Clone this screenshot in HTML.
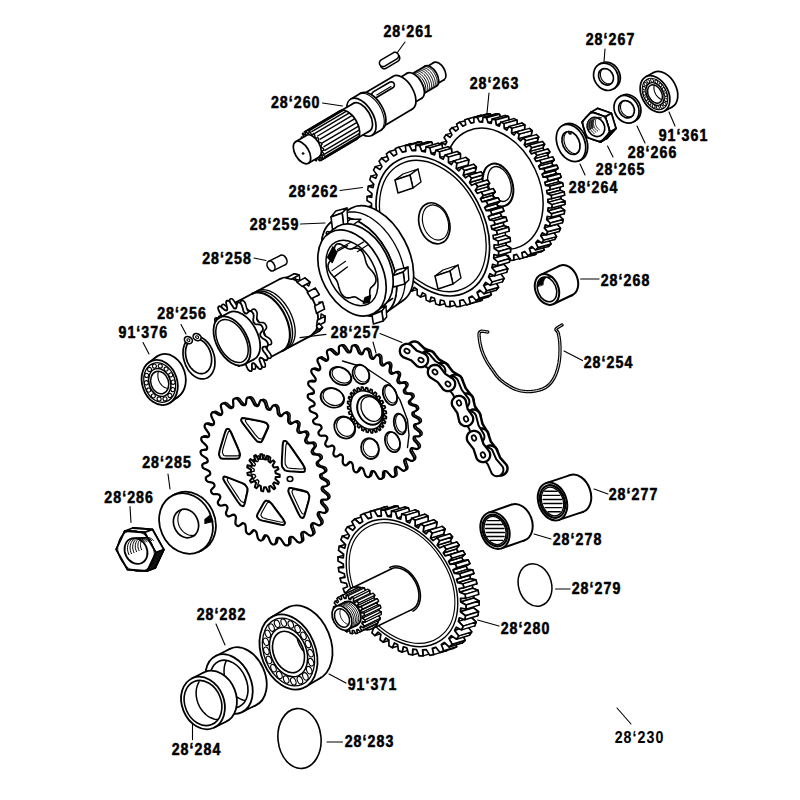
<!DOCTYPE html>
<html><head><meta charset="utf-8"><style>
html,body{margin:0;padding:0;background:#fff;width:800px;height:800px;overflow:hidden}
svg{display:block}
text{font-family:"Liberation Sans",sans-serif;fill:#000}
</style></head><body>
<svg width="800" height="800" viewBox="0 0 800 800" stroke-linejoin="round" stroke-linecap="round">
<rect width="800" height="800" fill="#fff"/>
<ellipse cx="662.9" cy="89.8" rx="19.5" ry="13.3" transform="rotate(62 662.9 89.8)" fill="#fff" stroke="#000" stroke-width="1.7"/>
<path d="M645.8,76.8 653.8,72.6 672.1,107 664.2,111.2Z" fill="#fff" stroke="none" stroke-width="0"/>
<path d="M645.8,76.8 653.8,72.6" stroke="#000" stroke-width="1.7"/>
<path d="M664.2,111.2 672.1,107" stroke="#000" stroke-width="1.7"/>
<ellipse cx="655" cy="94" rx="19.5" ry="13.3" transform="rotate(62 655 94)" fill="#fff" stroke="#000" stroke-width="1.7"/>
<ellipse cx="655" cy="94" rx="16.8" ry="11.4" transform="rotate(62 655 94)" fill="#fff" stroke="#000" stroke-width="1.1"/>
<ellipse cx="655" cy="94" rx="12.1" ry="8.2" transform="rotate(62 655 94)" fill="#fff" stroke="#000" stroke-width="1.4"/>
<ellipse cx="655" cy="94" rx="9.8" ry="6.6" transform="rotate(62 655 94)" fill="#fff" stroke="#000" stroke-width="1.5"/>
<ellipse cx="661.8" cy="106.7" rx="1.9" ry="1.3" transform="rotate(62 661.8 106.7)" fill="#fff" stroke="#000" stroke-width="1"/>
<ellipse cx="657.9" cy="107.5" rx="1.9" ry="1.3" transform="rotate(62 657.9 107.5)" fill="#fff" stroke="#000" stroke-width="1"/>
<ellipse cx="653.7" cy="106.3" rx="1.9" ry="1.3" transform="rotate(62 653.7 106.3)" fill="#fff" stroke="#000" stroke-width="1"/>
<ellipse cx="649.6" cy="103.1" rx="1.9" ry="1.3" transform="rotate(62 649.6 103.1)" fill="#fff" stroke="#000" stroke-width="1"/>
<ellipse cx="646.3" cy="98.6" rx="1.9" ry="1.3" transform="rotate(62 646.3 98.6)" fill="#fff" stroke="#000" stroke-width="1"/>
<ellipse cx="644.4" cy="93.4" rx="1.9" ry="1.3" transform="rotate(62 644.4 93.4)" fill="#fff" stroke="#000" stroke-width="1"/>
<ellipse cx="644.1" cy="88.2" rx="1.9" ry="1.3" transform="rotate(62 644.1 88.2)" fill="#fff" stroke="#000" stroke-width="1"/>
<ellipse cx="645.4" cy="84" rx="1.9" ry="1.3" transform="rotate(62 645.4 84)" fill="#fff" stroke="#000" stroke-width="1"/>
<ellipse cx="648.2" cy="81.3" rx="1.9" ry="1.3" transform="rotate(62 648.2 81.3)" fill="#fff" stroke="#000" stroke-width="1"/>
<ellipse cx="652.1" cy="80.5" rx="1.9" ry="1.3" transform="rotate(62 652.1 80.5)" fill="#fff" stroke="#000" stroke-width="1"/>
<ellipse cx="656.3" cy="81.7" rx="1.9" ry="1.3" transform="rotate(62 656.3 81.7)" fill="#fff" stroke="#000" stroke-width="1"/>
<ellipse cx="660.4" cy="84.9" rx="1.9" ry="1.3" transform="rotate(62 660.4 84.9)" fill="#fff" stroke="#000" stroke-width="1"/>
<ellipse cx="663.7" cy="89.4" rx="1.9" ry="1.3" transform="rotate(62 663.7 89.4)" fill="#fff" stroke="#000" stroke-width="1"/>
<ellipse cx="665.6" cy="94.6" rx="1.9" ry="1.3" transform="rotate(62 665.6 94.6)" fill="#fff" stroke="#000" stroke-width="1"/>
<ellipse cx="665.9" cy="99.8" rx="1.9" ry="1.3" transform="rotate(62 665.9 99.8)" fill="#fff" stroke="#000" stroke-width="1"/>
<ellipse cx="664.6" cy="104" rx="1.9" ry="1.3" transform="rotate(62 664.6 104)" fill="#fff" stroke="#000" stroke-width="1"/>
<path d="M661.6,99.4 661,99.2 660.5,98.9 660,98.7 659.5,98.3 659,98 658.5,97.5 658,97.1 657.6,96.6 657.1,96.1 656.7,95.6 656.3,95.1 655.9,94.5 655.6,93.9 655.3,93.3 655,92.6 654.7,92 654.5,91.4 654.3,90.7 654.2,90.1 654.1,89.4 654,88.8 653.9,88.2 653.9,87.6 654,87 654,86.4 654.1,85.8 654.3,85.3" fill="none" stroke="#000" stroke-width="1.1"/>
<ellipse cx="607.9" cy="75.7" rx="14.2" ry="11.8" transform="rotate(60 607.9 75.7)" fill="#fff" stroke="#000" stroke-width="1.7"/>
<path d="M598.9,64.5 600.8,63.4 615,88 613.1,89.1Z" fill="#fff" stroke="none" stroke-width="0"/>
<path d="M598.9,64.5 600.8,63.4" stroke="#000" stroke-width="1.7"/>
<path d="M613.1,89.1 615,88" stroke="#000" stroke-width="1.7"/>
<ellipse cx="606" cy="76.8" rx="14.2" ry="11.8" transform="rotate(60 606 76.8)" fill="#fff" stroke="#000" stroke-width="1.7"/>
<ellipse cx="606" cy="76.8" rx="8.6" ry="7.1" transform="rotate(60 606 76.8)" fill="#fff" stroke="#000" stroke-width="1.7"/>
<path d="M610.8,83.7 610.3,83.8 609.8,83.9 609.3,84 608.8,83.9 608.2,83.9 607.7,83.8 607.2,83.7 606.6,83.5 606.1,83.3 605.6,83.1 605.1,82.8 604.6,82.5 604.2,82.1 603.7,81.7 603.3,81.3 602.9,80.9 602.5,80.4 602.1,79.9 601.8,79.4 601.5,78.9 601.2,78.3 601,77.8 600.8,77.2 600.7,76.6 600.5,76 600.4,75.5 600.4,74.9 600.4,74.3 600.4,73.7 600.5,73.2 600.6,72.6 600.7,72.1 600.9,71.6 601.1,71.1 601.3,70.6 601.6,70.2 601.9,69.7 602.2,69.4" fill="none" stroke="#000" stroke-width="1.1"/>
<ellipse cx="628.4" cy="108.2" rx="14.3" ry="11.9" transform="rotate(60 628.4 108.2)" fill="#fff" stroke="#000" stroke-width="1.7"/>
<path d="M619.4,96.9 621.3,95.8 635.6,120.6 633.6,121.7Z" fill="#fff" stroke="none" stroke-width="0"/>
<path d="M619.4,96.9 621.3,95.8" stroke="#000" stroke-width="1.7"/>
<path d="M633.6,121.7 635.6,120.6" stroke="#000" stroke-width="1.7"/>
<ellipse cx="626.5" cy="109.3" rx="14.3" ry="11.9" transform="rotate(60 626.5 109.3)" fill="#fff" stroke="#000" stroke-width="1.7"/>
<ellipse cx="626.5" cy="109.3" rx="9" ry="7.5" transform="rotate(60 626.5 109.3)" fill="#fff" stroke="#000" stroke-width="1.7"/>
<path d="M631.4,116.6 630.9,116.7 630.4,116.8 629.8,116.8 629.3,116.8 628.7,116.8 628.2,116.7 627.6,116.6 627.1,116.4 626.5,116.2 626,115.9 625.5,115.6 625,115.3 624.5,114.9 624,114.5 623.6,114.1 623.1,113.6 622.7,113.1 622.4,112.6 622,112.1 621.7,111.5 621.4,110.9 621.2,110.4 621,109.8 620.8,109.2 620.7,108.6 620.6,107.9 620.5,107.3 620.5,106.7 620.6,106.1 620.6,105.5 620.7,105 620.9,104.4 621,103.9 621.3,103.4 621.5,102.9 621.8,102.4 622.1,102 622.5,101.6" fill="none" stroke="#000" stroke-width="1.1"/>
<path d="M606.7,138.6 592.8,133.7 588.1,118.5 597.4,108.4 611.4,113.3 616,128.5Z" fill="#fff" stroke="#000" stroke-width="1.7"/>
<path d="M610,132 600.7,142.1 606.7,138.6 616,128.5Z" fill="#fff" stroke="#000" stroke-width="1.7"/>
<path d="M591.3,111.9 605.3,116.8 611.4,113.3 597.4,108.4Z" fill="#fff" stroke="#000" stroke-width="1.7"/>
<path d="M605.3,116.8 610,132 616,128.5 611.4,113.3Z" fill="#fff" stroke="#000" stroke-width="1.7"/>
<path d="M600.7,142.1 586.7,137.2 582,122 591.3,111.9 605.3,116.8 610,132Z" fill="#fff" stroke="#000" stroke-width="1.7"/>
<path d="M610,132 600.7,142.1 606.7,138.6 616,128.5Z" fill="#111" stroke="#000" stroke-width="1.1"/>
<path d="M600.7,142.1 586.7,137.2 582,122 591.3,111.9 605.3,116.8 610,132Z" fill="#fff" stroke="#000" stroke-width="1.7"/>
<ellipse cx="596" cy="127" rx="14.7" ry="12.5" transform="rotate(60 596 127)" fill="none" stroke="#000" stroke-width="0.8"/>
<ellipse cx="596" cy="127" rx="9.9" ry="8.4" transform="rotate(60 596 127)" fill="#fff" stroke="#000" stroke-width="1.7"/>
<path d="M587.9,129.7 587.6,128.7 587.4,127.8 587.2,126.9 587.2,125.9 587.2,125 587.3,124.1 587.5,123.2 587.8,122.3 588.1,121.5 588.5,120.8 589,120.1 589.6,119.5 590.2,118.9 590.9,118.5 591.7,118.1 592.4,117.8 593.3,117.6 594.1,117.5 595,117.4 595.8,117.5 596.7,117.7 597.6,117.9 598.4,118.2 601.6,117.9 600.9,117.6 600.2,117.4 599.5,117.3 598.8,117.2 598.1,117.3 597.4,117.4 596.8,117.5 596.2,117.8 595.6,118.1 595,118.5 594.5,118.9 594.1,119.4 593.7,119.9 593.3,120.5 593,121.2 592.8,121.9 592.7,122.6 592.6,123.3 592.6,124 592.6,124.8 592.8,125.5 592.9,126.3 593.2,127Z" fill="#555" stroke="#000" stroke-width="0.9"/>
<path d="M594.2,133.5 593.6,133.1 593,132.6 592.4,132 591.9,131.4 591.4,130.8 591,130.2 590.6,129.5 590.3,128.8 590,128.1 589.8,127.3 589.6,126.6 589.5,125.8 589.4,125.1 589.4,124.3 589.5,123.6 589.6,122.9 589.8,122.2 590,121.5 590.3,120.9" fill="none" stroke="#000" stroke-width="0.9"/>
<path d="M595.9,132.2 595.3,131.8 594.7,131.3 594.2,130.8 593.7,130.3 593.3,129.7 592.9,129.1 592.5,128.4 592.2,127.8 591.9,127.1 591.7,126.4 591.6,125.7 591.5,125 591.4,124.3 591.4,123.6 591.4,122.9 591.6,122.2 591.7,121.5 591.9,120.9 592.2,120.3" fill="none" stroke="#000" stroke-width="0.9"/>
<path d="M597.6,131 597,130.6 596.5,130.1 596,129.6 595.6,129.1 595.1,128.6 594.8,128 594.4,127.4 594.1,126.7 593.9,126.1 593.7,125.4 593.5,124.8 593.4,124.1 593.4,123.4 593.4,122.8 593.4,122.1 593.5,121.5 593.6,120.8 593.8,120.2 594.1,119.7" fill="none" stroke="#000" stroke-width="0.9"/>
<path d="M599.3,129.7 598.8,129.3 598.3,128.9 597.8,128.4 597.4,128 597,127.4 596.6,126.9 596.3,126.3 596,125.7 595.8,125.1 595.6,124.5 595.5,123.9 595.4,123.2 595.3,122.6 595.3,122 595.4,121.4 595.4,120.8 595.6,120.2 595.8,119.6 596,119.1" fill="none" stroke="#000" stroke-width="0.9"/>
<ellipse cx="573" cy="142.1" rx="19.5" ry="13.6" transform="rotate(66 573 142.1)" fill="#fff" stroke="#000" stroke-width="1.7"/>
<path d="M563.1,125.2 565.1,124.3 580.9,159.9 578.9,160.8Z" fill="#fff" stroke="none" stroke-width="0"/>
<path d="M563.1,125.2 565.1,124.3" stroke="#000" stroke-width="1.7"/>
<path d="M578.9,160.8 580.9,159.9" stroke="#000" stroke-width="1.7"/>
<ellipse cx="571" cy="143" rx="19.5" ry="13.6" transform="rotate(66 571 143)" fill="#fff" stroke="#000" stroke-width="1.7"/>
<ellipse cx="571" cy="143" rx="12" ry="8.4" transform="rotate(66 571 143)" fill="#fff" stroke="#000" stroke-width="1.7"/>
<path d="M576.2,153.5 575.6,153.6 574.9,153.6 574.3,153.5 573.7,153.4 573,153.2 572.4,153 571.7,152.7 571.1,152.3 570.5,151.9 569.9,151.5 569.3,151 568.7,150.5 568.2,149.9 567.6,149.3 567.1,148.6 566.6,147.9 566.2,147.2 565.8,146.5 565.4,145.7 565.1,144.9 564.8,144.1 564.5,143.3 564.3,142.5 564.2,141.7 564,140.9 564,140.1 563.9,139.3 563.9,138.5 564,137.8 564.1,137 564.2,136.3 564.4,135.6 564.6,135 564.9,134.4 565.2,133.8 565.6,133.3 566,132.8 566.4,132.3" fill="none" stroke="#000" stroke-width="1.1"/>
<path d="M568.5,131.5 569.2,133.8 570.9,134.1 571.2,132Z" fill="#fff" stroke="#000" stroke-width="1.4"/>
<ellipse cx="439" cy="71.1" rx="10" ry="5.5" transform="rotate(59.3 439 71.1)" fill="#fff" stroke="#000" stroke-width="1.7"/>
<path d="M434.2,85.6 444.1,79.7 433.9,62.5 424,68.4Z" fill="#fff" stroke="none" stroke-width="0"/>
<path d="M434.2,85.6 444.1,79.7" stroke="#000" stroke-width="1.7"/>
<path d="M424,68.4 433.9,62.5" stroke="#000" stroke-width="1.7"/>
<ellipse cx="429.1" cy="77" rx="10" ry="5.5" transform="rotate(59.3 429.1 77)" fill="#fff" stroke="#000" stroke-width="1.7"/>
<ellipse cx="430.8" cy="76" rx="11.5" ry="6.3" transform="rotate(59.3 430.8 76)" fill="#fff" stroke="#000" stroke-width="1.7"/>
<path d="M420.1,95.7 436.6,85.9 424.9,66.2 408.4,76Z" fill="#fff" stroke="none" stroke-width="0"/>
<path d="M420.1,95.7 436.6,85.9" stroke="#000" stroke-width="1.7"/>
<path d="M408.4,76 424.9,66.2" stroke="#000" stroke-width="1.7"/>
<ellipse cx="414.3" cy="85.8" rx="11.5" ry="6.3" transform="rotate(59.3 414.3 85.8)" fill="#fff" stroke="#000" stroke-width="1.7"/>
<path d="M411,74.6 411.6,74.5 412.3,74.5 413,74.6 413.7,74.7 414.5,75 415.3,75.4 416,75.9 416.8,76.4 417.6,77 418.3,77.7 419.1,78.5 419.8,79.3 420.4,80.2 421.1,81.2 421.6,82.1 422.1,83.1 422.6,84.1 423,85.1 423.3,86.1 423.6,87.1 423.8,88.1 423.9,89.1 423.9,90 423.9,90.8 423.8,91.6 423.6,92.4 423.3,93 423,93.6 422.6,94.1" fill="none" stroke="#000" stroke-width="1"/>
<path d="M412.9,73.5 413.5,73.4 414.2,73.3 414.9,73.4 415.6,73.6 416.4,73.9 417.2,74.3 417.9,74.7 418.7,75.3 419.5,75.9 420.2,76.6 421,77.4 421.7,78.2 422.3,79.1 423,80 423.5,81 424,82 424.5,83 424.9,84 425.2,85 425.5,86 425.7,87 425.8,87.9 425.8,88.8 425.8,89.7 425.7,90.5 425.5,91.2 425.2,91.9 424.9,92.5 424.5,93" fill="none" stroke="#000" stroke-width="1"/>
<path d="M414.8,72.3 415.4,72.2 416.1,72.2 416.8,72.3 417.5,72.5 418.3,72.8 419.1,73.1 419.8,73.6 420.6,74.2 421.4,74.8 422.1,75.5 422.9,76.3 423.6,77.1 424.2,78 424.9,78.9 425.4,79.9 425.9,80.9 426.4,81.9 426.8,82.9 427.1,83.9 427.4,84.9 427.6,85.9 427.7,86.8 427.7,87.7 427.7,88.6 427.6,89.4 427.4,90.1 427.1,90.8 426.8,91.4 426.4,91.9" fill="none" stroke="#000" stroke-width="1"/>
<path d="M416.7,71.2 417.3,71.1 418,71.1 418.7,71.2 419.4,71.4 420.2,71.6 421,72 421.7,72.5 422.5,73 423.3,73.7 424,74.4 424.8,75.1 425.5,76 426.1,76.8 426.8,77.8 427.3,78.7 427.8,79.7 428.3,80.7 428.7,81.7 429,82.8 429.3,83.8 429.5,84.7 429.6,85.7 429.6,86.6 429.6,87.4 429.5,88.2 429.3,89 429,89.6 428.7,90.2 428.3,90.7" fill="none" stroke="#000" stroke-width="1"/>
<path d="M418.6,70.1 419.2,70 419.9,70 420.6,70 421.3,70.2 422.1,70.5 422.9,70.9 423.6,71.3 424.4,71.9 425.2,72.5 425.9,73.2 426.7,74 427.4,74.8 428,75.7 428.7,76.6 429.2,77.6 429.7,78.6 430.2,79.6 430.6,80.6 430.9,81.6 431.2,82.6 431.4,83.6 431.5,84.6 431.5,85.5 431.5,86.3 431.4,87.1 431.2,87.9 430.9,88.5 430.6,89.1 430.2,89.6" fill="none" stroke="#000" stroke-width="1"/>
<path d="M420.5,69 421.1,68.8 421.8,68.8 422.5,68.9 423.2,69.1 424,69.4 424.8,69.8 425.5,70.2 426.3,70.8 427.1,71.4 427.8,72.1 428.6,72.9 429.3,73.7 429.9,74.6 430.6,75.5 431.1,76.5 431.6,77.5 432.1,78.5 432.5,79.5 432.8,80.5 433.1,81.5 433.3,82.5 433.4,83.4 433.4,84.3 433.4,85.2 433.2,86 433.1,86.7 432.8,87.4 432.5,88 432.1,88.5" fill="none" stroke="#000" stroke-width="1"/>
<path d="M422.4,67.8 423,67.7 423.7,67.7 424.4,67.8 425.1,68 425.9,68.3 426.7,68.6 427.4,69.1 428.2,69.6 429,70.3 429.7,71 430.5,71.7 431.2,72.6 431.8,73.5 432.5,74.4 433,75.4 433.5,76.3 434,77.4 434.4,78.4 434.7,79.4 435,80.4 435.2,81.4 435.3,82.3 435.3,83.2 435.3,84.1 435.1,84.9 435,85.6 434.7,86.3 434.4,86.9 434,87.4" fill="none" stroke="#000" stroke-width="1"/>
<path d="M424.3,66.7 424.9,66.6 425.6,66.6 426.3,66.7 427,66.8 427.8,67.1 428.6,67.5 429.3,68 430.1,68.5 430.9,69.1 431.6,69.8 432.4,70.6 433.1,71.5 433.7,72.3 434.3,73.3 434.9,74.2 435.4,75.2 435.9,76.2 436.3,77.2 436.6,78.2 436.9,79.2 437.1,80.2 437.2,81.2 437.2,82.1 437.2,82.9 437,83.7 436.9,84.5 436.6,85.1 436.3,85.7 435.9,86.2" fill="none" stroke="#000" stroke-width="1"/>
<ellipse cx="414.3" cy="85.8" rx="14.5" ry="8" transform="rotate(59.3 414.3 85.8)" fill="#fff" stroke="#000" stroke-width="1.7"/>
<path d="M409.3,105.7 421.7,98.3 406.9,73.4 394.5,80.7Z" fill="#fff" stroke="none" stroke-width="0"/>
<path d="M409.3,105.7 421.7,98.3" stroke="#000" stroke-width="1.7"/>
<path d="M394.5,80.7 406.9,73.4" stroke="#000" stroke-width="1.7"/>
<ellipse cx="401.9" cy="93.2" rx="14.5" ry="8" transform="rotate(59.3 401.9 93.2)" fill="#fff" stroke="#000" stroke-width="1.7"/>
<ellipse cx="402.7" cy="92.7" rx="19" ry="10.5" transform="rotate(59.3 402.7 92.7)" fill="#fff" stroke="#000" stroke-width="1.7"/>
<path d="M381,127.7 412.4,109 393,76.4 361.6,95Z" fill="#fff" stroke="none" stroke-width="0"/>
<path d="M381,127.7 412.4,109" stroke="#000" stroke-width="1.7"/>
<path d="M361.6,95 393,76.4" stroke="#000" stroke-width="1.7"/>
<ellipse cx="371.3" cy="111.3" rx="19" ry="10.5" transform="rotate(59.3 371.3 111.3)" fill="#fff" stroke="#000" stroke-width="1.7"/>
<path d="M376.5,97.5 375.5,97.8 374.3,97.9 373.3,97.5 372.4,96.8 371.9,95.8 371.7,94.7 371.8,93.6 372.4,92.7 373.2,91.9 389.6,82.2 390.6,81.9 391.7,81.8 392.8,82.2 393.6,82.9 394.2,83.9 394.4,85 394.2,86.1 393.7,87 392.8,87.8Z" fill="#fff" stroke="#000" stroke-width="1.6"/>
<path d="M376.8,95 391,86.5" stroke="#000" stroke-width="1.1"/>
<ellipse cx="371.3" cy="111.3" rx="21" ry="11.6" transform="rotate(59.3 371.3 111.3)" fill="#fff" stroke="#000" stroke-width="1.7"/>
<path d="M372.2,135.3 382.1,129.4 360.6,93.3 350.7,99.2Z" fill="#fff" stroke="none" stroke-width="0"/>
<path d="M372.2,135.3 382.1,129.4" stroke="#000" stroke-width="1.7"/>
<path d="M350.7,99.2 360.6,93.3" stroke="#000" stroke-width="1.7"/>
<ellipse cx="361.4" cy="117.2" rx="21" ry="11.6" transform="rotate(59.3 361.4 117.2)" fill="#fff" stroke="#000" stroke-width="1.7"/>
<path d="M360.7,93.6 361.8,93.4 363,93.3 364.3,93.5 365.7,93.8 367.1,94.3 368.5,95 369.9,95.9 371.3,96.9 372.7,98 374.1,99.3 375.5,100.7 376.7,102.2 378,103.8 379.1,105.5 380.1,107.3 381.1,109.1 381.9,110.9 382.6,112.8 383.2,114.6 383.7,116.5 384,118.3 384.2,120 384.3,121.6 384.2,123.2 384,124.7 383.7,126 383.2,127.2 382.6,128.3 381.8,129.2" fill="none" stroke="#000" stroke-width="1.1"/>
<ellipse cx="361.4" cy="117.2" rx="16" ry="8.8" transform="rotate(59.3 361.4 117.2)" fill="#fff" stroke="#000" stroke-width="1.7"/>
<path d="M355.6,139.3 369.6,131 353.3,103.5 339.2,111.8Z" fill="#fff" stroke="none" stroke-width="0"/>
<path d="M355.6,139.3 369.6,131" stroke="#000" stroke-width="1.7"/>
<path d="M339.2,111.8 353.3,103.5" stroke="#000" stroke-width="1.7"/>
<ellipse cx="347.4" cy="125.5" rx="16" ry="8.8" transform="rotate(59.3 347.4 125.5)" fill="#fff" stroke="#000" stroke-width="1.7"/>
<ellipse cx="348.2" cy="125.1" rx="16.5" ry="9.1" transform="rotate(59.3 348.2 125.1)" fill="#fff" stroke="#000" stroke-width="1.7"/>
<path d="M321.2,160.3 356.6,139.2 339.8,110.9 304.3,131.9Z" fill="#fff" stroke="none" stroke-width="0"/>
<path d="M321.2,160.3 356.6,139.2" stroke="#000" stroke-width="1.7"/>
<path d="M304.3,131.9 339.8,110.9" stroke="#000" stroke-width="1.7"/>
<path d="M306.5,130.9 340.3,110.8" stroke="#000" stroke-width="1.4"/>
<path d="M309,130.8 342.8,110.7" stroke="#000" stroke-width="1.4"/>
<path d="M311.8,131.6 345.7,111.6" stroke="#000" stroke-width="1.4"/>
<path d="M314.8,133.4 348.6,113.3" stroke="#000" stroke-width="1.4"/>
<path d="M317.6,136 351.5,115.9" stroke="#000" stroke-width="1.4"/>
<path d="M320.2,139.2 354.1,119.1" stroke="#000" stroke-width="1.4"/>
<path d="M322.4,142.9 356.2,122.8" stroke="#000" stroke-width="1.4"/>
<path d="M324,146.7 357.8,126.6" stroke="#000" stroke-width="1.4"/>
<path d="M324.9,150.4 358.7,130.3" stroke="#000" stroke-width="1.4"/>
<path d="M325,153.9 358.8,133.8" stroke="#000" stroke-width="1.4"/>
<path d="M324.4,156.8 358.3,136.7" stroke="#000" stroke-width="1.4"/>
<path d="M323.1,158.9 356.9,138.8" stroke="#000" stroke-width="1.4"/>
<path d="M319.6,157.7 320.3,160.7 319.5,160.9 317.5,158.3 316.7,158.3 316.5,160.8 315.4,160.5 314,157.5 313.1,157 312,158.7 310.9,157.9 310.3,154.9 309.5,154.1 307.7,154.7 306.7,153.4 307.1,151 306.3,149.9 304.1,149.3 303.4,147.9 304.6,146.4 304.2,145.2 301.9,143.5 301.6,142.1 303.4,141.7 303.3,140.6 301.3,138.1 301.4,136.9 303.6,137.7 303.9,136.9 302.4,133.9 302.9,133.1 305.2,134.9 305.8,134.5 305.1,131.6 306,131.3 308,133.9 308.8,134 309,131.4 310.1,131.8 311.5,134.8 312.4,135.2 313.4,133.5 314.5,134.4 315.1,137.3 316,138.2 317.8,137.6 318.7,138.8 318.4,141.2 319.1,142.3 321.3,142.9 322,144.4 320.8,145.9 321.3,147.1 323.6,148.7 323.9,150.2 322,150.6 322.1,151.7 324.2,154.2 324.1,155.4 321.8,154.6 321.5,155.4 323.1,158.4 322.5,159.1 320.2,157.3Z" fill="#fff" stroke="#000" stroke-width="1.4"/>
<ellipse cx="312.7" cy="146.1" rx="12.5" ry="6.9" transform="rotate(59.3 312.7 146.1)" fill="#fff" stroke="#000" stroke-width="1.7"/>
<path d="M308.4,163.2 319.1,156.9 306.3,135.4 295.6,141.8Z" fill="#fff" stroke="none" stroke-width="0"/>
<path d="M308.4,163.2 319.1,156.9" stroke="#000" stroke-width="1.7"/>
<path d="M295.6,141.8 306.3,135.4" stroke="#000" stroke-width="1.7"/>
<ellipse cx="302" cy="152.5" rx="12.5" ry="6.9" transform="rotate(59.3 302 152.5)" fill="#fff" stroke="#000" stroke-width="1.7"/>
<ellipse cx="303" cy="153.5" rx="1" ry="1" transform="rotate(0 303 153.5)" fill="#000" stroke="#000" stroke-width="0.6"/>
<path d="M386,68.3 384.9,68.7 383.6,68.8 382.4,68.3 381.5,67.5 380.8,66.5 380.6,65.2 380.8,64 381.4,62.9 382.4,62.1 394.4,55 395.6,54.5 396.8,54.5 398,54.9 399,55.7 399.6,56.8 399.8,58 399.6,59.2 399,60.3 398.1,61.1Z" fill="#fff" stroke="#000" stroke-width="1.5"/>
<path d="M384.8,66.1 383.7,66.5 382.4,66.6 381.2,66.1 380.3,65.3 379.6,64.3 379.4,63 379.6,61.8 380.2,60.7 381.2,59.9 393.2,52.8 394.4,52.3 395.6,52.3 396.8,52.7 397.8,53.5 398.4,54.6 398.6,55.8 398.4,57 397.8,58.1 396.9,58.9Z" fill="#fff" stroke="#000" stroke-width="1.5"/>
<path d="M534.8,249.3 535.8,254.3 532.5,255.4 529.7,250.9 526.6,251.6 526.8,256.6 523.4,256.9 521.2,252.1 518,252 517.6,256.8 514.2,256.3 512.6,251.4 509.4,250.7 508.5,255.1 505.2,254.1 504.3,249.1 501.3,247.9 499.8,252 496.7,250.5 496.4,245.6 493.6,243.9 491.7,247.6 488.8,245.7 489.1,241 486.5,239 484.2,242.2 481.5,240 482.4,235.5 480.1,233.3 477.3,236 474.9,233.5 476.4,229.4 474.3,227 471.2,229.1 469,226.4 470.9,222.7 469.1,220.1 465.7,221.6 463.8,218.7 466.2,215.5 464.5,212.7 460.9,213.7 459.3,210.6 462,208 460.7,205 456.8,205.4 455.5,202.2 458.6,200 457.5,197 453.6,196.8 452.5,193.4 455.9,191.9 455.1,188.7 451.1,187.9 450.3,184.5 454,183.5 453.4,180.3 449.4,178.7 449,175.3 452.8,174.9 452.7,171.7 448.7,169.5 448.7,166.1 452.6,166.3 452.8,163.1 449,160.3 449.4,156.8 453.4,157.7 454,154.5 450.4,151.1 451.2,147.8 455.3,149.3 456.3,146.2 453.1,142.3 454.4,139.1 458.4,141.3 459.9,138.4 457.1,134 459,131.1 462.9,133.9 464.9,131.4 462.6,126.6 465.1,124.1 468.7,127.6 471.3,125.6 469.6,120.5 472.6,118.7 475.8,122.7 478.8,121.3 477.8,116.3 481.1,115.2 483.9,119.7 487,119 486.8,114 490.2,113.7 492.4,118.5 495.6,118.6 496,113.8 499.4,114.3 501,119.2 504.2,119.9 505.1,115.5 508.4,116.5 509.3,121.5 512.3,122.7 513.8,118.6 516.9,120.1 517.2,125 520,126.7 521.9,123 524.8,124.9 524.5,129.6 527.1,131.6 529.4,128.4 532.1,130.6 531.2,135.1 533.5,137.3 536.3,134.6 538.7,137.1 537.2,141.2 539.3,143.6 542.4,141.5 544.6,144.2 542.7,147.9 544.5,150.5 547.9,149 549.8,151.9 547.4,155.1 549.1,157.9 552.7,156.9 554.3,160 551.6,162.6 552.9,165.6 556.8,165.2 558.1,168.4 555,170.6 556.1,173.6 560,173.8 561.1,177.2 557.7,178.7 558.5,181.9 562.5,182.7 563.3,186.1 559.6,187.1 560.2,190.3 564.2,191.9 564.6,195.3 560.8,195.7 560.9,198.9 564.9,201.1 564.9,204.5 561,204.3 560.8,207.5 564.6,210.3 564.2,213.8 560.2,212.9 559.6,216.1 563.2,219.5 562.4,222.8 558.3,221.3 557.3,224.4 560.5,228.3 559.2,231.5 555.2,229.3 553.7,232.2 556.5,236.6 554.6,239.5 550.7,236.7 548.7,239.2 551,244 548.5,246.5 544.9,243 542.3,245 544,250.1 541,251.9 537.8,247.9Z" fill="#fff" stroke="#000" stroke-width="1.6"/>
<path d="M436,178.8 439.8,178.4 452.8,174.9 449,175.3Z" fill="#fff" stroke="#000" stroke-width="1.5"/>
<path d="M451.5,216.2 447.9,217.2 460.9,213.7 464.5,212.7Z" fill="#fff" stroke="#000" stroke-width="1.5"/>
<path d="M435.7,169.6 439.6,169.8 452.6,166.3 448.7,166.1Z" fill="#fff" stroke="#000" stroke-width="1.5"/>
<path d="M456.1,223.6 452.7,225.1 465.7,221.6 469.1,220.1Z" fill="#fff" stroke="#000" stroke-width="1.5"/>
<path d="M436.4,160.3 440.4,161.2 453.4,157.7 449.4,156.8Z" fill="#fff" stroke="#000" stroke-width="1.5"/>
<path d="M461.3,230.5 458.2,232.6 471.2,229.1 474.3,227Z" fill="#fff" stroke="#000" stroke-width="1.5"/>
<path d="M438.2,151.3 442.3,152.8 455.3,149.3 451.2,147.8Z" fill="#fff" stroke="#000" stroke-width="1.5"/>
<path d="M467.1,236.8 464.3,239.5 477.3,236 480.1,233.3Z" fill="#fff" stroke="#000" stroke-width="1.5"/>
<path d="M441.4,142.6 445.4,144.8 458.4,141.3 454.4,139.1Z" fill="#fff" stroke="#000" stroke-width="1.5"/>
<path d="M473.5,242.5 471.2,245.7 484.2,242.2 486.5,239Z" fill="#fff" stroke="#000" stroke-width="1.5"/>
<path d="M446,134.6 449.9,137.4 462.9,133.9 459,131.1Z" fill="#fff" stroke="#000" stroke-width="1.5"/>
<path d="M480.6,247.4 478.7,251.1 491.7,247.6 493.6,243.9Z" fill="#fff" stroke="#000" stroke-width="1.5"/>
<path d="M452.1,127.6 455.7,131.1 468.7,127.6 465.1,124.1Z" fill="#fff" stroke="#000" stroke-width="1.5"/>
<path d="M488.3,251.4 486.8,255.5 499.8,252 501.3,247.9Z" fill="#fff" stroke="#000" stroke-width="1.5"/>
<path d="M496.4,254.2 495.5,258.6 508.5,255.1 509.4,250.7Z" fill="#fff" stroke="#000" stroke-width="1.5"/>
<path d="M459.6,122.2 462.8,126.2 475.8,122.7 472.6,118.7Z" fill="#fff" stroke="#000" stroke-width="1.5"/>
<path d="M505,255.5 504.6,260.3 517.6,256.8 518,252Z" fill="#fff" stroke="#000" stroke-width="1.5"/>
<path d="M468.1,118.7 470.9,123.2 483.9,119.7 481.1,115.2Z" fill="#fff" stroke="#000" stroke-width="1.5"/>
<path d="M470.9,123.2 474,122.5 487,119 483.9,119.7Z" fill="#fff" stroke="#000" stroke-width="1.5"/>
<path d="M473.8,117.5 477.2,117.2 490.2,113.7 486.8,114Z" fill="#fff" stroke="#000" stroke-width="1.5"/>
<path d="M513.6,255.1 513.8,260.1 526.8,256.6 526.6,251.6Z" fill="#fff" stroke="#000" stroke-width="1.5"/>
<path d="M477.2,117.2 479.4,122 492.4,118.5 490.2,113.7Z" fill="#fff" stroke="#000" stroke-width="1.5"/>
<path d="M479.4,122 482.6,122.1 495.6,118.6 492.4,118.5Z" fill="#fff" stroke="#000" stroke-width="1.5"/>
<path d="M522.8,257.8 519.5,258.9 532.5,255.4 535.8,254.3Z" fill="#fff" stroke="#000" stroke-width="1.5"/>
<path d="M483,117.3 486.4,117.8 499.4,114.3 496,113.8Z" fill="#fff" stroke="#000" stroke-width="1.5"/>
<path d="M521.8,252.8 522.8,257.8 535.8,254.3 534.8,249.3Z" fill="#fff" stroke="#000" stroke-width="1.5"/>
<path d="M486.4,117.8 488,122.7 501,119.2 499.4,114.3Z" fill="#fff" stroke="#000" stroke-width="1.5"/>
<path d="M524.8,251.4 521.8,252.8 534.8,249.3 537.8,247.9Z" fill="#fff" stroke="#000" stroke-width="1.5"/>
<path d="M488,122.7 491.2,123.4 504.2,119.9 501,119.2Z" fill="#fff" stroke="#000" stroke-width="1.5"/>
<path d="M531,253.6 528,255.4 541,251.9 544,250.1Z" fill="#fff" stroke="#000" stroke-width="1.5"/>
<path d="M492.1,119 495.4,120 508.4,116.5 505.1,115.5Z" fill="#fff" stroke="#000" stroke-width="1.5"/>
<path d="M529.3,248.5 531,253.6 544,250.1 542.3,245Z" fill="#fff" stroke="#000" stroke-width="1.5"/>
<path d="M495.4,120 496.3,125 509.3,121.5 508.4,116.5Z" fill="#fff" stroke="#000" stroke-width="1.5"/>
<path d="M531.9,246.5 529.3,248.5 542.3,245 544.9,243Z" fill="#fff" stroke="#000" stroke-width="1.5"/>
<path d="M496.3,125 499.3,126.2 512.3,122.7 509.3,121.5Z" fill="#fff" stroke="#000" stroke-width="1.5"/>
<path d="M500.8,122.1 503.9,123.6 516.9,120.1 513.8,118.6Z" fill="#fff" stroke="#000" stroke-width="1.5"/>
<path d="M538,247.5 535.5,250 548.5,246.5 551,244Z" fill="#fff" stroke="#000" stroke-width="1.5"/>
<path d="M503.9,123.6 504.2,128.5 517.2,125 516.9,120.1Z" fill="#fff" stroke="#000" stroke-width="1.5"/>
<path d="M504.2,128.5 507,130.2 520,126.7 517.2,125Z" fill="#fff" stroke="#000" stroke-width="1.5"/>
<path d="M535.7,242.7 538,247.5 551,244 548.7,239.2Z" fill="#fff" stroke="#000" stroke-width="1.5"/>
<path d="M537.7,240.2 535.7,242.7 548.7,239.2 550.7,236.7Z" fill="#fff" stroke="#000" stroke-width="1.5"/>
<path d="M508.9,126.5 511.8,128.4 524.8,124.9 521.9,123Z" fill="#fff" stroke="#000" stroke-width="1.5"/>
<path d="M511.8,128.4 511.5,133.1 524.5,129.6 524.8,124.9Z" fill="#fff" stroke="#000" stroke-width="1.5"/>
<path d="M511.5,133.1 514.1,135.1 527.1,131.6 524.5,129.6Z" fill="#fff" stroke="#000" stroke-width="1.5"/>
<path d="M543.5,240.1 541.6,243 554.6,239.5 556.5,236.6Z" fill="#fff" stroke="#000" stroke-width="1.5"/>
<path d="M540.7,235.7 543.5,240.1 556.5,236.6 553.7,232.2Z" fill="#fff" stroke="#000" stroke-width="1.5"/>
<path d="M542.2,232.8 540.7,235.7 553.7,232.2 555.2,229.3Z" fill="#fff" stroke="#000" stroke-width="1.5"/>
<path d="M518.2,138.6 520.5,140.8 533.5,137.3 531.2,135.1Z" fill="#fff" stroke="#000" stroke-width="1.5"/>
<path d="M519.1,134.1 518.2,138.6 531.2,135.1 532.1,130.6Z" fill="#fff" stroke="#000" stroke-width="1.5"/>
<path d="M516.4,131.9 519.1,134.1 532.1,130.6 529.4,128.4Z" fill="#fff" stroke="#000" stroke-width="1.5"/>
<path d="M545.3,224.8 544.3,227.9 557.3,224.4 558.3,221.3Z" fill="#fff" stroke="#000" stroke-width="1.5"/>
<path d="M547.5,231.8 546.2,235 559.2,231.5 560.5,228.3Z" fill="#fff" stroke="#000" stroke-width="1.5"/>
<path d="M544.3,227.9 547.5,231.8 560.5,228.3 557.3,224.4Z" fill="#fff" stroke="#000" stroke-width="1.5"/>
<path d="M524.2,144.7 526.3,147.1 539.3,143.6 537.2,141.2Z" fill="#fff" stroke="#000" stroke-width="1.5"/>
<path d="M525.7,140.6 524.2,144.7 537.2,141.2 538.7,137.1Z" fill="#fff" stroke="#000" stroke-width="1.5"/>
<path d="M523.3,138.1 525.7,140.6 538.7,137.1 536.3,134.6Z" fill="#fff" stroke="#000" stroke-width="1.5"/>
<path d="M547.2,216.4 546.6,219.6 559.6,216.1 560.2,212.9Z" fill="#fff" stroke="#000" stroke-width="1.5"/>
<path d="M546.6,219.6 550.2,223 563.2,219.5 559.6,216.1Z" fill="#fff" stroke="#000" stroke-width="1.5"/>
<path d="M550.2,223 549.4,226.3 562.4,222.8 563.2,219.5Z" fill="#fff" stroke="#000" stroke-width="1.5"/>
<path d="M529.7,151.4 531.5,154 544.5,150.5 542.7,147.9Z" fill="#fff" stroke="#000" stroke-width="1.5"/>
<path d="M531.6,147.7 529.7,151.4 542.7,147.9 544.6,144.2Z" fill="#fff" stroke="#000" stroke-width="1.5"/>
<path d="M529.4,145 531.6,147.7 544.6,144.2 542.4,141.5Z" fill="#fff" stroke="#000" stroke-width="1.5"/>
<path d="M548,207.8 547.8,211 560.8,207.5 561,204.3Z" fill="#fff" stroke="#000" stroke-width="1.5"/>
<path d="M534.4,158.6 536.1,161.4 549.1,157.9 547.4,155.1Z" fill="#fff" stroke="#000" stroke-width="1.5"/>
<path d="M547.8,211 551.6,213.8 564.6,210.3 560.8,207.5Z" fill="#fff" stroke="#000" stroke-width="1.5"/>
<path d="M536.8,155.4 534.4,158.6 547.4,155.1 549.8,151.9Z" fill="#fff" stroke="#000" stroke-width="1.5"/>
<path d="M551.6,213.8 551.2,217.3 564.2,213.8 564.6,210.3Z" fill="#fff" stroke="#000" stroke-width="1.5"/>
<path d="M547.8,199.2 547.9,202.4 560.9,198.9 560.8,195.7Z" fill="#fff" stroke="#000" stroke-width="1.5"/>
<path d="M538.6,166.1 539.9,169.1 552.9,165.6 551.6,162.6Z" fill="#fff" stroke="#000" stroke-width="1.5"/>
<path d="M534.9,152.5 536.8,155.4 549.8,151.9 547.9,149Z" fill="#fff" stroke="#000" stroke-width="1.5"/>
<path d="M546.6,190.6 547.2,193.8 560.2,190.3 559.6,187.1Z" fill="#fff" stroke="#000" stroke-width="1.5"/>
<path d="M547.9,202.4 551.9,204.6 564.9,201.1 560.9,198.9Z" fill="#fff" stroke="#000" stroke-width="1.5"/>
<path d="M542,174.1 543.1,177.1 556.1,173.6 555,170.6Z" fill="#fff" stroke="#000" stroke-width="1.5"/>
<path d="M541.3,163.5 538.6,166.1 551.6,162.6 554.3,160Z" fill="#fff" stroke="#000" stroke-width="1.5"/>
<path d="M544.7,182.2 545.5,185.4 558.5,181.9 557.7,178.7Z" fill="#fff" stroke="#000" stroke-width="1.5"/>
<path d="M539.9,169.1 543.8,168.7 556.8,165.2 552.9,165.6Z" fill="#fff" stroke="#000" stroke-width="1.5"/>
<path d="M551.9,204.6 551.9,208 564.9,204.5 564.9,201.1Z" fill="#fff" stroke="#000" stroke-width="1.5"/>
<path d="M547.2,193.8 551.2,195.4 564.2,191.9 560.2,190.3Z" fill="#fff" stroke="#000" stroke-width="1.5"/>
<path d="M539.7,160.4 541.3,163.5 554.3,160 552.7,156.9Z" fill="#fff" stroke="#000" stroke-width="1.5"/>
<path d="M545.1,171.9 542,174.1 555,170.6 558.1,168.4Z" fill="#fff" stroke="#000" stroke-width="1.5"/>
<path d="M550.3,189.6 546.6,190.6 559.6,187.1 563.3,186.1Z" fill="#fff" stroke="#000" stroke-width="1.5"/>
<path d="M543.1,177.1 547,177.3 560,173.8 556.1,173.6Z" fill="#fff" stroke="#000" stroke-width="1.5"/>
<path d="M545.5,185.4 549.5,186.2 562.5,182.7 558.5,181.9Z" fill="#fff" stroke="#000" stroke-width="1.5"/>
<path d="M548.1,180.7 544.7,182.2 557.7,178.7 561.1,177.2Z" fill="#fff" stroke="#000" stroke-width="1.5"/>
<path d="M551.2,195.4 551.6,198.8 564.6,195.3 564.2,191.9Z" fill="#fff" stroke="#000" stroke-width="1.5"/>
<path d="M543.8,168.7 545.1,171.9 558.1,168.4 556.8,165.2Z" fill="#fff" stroke="#000" stroke-width="1.5"/>
<path d="M549.5,186.2 550.3,189.6 563.3,186.1 562.5,182.7Z" fill="#fff" stroke="#000" stroke-width="1.5"/>
<path d="M547,177.3 548.1,180.7 561.1,177.2 560,173.8Z" fill="#fff" stroke="#000" stroke-width="1.5"/>
<path d="M521.8,252.8 522.8,257.8 519.5,258.9 516.7,254.4 513.6,255.1 513.8,260.1 510.4,260.4 508.2,255.6 505,255.5 504.6,260.3 501.2,259.8 499.6,254.9 496.4,254.2 495.5,258.6 492.2,257.6 491.3,252.6 488.3,251.4 486.8,255.5 483.7,254 483.4,249.1 480.6,247.4 478.7,251.1 475.8,249.2 476.1,244.5 473.5,242.5 471.2,245.7 468.5,243.5 469.4,239 467.1,236.8 464.3,239.5 461.9,237 463.4,232.9 461.3,230.5 458.2,232.6 456,229.9 457.9,226.2 456.1,223.6 452.7,225.1 450.8,222.2 453.2,219 451.5,216.2 447.9,217.2 446.3,214.1 449,211.5 447.7,208.5 443.8,208.9 442.5,205.7 445.6,203.5 444.5,200.5 440.6,200.3 439.5,196.9 442.9,195.4 442.1,192.2 438.1,191.4 437.3,188 441,187 440.4,183.8 436.4,182.2 436,178.8 439.8,178.4 439.7,175.2 435.7,173 435.7,169.6 439.6,169.8 439.8,166.6 436,163.8 436.4,160.3 440.4,161.2 441,158 437.4,154.6 438.2,151.3 442.3,152.8 443.3,149.7 440.1,145.8 441.4,142.6 445.4,144.8 446.9,141.9 444.1,137.5 446,134.6 449.9,137.4 451.9,134.9 449.6,130.1 452.1,127.6 455.7,131.1 458.3,129.1 456.6,124 459.6,122.2 462.8,126.2 465.8,124.8 464.8,119.8 468.1,118.7 470.9,123.2 474,122.5 473.8,117.5 477.2,117.2 479.4,122 482.6,122.1 483,117.3 486.4,117.8 488,122.7 491.2,123.4 492.1,119 495.4,120 496.3,125 499.3,126.2 500.8,122.1 503.9,123.6 504.2,128.5 507,130.2 508.9,126.5 511.8,128.4 511.5,133.1 514.1,135.1 516.4,131.9 519.1,134.1 518.2,138.6 520.5,140.8 523.3,138.1 525.7,140.6 524.2,144.7 526.3,147.1 529.4,145 531.6,147.7 529.7,151.4 531.5,154 534.9,152.5 536.8,155.4 534.4,158.6 536.1,161.4 539.7,160.4 541.3,163.5 538.6,166.1 539.9,169.1 543.8,168.7 545.1,171.9 542,174.1 543.1,177.1 547,177.3 548.1,180.7 544.7,182.2 545.5,185.4 549.5,186.2 550.3,189.6 546.6,190.6 547.2,193.8 551.2,195.4 551.6,198.8 547.8,199.2 547.9,202.4 551.9,204.6 551.9,208 548,207.8 547.8,211 551.6,213.8 551.2,217.3 547.2,216.4 546.6,219.6 550.2,223 549.4,226.3 545.3,224.8 544.3,227.9 547.5,231.8 546.2,235 542.2,232.8 540.7,235.7 543.5,240.1 541.6,243 537.7,240.2 535.7,242.7 538,247.5 535.5,250 531.9,246.5 529.3,248.5 531,253.6 528,255.4 524.8,251.4Z" fill="#fff" stroke="#000" stroke-width="1.6"/>
<ellipse cx="493.8" cy="188.8" rx="63.5" ry="45.6" transform="rotate(65 493.8 188.8)" fill="none" stroke="#000" stroke-width="1.5"/>
<ellipse cx="498" cy="185" rx="22" ry="14.5" transform="rotate(72 498 185)" fill="none" stroke="#000" stroke-width="2"/>
<ellipse cx="499.5" cy="184" rx="18" ry="11" transform="rotate(72 499.5 184)" fill="none" stroke="#000" stroke-width="1.3"/>
<path d="M480.8,294.2 482.3,300 478.7,301.4 475.2,296.3 471.6,297.1 472.3,302.9 468.4,303.3 465.6,297.8 461.9,297.8 461.9,303.3 458,302.9 455.9,297.2 452.3,296.5 451.6,301.7 447.8,300.6 446.5,294.8 443.1,293.5 441.7,298.3 438.2,296.6 437.6,290.9 434.4,289.2 432.5,293.5 429.2,291.4 429.2,285.9 426.3,283.8 423.9,287.6 420.8,285.1 421.5,280 418.8,277.6 415.9,280.7 413.2,278 414.5,273.3 412,270.6 408.7,273.2 406.2,270.2 408.1,266 405.9,263.1 402.2,265 400,261.8 402.4,258.1 400.4,255.1 396.4,256.4 394.4,253 397.3,249.8 395.6,246.6 391.4,247.2 389.7,243.7 393,241.1 391.5,237.8 387.1,237.7 385.7,234 389.4,232.1 388.2,228.6 383.7,227.8 382.6,224.1 386.6,222.8 385.7,219.2 381.1,217.7 380.4,213.9 384.6,213.2 384.1,209.6 379.5,207.4 379.2,203.5 383.6,203.6 383.5,199.9 379,197 379.1,193 383.7,193.9 384,190.2 379.7,186.5 380.3,182.7 385,184.2 385.8,180.7 381.8,176.3 383,172.6 387.7,174.9 389.1,171.5 385.5,166.6 387.3,163.1 391.9,166.2 394,163.1 391,157.7 393.5,154.7 397.9,158.5 400.6,156.1 398.3,150.3 401.5,148 405.5,152.5 408.8,150.8 407.3,145 410.9,143.6 414.4,148.7 418,147.9 417.3,142.1 421.2,141.7 424,147.2 427.7,147.2 427.7,141.7 431.6,142.1 433.7,147.8 437.3,148.5 438,143.3 441.8,144.4 443.1,150.2 446.5,151.5 447.9,146.7 451.4,148.4 452,154.1 455.2,155.8 457.1,151.5 460.4,153.6 460.4,159.1 463.3,161.2 465.7,157.4 468.8,159.9 468.1,165 470.8,167.4 473.7,164.3 476.4,167 475.1,171.7 477.6,174.4 480.9,171.8 483.4,174.8 481.5,179 483.7,181.9 487.4,180 489.6,183.2 487.2,186.9 489.2,189.9 493.2,188.6 495.2,192 492.3,195.2 494,198.4 498.2,197.8 499.9,201.3 496.6,203.9 498.1,207.2 502.5,207.3 503.9,211 500.2,212.9 501.4,216.4 505.9,217.2 507,220.9 503,222.2 503.9,225.8 508.5,227.3 509.2,231.1 505,231.8 505.5,235.4 510.1,237.6 510.4,241.5 506,241.4 506.1,245.1 510.6,248 510.5,252 505.9,251.1 505.6,254.8 509.9,258.5 509.3,262.3 504.6,260.8 503.8,264.3 507.8,268.7 506.6,272.4 501.9,270.1 500.5,273.5 504.1,278.4 502.3,281.9 497.7,278.8 495.6,281.9 498.6,287.3 496.1,290.3 491.7,286.5 489,288.9 491.3,294.7 488.1,297 484.1,292.5Z" fill="#fff" stroke="#000" stroke-width="1.6"/>
<path d="M368.4,217.4 372.6,216.7 384.6,213.2 380.4,213.9Z" fill="#fff" stroke="#000" stroke-width="1.5"/>
<path d="M367.2,207 371.6,207.1 383.6,203.6 379.2,203.5Z" fill="#fff" stroke="#000" stroke-width="1.5"/>
<path d="M388.4,258.6 384.4,259.9 396.4,256.4 400.4,255.1Z" fill="#fff" stroke="#000" stroke-width="1.5"/>
<path d="M367.1,196.5 371.7,197.4 383.7,193.9 379.1,193Z" fill="#fff" stroke="#000" stroke-width="1.5"/>
<path d="M393.9,266.6 390.2,268.5 402.2,265 405.9,263.1Z" fill="#fff" stroke="#000" stroke-width="1.5"/>
<path d="M368.3,186.2 373,187.7 385,184.2 380.3,182.7Z" fill="#fff" stroke="#000" stroke-width="1.5"/>
<path d="M400,274.1 396.7,276.7 408.7,273.2 412,270.6Z" fill="#fff" stroke="#000" stroke-width="1.5"/>
<path d="M371,176.1 375.7,178.4 387.7,174.9 383,172.6Z" fill="#fff" stroke="#000" stroke-width="1.5"/>
<path d="M406.8,281.1 403.9,284.2 415.9,280.7 418.8,277.6Z" fill="#fff" stroke="#000" stroke-width="1.5"/>
<path d="M375.3,166.6 379.9,169.7 391.9,166.2 387.3,163.1Z" fill="#fff" stroke="#000" stroke-width="1.5"/>
<path d="M414.3,287.3 411.9,291.1 423.9,287.6 426.3,283.8Z" fill="#fff" stroke="#000" stroke-width="1.5"/>
<path d="M422.4,292.7 420.5,297 432.5,293.5 434.4,289.2Z" fill="#fff" stroke="#000" stroke-width="1.5"/>
<path d="M381.5,158.2 385.9,162 397.9,158.5 393.5,154.7Z" fill="#fff" stroke="#000" stroke-width="1.5"/>
<path d="M431.1,297 429.7,301.8 441.7,298.3 443.1,293.5Z" fill="#fff" stroke="#000" stroke-width="1.5"/>
<path d="M389.5,151.5 393.5,156 405.5,152.5 401.5,148Z" fill="#fff" stroke="#000" stroke-width="1.5"/>
<path d="M440.3,300 439.6,305.2 451.6,301.7 452.3,296.5Z" fill="#fff" stroke="#000" stroke-width="1.5"/>
<path d="M398.9,147.1 402.4,152.2 414.4,148.7 410.9,143.6Z" fill="#fff" stroke="#000" stroke-width="1.5"/>
<path d="M402.4,152.2 406,151.4 418,147.9 414.4,148.7Z" fill="#fff" stroke="#000" stroke-width="1.5"/>
<path d="M449.9,301.3 449.9,306.8 461.9,303.3 461.9,297.8Z" fill="#fff" stroke="#000" stroke-width="1.5"/>
<path d="M405.3,145.6 409.2,145.2 421.2,141.7 417.3,142.1Z" fill="#fff" stroke="#000" stroke-width="1.5"/>
<path d="M409.2,145.2 412,150.7 424,147.2 421.2,141.7Z" fill="#fff" stroke="#000" stroke-width="1.5"/>
<path d="M412,150.7 415.7,150.7 427.7,147.2 424,147.2Z" fill="#fff" stroke="#000" stroke-width="1.5"/>
<path d="M459.6,300.6 460.3,306.4 472.3,302.9 471.6,297.1Z" fill="#fff" stroke="#000" stroke-width="1.5"/>
<path d="M415.7,145.2 419.6,145.6 431.6,142.1 427.7,141.7Z" fill="#fff" stroke="#000" stroke-width="1.5"/>
<path d="M419.6,145.6 421.7,151.3 433.7,147.8 431.6,142.1Z" fill="#fff" stroke="#000" stroke-width="1.5"/>
<path d="M421.7,151.3 425.3,152 437.3,148.5 433.7,147.8Z" fill="#fff" stroke="#000" stroke-width="1.5"/>
<path d="M470.3,303.5 466.7,304.9 478.7,301.4 482.3,300Z" fill="#fff" stroke="#000" stroke-width="1.5"/>
<path d="M468.8,297.7 470.3,303.5 482.3,300 480.8,294.2Z" fill="#fff" stroke="#000" stroke-width="1.5"/>
<path d="M472.1,296 468.8,297.7 480.8,294.2 484.1,292.5Z" fill="#fff" stroke="#000" stroke-width="1.5"/>
<path d="M426,146.8 429.8,147.9 441.8,144.4 438,143.3Z" fill="#fff" stroke="#000" stroke-width="1.5"/>
<path d="M429.8,147.9 431.1,153.7 443.1,150.2 441.8,144.4Z" fill="#fff" stroke="#000" stroke-width="1.5"/>
<path d="M431.1,153.7 434.5,155 446.5,151.5 443.1,150.2Z" fill="#fff" stroke="#000" stroke-width="1.5"/>
<path d="M479.3,298.2 476.1,300.5 488.1,297 491.3,294.7Z" fill="#fff" stroke="#000" stroke-width="1.5"/>
<path d="M477,292.4 479.3,298.2 491.3,294.7 489,288.9Z" fill="#fff" stroke="#000" stroke-width="1.5"/>
<path d="M479.7,290 477,292.4 489,288.9 491.7,286.5Z" fill="#fff" stroke="#000" stroke-width="1.5"/>
<path d="M435.9,150.2 439.4,151.9 451.4,148.4 447.9,146.7Z" fill="#fff" stroke="#000" stroke-width="1.5"/>
<path d="M439.4,151.9 440,157.6 452,154.1 451.4,148.4Z" fill="#fff" stroke="#000" stroke-width="1.5"/>
<path d="M440,157.6 443.2,159.3 455.2,155.8 452,154.1Z" fill="#fff" stroke="#000" stroke-width="1.5"/>
<path d="M486.6,290.8 484.1,293.8 496.1,290.3 498.6,287.3Z" fill="#fff" stroke="#000" stroke-width="1.5"/>
<path d="M483.6,285.4 486.6,290.8 498.6,287.3 495.6,281.9Z" fill="#fff" stroke="#000" stroke-width="1.5"/>
<path d="M445.1,155 448.4,157.1 460.4,153.6 457.1,151.5Z" fill="#fff" stroke="#000" stroke-width="1.5"/>
<path d="M448.4,157.1 448.4,162.6 460.4,159.1 460.4,153.6Z" fill="#fff" stroke="#000" stroke-width="1.5"/>
<path d="M485.7,282.3 483.6,285.4 495.6,281.9 497.7,278.8Z" fill="#fff" stroke="#000" stroke-width="1.5"/>
<path d="M448.4,162.6 451.3,164.7 463.3,161.2 460.4,159.1Z" fill="#fff" stroke="#000" stroke-width="1.5"/>
<path d="M456.1,168.5 458.8,170.9 470.8,167.4 468.1,165Z" fill="#fff" stroke="#000" stroke-width="1.5"/>
<path d="M453.7,160.9 456.8,163.4 468.8,159.9 465.7,157.4Z" fill="#fff" stroke="#000" stroke-width="1.5"/>
<path d="M456.8,163.4 456.1,168.5 468.1,165 468.8,159.9Z" fill="#fff" stroke="#000" stroke-width="1.5"/>
<path d="M492.1,281.9 490.3,285.4 502.3,281.9 504.1,278.4Z" fill="#fff" stroke="#000" stroke-width="1.5"/>
<path d="M488.5,277 492.1,281.9 504.1,278.4 500.5,273.5Z" fill="#fff" stroke="#000" stroke-width="1.5"/>
<path d="M489.9,273.6 488.5,277 500.5,273.5 501.9,270.1Z" fill="#fff" stroke="#000" stroke-width="1.5"/>
<path d="M463.1,175.2 465.6,177.9 477.6,174.4 475.1,171.7Z" fill="#fff" stroke="#000" stroke-width="1.5"/>
<path d="M464.4,170.5 463.1,175.2 475.1,171.7 476.4,167Z" fill="#fff" stroke="#000" stroke-width="1.5"/>
<path d="M461.7,167.8 464.4,170.5 476.4,167 473.7,164.3Z" fill="#fff" stroke="#000" stroke-width="1.5"/>
<path d="M492.6,264.3 491.8,267.8 503.8,264.3 504.6,260.8Z" fill="#fff" stroke="#000" stroke-width="1.5"/>
<path d="M491.8,267.8 495.8,272.2 507.8,268.7 503.8,264.3Z" fill="#fff" stroke="#000" stroke-width="1.5"/>
<path d="M495.8,272.2 494.6,275.9 506.6,272.4 507.8,268.7Z" fill="#fff" stroke="#000" stroke-width="1.5"/>
<path d="M469.5,182.5 471.7,185.4 483.7,181.9 481.5,179Z" fill="#fff" stroke="#000" stroke-width="1.5"/>
<path d="M471.4,178.3 469.5,182.5 481.5,179 483.4,174.8Z" fill="#fff" stroke="#000" stroke-width="1.5"/>
<path d="M468.9,175.3 471.4,178.3 483.4,174.8 480.9,171.8Z" fill="#fff" stroke="#000" stroke-width="1.5"/>
<path d="M493.9,254.6 493.6,258.3 505.6,254.8 505.9,251.1Z" fill="#fff" stroke="#000" stroke-width="1.5"/>
<path d="M493.6,258.3 497.9,262 509.9,258.5 505.6,254.8Z" fill="#fff" stroke="#000" stroke-width="1.5"/>
<path d="M475.2,190.4 477.2,193.4 489.2,189.9 487.2,186.9Z" fill="#fff" stroke="#000" stroke-width="1.5"/>
<path d="M497.9,262 497.3,265.8 509.3,262.3 509.9,258.5Z" fill="#fff" stroke="#000" stroke-width="1.5"/>
<path d="M477.6,186.7 475.2,190.4 487.2,186.9 489.6,183.2Z" fill="#fff" stroke="#000" stroke-width="1.5"/>
<path d="M494,244.9 494.1,248.6 506.1,245.1 506,241.4Z" fill="#fff" stroke="#000" stroke-width="1.5"/>
<path d="M475.4,183.5 477.6,186.7 489.6,183.2 487.4,180Z" fill="#fff" stroke="#000" stroke-width="1.5"/>
<path d="M480.3,198.7 482,201.9 494,198.4 492.3,195.2Z" fill="#fff" stroke="#000" stroke-width="1.5"/>
<path d="M494.1,248.6 498.6,251.5 510.6,248 506.1,245.1Z" fill="#fff" stroke="#000" stroke-width="1.5"/>
<path d="M493,235.3 493.5,238.9 505.5,235.4 505,231.8Z" fill="#fff" stroke="#000" stroke-width="1.5"/>
<path d="M483.2,195.5 480.3,198.7 492.3,195.2 495.2,192Z" fill="#fff" stroke="#000" stroke-width="1.5"/>
<path d="M484.6,207.4 486.1,210.7 498.1,207.2 496.6,203.9Z" fill="#fff" stroke="#000" stroke-width="1.5"/>
<path d="M498.6,251.5 498.5,255.5 510.5,252 510.6,248Z" fill="#fff" stroke="#000" stroke-width="1.5"/>
<path d="M491,225.7 491.9,229.3 503.9,225.8 503,222.2Z" fill="#fff" stroke="#000" stroke-width="1.5"/>
<path d="M488.2,216.4 489.4,219.9 501.4,216.4 500.2,212.9Z" fill="#fff" stroke="#000" stroke-width="1.5"/>
<path d="M482,201.9 486.2,201.3 498.2,197.8 494,198.4Z" fill="#fff" stroke="#000" stroke-width="1.5"/>
<path d="M481.2,192.1 483.2,195.5 495.2,192 493.2,188.6Z" fill="#fff" stroke="#000" stroke-width="1.5"/>
<path d="M493.5,238.9 498.1,241.1 510.1,237.6 505.5,235.4Z" fill="#fff" stroke="#000" stroke-width="1.5"/>
<path d="M487.9,204.8 484.6,207.4 496.6,203.9 499.9,201.3Z" fill="#fff" stroke="#000" stroke-width="1.5"/>
<path d="M486.1,210.7 490.5,210.8 502.5,207.3 498.1,207.2Z" fill="#fff" stroke="#000" stroke-width="1.5"/>
<path d="M491.9,229.3 496.5,230.8 508.5,227.3 503.9,225.8Z" fill="#fff" stroke="#000" stroke-width="1.5"/>
<path d="M491.9,214.5 488.2,216.4 500.2,212.9 503.9,211Z" fill="#fff" stroke="#000" stroke-width="1.5"/>
<path d="M495,224.4 491,225.7 503,222.2 507,220.9Z" fill="#fff" stroke="#000" stroke-width="1.5"/>
<path d="M498.1,241.1 498.4,245 510.4,241.5 510.1,237.6Z" fill="#fff" stroke="#000" stroke-width="1.5"/>
<path d="M489.4,219.9 493.9,220.7 505.9,217.2 501.4,216.4Z" fill="#fff" stroke="#000" stroke-width="1.5"/>
<path d="M486.2,201.3 487.9,204.8 499.9,201.3 498.2,197.8Z" fill="#fff" stroke="#000" stroke-width="1.5"/>
<path d="M496.5,230.8 497.2,234.6 509.2,231.1 508.5,227.3Z" fill="#fff" stroke="#000" stroke-width="1.5"/>
<path d="M490.5,210.8 491.9,214.5 503.9,211 502.5,207.3Z" fill="#fff" stroke="#000" stroke-width="1.5"/>
<path d="M493.9,220.7 495,224.4 507,220.9 505.9,217.2Z" fill="#fff" stroke="#000" stroke-width="1.5"/>
<path d="M468.8,297.7 470.3,303.5 466.7,304.9 463.2,299.8 459.6,300.6 460.3,306.4 456.4,306.8 453.6,301.3 449.9,301.3 449.9,306.8 446,306.4 443.9,300.7 440.3,300 439.6,305.2 435.8,304.1 434.5,298.3 431.1,297 429.7,301.8 426.2,300.1 425.6,294.4 422.4,292.7 420.5,297 417.2,294.9 417.2,289.4 414.3,287.3 411.9,291.1 408.8,288.6 409.5,283.5 406.8,281.1 403.9,284.2 401.2,281.5 402.5,276.8 400,274.1 396.7,276.7 394.2,273.7 396.1,269.5 393.9,266.6 390.2,268.5 388,265.3 390.4,261.6 388.4,258.6 384.4,259.9 382.4,256.5 385.3,253.3 383.6,250.1 379.4,250.7 377.7,247.2 381,244.6 379.5,241.3 375.1,241.2 373.7,237.5 377.4,235.6 376.2,232.1 371.7,231.3 370.6,227.6 374.6,226.3 373.7,222.7 369.1,221.2 368.4,217.4 372.6,216.7 372.1,213.1 367.5,210.9 367.2,207 371.6,207.1 371.5,203.4 367,200.5 367.1,196.5 371.7,197.4 372,193.7 367.7,190 368.3,186.2 373,187.7 373.8,184.2 369.8,179.8 371,176.1 375.7,178.4 377.1,175 373.5,170.1 375.3,166.6 379.9,169.7 382,166.6 379,161.2 381.5,158.2 385.9,162 388.6,159.6 386.3,153.8 389.5,151.5 393.5,156 396.8,154.3 395.3,148.5 398.9,147.1 402.4,152.2 406,151.4 405.3,145.6 409.2,145.2 412,150.7 415.7,150.7 415.7,145.2 419.6,145.6 421.7,151.3 425.3,152 426,146.8 429.8,147.9 431.1,153.7 434.5,155 435.9,150.2 439.4,151.9 440,157.6 443.2,159.3 445.1,155 448.4,157.1 448.4,162.6 451.3,164.7 453.7,160.9 456.8,163.4 456.1,168.5 458.8,170.9 461.7,167.8 464.4,170.5 463.1,175.2 465.6,177.9 468.9,175.3 471.4,178.3 469.5,182.5 471.7,185.4 475.4,183.5 477.6,186.7 475.2,190.4 477.2,193.4 481.2,192.1 483.2,195.5 480.3,198.7 482,201.9 486.2,201.3 487.9,204.8 484.6,207.4 486.1,210.7 490.5,210.8 491.9,214.5 488.2,216.4 489.4,219.9 493.9,220.7 495,224.4 491,225.7 491.9,229.3 496.5,230.8 497.2,234.6 493,235.3 493.5,238.9 498.1,241.1 498.4,245 494,244.9 494.1,248.6 498.6,251.5 498.5,255.5 493.9,254.6 493.6,258.3 497.9,262 497.3,265.8 492.6,264.3 491.8,267.8 495.8,272.2 494.6,275.9 489.9,273.6 488.5,277 492.1,281.9 490.3,285.4 485.7,282.3 483.6,285.4 486.6,290.8 484.1,293.8 479.7,290 477,292.4 479.3,298.2 476.1,300.5 472.1,296Z" fill="#fff" stroke="#000" stroke-width="1.6"/>
<ellipse cx="432.8" cy="226" rx="74.3" ry="50.7" transform="rotate(62 432.8 226)" fill="none" stroke="#000" stroke-width="1.7"/>
<ellipse cx="432.8" cy="226" rx="69.8" ry="47.7" transform="rotate(62 432.8 226)" fill="none" stroke="#000" stroke-width="1.3"/>
<ellipse cx="434.3" cy="223.3" rx="21" ry="15" transform="rotate(72 434.3 223.3)" fill="#fff" stroke="#000" stroke-width="1.7"/>
<ellipse cx="435.5" cy="222.5" rx="18" ry="12.5" transform="rotate(72 435.5 222.5)" fill="none" stroke="#000" stroke-width="1.1"/>
<path d="M395,180 403,174 418,169 410,175Z" fill="#fff" stroke="#000" stroke-width="1.3"/>
<path d="M410,175 418,169 421,182 413,188Z" fill="#fff" stroke="#000" stroke-width="1.3"/>
<path d="M395,180 410,175 413,188 398,193Z" fill="#fff" stroke="#000" stroke-width="1.5"/>
<path d="M435,276 443,270 458,265 450,271Z" fill="#fff" stroke="#000" stroke-width="1.3"/>
<path d="M450,271 458,265 461,278 453,284Z" fill="#fff" stroke="#000" stroke-width="1.3"/>
<path d="M435,276 450,271 453,284 438,289Z" fill="#fff" stroke="#000" stroke-width="1.5"/>
<ellipse cx="376" cy="255" rx="53" ry="32" transform="rotate(62 376 255)" fill="#fff" stroke="#000" stroke-width="1.7"/>
<path d="M332,221.5 349,209.5 403,300.5 386,312.5Z" fill="#fff" stroke="none" stroke-width="0"/>
<path d="M332,221.5 349,209.5" stroke="#000" stroke-width="1.7"/>
<path d="M386,312.5 403,300.5" stroke="#000" stroke-width="1.7"/>
<ellipse cx="359" cy="267" rx="53" ry="32" transform="rotate(62 359 267)" fill="#fff" stroke="#000" stroke-width="1.7"/>
<path d="M347.3,212.4 349.7,212 352.2,211.9 354.7,212 357.3,212.3 359.9,212.9 362.6,213.8 365.3,214.9 368.1,216.3 370.8,217.8 373.5,219.7 376.2,221.7 378.8,223.9 381.4,226.4 383.9,229 386.3,231.8 388.6,234.7 390.8,237.8 392.9,241 394.8,244.3 396.6,247.7 398.3,251.1 399.8,254.7 401.1,258.2 402.2,261.8 403.2,265.3 404,268.9 404.6,272.4 404.9,275.8 405.1,279.1 405.1,282.4 404.9,285.6 404.5,288.6 403.9,291.4 403.1,294.2 402.2,296.7 401,299.1 399.7,301.2 398.2,303.1 396.5,304.9" fill="none" stroke="#000" stroke-width="1.3"/>
<ellipse cx="359" cy="267" rx="53" ry="32" transform="rotate(62 359 267)" fill="#fff" stroke="#000" stroke-width="1.6"/>
<path d="M342.1,225.1 352.5,225.3 361,219.3 350.6,219.1Z" fill="#fff" stroke="#000" stroke-width="1.4"/>
<path d="M384.3,304.4 376,309.2 384.5,303.2 392.8,298.4Z" fill="#fff" stroke="#000" stroke-width="1.4"/>
<path d="M341.1,289.9 332.7,276.5 341.2,270.5 349.6,283.9Z" fill="#fff" stroke="#000" stroke-width="1.4"/>
<path d="M331,217 335.8,211 347,208 342.2,213Z" fill="#fff" stroke="#000" stroke-width="1.4"/>
<path d="M342.2,213 347,208 347.8,223 343.8,227Z" fill="#fff" stroke="#000" stroke-width="1.4"/>
<path d="M331,217 342.2,213 343.8,227 332.6,230Z" fill="#fff" stroke="#000" stroke-width="1.6"/>
<path d="M392,276 396.8,270 408,267 403.2,272Z" fill="#fff" stroke="#000" stroke-width="1.4"/>
<path d="M403.2,272 408,267 408.8,280 404.8,284Z" fill="#fff" stroke="#000" stroke-width="1.4"/>
<path d="M392,276 403.2,272 404.8,284 393.6,287Z" fill="#fff" stroke="#000" stroke-width="1.6"/>
<path d="M372,315 376.2,309 386,306 381.8,311Z" fill="#fff" stroke="#000" stroke-width="1.4"/>
<path d="M381.8,311 386,306 386.7,317 383.2,321Z" fill="#fff" stroke="#000" stroke-width="1.4"/>
<path d="M372,315 381.8,311 383.2,321 373.4,324Z" fill="#fff" stroke="#000" stroke-width="1.6"/>
<ellipse cx="328.5" cy="233.5" rx="2.4" ry="1.8" transform="rotate(30 328.5 233.5)" fill="#fff" stroke="#000" stroke-width="1.4"/>
<path d="M330.5,232 336.5,229" stroke="#000" stroke-width="1.4"/>
<ellipse cx="359" cy="267" rx="46" ry="30" transform="rotate(62 359 267)" fill="#fff" stroke="#000" stroke-width="1.7"/>
<path d="M326.8,234.8 333.8,228.8 384.2,305.2 377.2,311.2Z" fill="#fff" stroke="none" stroke-width="0"/>
<path d="M326.8,234.8 333.8,228.8" stroke="#000" stroke-width="1.7"/>
<path d="M377.2,311.2 384.2,305.2" stroke="#000" stroke-width="1.7"/>
<ellipse cx="352" cy="273" rx="46" ry="30" transform="rotate(62 352 273)" fill="#fff" stroke="#000" stroke-width="1.7"/>
<ellipse cx="352" cy="273" rx="35" ry="22.8" transform="rotate(62 352 273)" fill="#fff" stroke="#000" stroke-width="1.5"/>
<path d="M367.3,301.8 366.4,302.1 365.4,302.2 364.4,302 363.2,301.6 362.1,301.1 360.9,300.4 359.8,299.7 358.7,299 357.7,298.3 356.8,297.7 355.9,297.3 355,297 354.2,296.9 353.4,297 352.5,297.1 351.6,297.3 350.7,297.6 349.7,297.8 348.6,297.9 347.5,297.9 346.4,297.7 345.3,297.3 344.2,296.7 343.2,295.9 342.3,294.9 341.4,293.7 340.7,292.4 340.1,291 339.6,289.6 339.1,288.1 338.7,286.7 338.4,285.4 338.1,284.1 337.7,282.9 337.3,281.8 336.8,280.8 336.1,279.8 335.4,278.8 334.6,277.8 333.7,276.8 332.7,275.8 331.8,274.6 330.8,273.4 330,272.2 329.2,270.8 328.6,269.5 328.2,268.1 328,266.8 328,265.5 328.2,264.4 328.6,263.3 329.1,262.3 329.8,261.5 330.5,260.7 331.3,260 332,259.4 332.6,258.8 333.2,258.1 333.6,257.4 333.9,256.6 334.1,255.7 334.2,254.7 334.2,253.5 334.2,252.3 334.2,250.9 334.3,249.6 334.4,248.3 334.7,247.1 335.1,246 335.6,245.1 336.3,244.4 337.1,244 338,243.8 339.1,243.9 340.2,244.1 341.4,244.6 342.5,245.2 343.6,245.9 344.7,246.7 345.8,247.4 346.7,248 347.7,248.5 348.5,248.8 349.4,249 350.2,249.1 351.1,249 351.9,248.8 352.9,248.6 353.8,248.3 354.9,248.1 355.9,248.1 357,248.2 358.1,248.5 359.2,248.9 360.3,249.6 361.3,250.6 362.2,251.6 363,252.9 363.6,254.3 364.2,255.7 364.7,257.1 365.1,258.6 365.4,260 365.8,261.3 366.1,262.5 366.5,263.7 367,264.7 367.5,265.7 368.2,266.7 369,267.7 369.8,268.7 370.8,269.7 371.7,270.8 372.7,272 373.6,273.2 374.4,274.5 375.1,275.8 375.6,277.2 375.9,278.5 376,279.8 375.9,281.1 375.6,282.2 375.1,283.2 374.5,284.1 373.9,284.9 373.1,285.6 372.4,286.3 371.7,286.9 371.1,287.5 370.6,288.2 370.2,289 370,289.8 369.8,290.8 369.8,291.9 369.8,293.1 369.8,294.4 369.7,295.7 369.7,297 369.5,298.3 369.2,299.5 368.7,300.5 368.1,301.3 367.3,301.8Z" fill="#fff" stroke="#000" stroke-width="1.6"/>
<path d="M333.9,277.1 347.3,267" stroke="#000" stroke-width="1.4"/>
<path d="M332,270.6 345.6,261.3" stroke="#000" stroke-width="1.1"/>
<path d="M334.2,252.8 347.6,245.6" stroke="#000" stroke-width="1.4"/>
<path d="M337.4,249.4 350.4,242.6" stroke="#000" stroke-width="1.1"/>
<path d="M352.3,248.7 363.5,242" stroke="#000" stroke-width="1.4"/>
<path d="M357.4,251.7 368,244.7" stroke="#000" stroke-width="1.1"/>
<path d="M332.9,246.7 327.4,257.4 332.2,262.7 336.9,252.4Z" fill="#000" stroke="#000" stroke-width="1.1"/>
<path d="M370.7,295.4 369.3,302.4 363.1,303.5 365,297.4Z" fill="#000" stroke="#000" stroke-width="1.1"/>
<ellipse cx="566" cy="280.4" rx="16" ry="11.5" transform="rotate(68 566 280.4)" fill="#fff" stroke="#000" stroke-width="2"/>
<path d="M540.6,274.8 559.6,265.8 572.4,295 553.4,304Z" fill="#fff" stroke="none" stroke-width="0"/>
<path d="M540.6,274.8 559.6,265.8" stroke="#000" stroke-width="2"/>
<path d="M553.4,304 572.4,295" stroke="#000" stroke-width="2"/>
<ellipse cx="547" cy="289.4" rx="16" ry="11.5" transform="rotate(68 547 289.4)" fill="#fff" stroke="#000" stroke-width="2"/>
<ellipse cx="547" cy="289.4" rx="12.8" ry="9.2" transform="rotate(68 547 289.4)" fill="#fff" stroke="#000" stroke-width="1.6"/>
<path d="M537.2,286.5 537.2,285.8 537.3,285.1 537.4,284.4 537.5,283.8 537.6,283.2 537.8,282.6 538,282 538.3,281.5 538.5,280.9 538.8,280.4 539.2,280 539.5,279.5 539.9,279.1 540.3,278.7 540.7,278.4 541.1,278.1 541.6,277.8 542.1,277.6 542.5,277.4 543,277.3 543.6,277.1 544.1,277.1 544.6,277 545.2,277.1 545.7,277.1 546.3,277.2 546.8,277.3 547.4,277.5 548,277.7 552.6,276.9 552.1,276.7 551.6,276.6 551.1,276.5 550.6,276.4 550.2,276.3 549.7,276.3 549.2,276.4 548.7,276.4 548.3,276.5 547.8,276.7 547.4,276.8 547,277 546.6,277.3 546.2,277.5 545.9,277.8 545.5,278.1 545.2,278.5 544.9,278.9 544.6,279.3 544.3,279.7 544.1,280.2 543.9,280.7 543.7,281.2 543.6,281.7 543.4,282.3 543.3,282.8 543.3,283.4 543.2,284 543.2,284.6Z" fill="#000" stroke="#000" stroke-width="0.7"/>
<path d="M487.8,332 486.8,331.9 485.3,331.6 483.5,331.3 481.8,331.2 480.3,331.6 479.4,332.5 479,334.2 479.1,336.5 479.4,339.2 479.8,342.1 480.4,345 481,347.5 481.6,349.8 482.4,351.9 483.2,354.1 484.1,356.1 485,358.1 486,360 487,361.8 488.1,363.6 489.2,365.2 490.3,366.9 491.4,368.4 492.5,370 493.6,371.5 494.6,373 495.6,374.5 496.7,375.9 497.8,377.2 499,378.5 500.3,379.7 501.7,380.9 503.1,382 504.6,383.1 506.1,384.1 507.5,385 508.9,385.9 510.3,386.7 511.7,387.5 513.1,388.3 514.5,388.9 516,389.5 517.6,390 519.2,390.5 520.9,390.9 522.6,391.2 524.3,391.4 526,391.6 527.7,391.7 529.4,391.6 531.1,391.5 532.7,391.3 534.4,391.1 536,390.8 537.6,390.5 539.2,390.1 540.7,389.6 542.2,389.1 543.7,388.5 545,387.8 546.3,387 547.4,386.2 548.5,385.2 549.6,384.2 550.6,383.1 551.5,382 552.4,380.8 553.2,379.5 554,378.2 554.7,376.8 555.4,375.3 556,373.8 556.6,372.1 557.2,370.4 557.7,368.6 558.2,366.8 558.6,364.9 559,363 559.3,361.1 559.5,359.1 559.7,357 559.9,355 559.9,353 560,351 560,349.1 560,347.1 559.9,345.2 559.8,343.4 559.7,341.6 559.5,340 559.3,338.5 559.1,337.1 558.8,335.8 558.6,334.6 558.3,333.5 558,332.5 557.6,331.7 557.1,331.1 556.5,330.5 556.1,330.1 555.9,329.6 556,329 556.6,328.3 557.6,327.6 558.9,326.8 560.1,326.1 561.3,325.4 562,325" fill="none" stroke="#000" stroke-width="3.3"/>
<path d="M487.8,332 486.8,331.9 485.3,331.6 483.5,331.3 481.8,331.2 480.3,331.6 479.4,332.5 479,334.2 479.1,336.5 479.4,339.2 479.8,342.1 480.4,345 481,347.5 481.6,349.8 482.4,351.9 483.2,354.1 484.1,356.1 485,358.1 486,360 487,361.8 488.1,363.6 489.2,365.2 490.3,366.9 491.4,368.4 492.5,370 493.6,371.5 494.6,373 495.6,374.5 496.7,375.9 497.8,377.2 499,378.5 500.3,379.7 501.7,380.9 503.1,382 504.6,383.1 506.1,384.1 507.5,385 508.9,385.9 510.3,386.7 511.7,387.5 513.1,388.3 514.5,388.9 516,389.5 517.6,390 519.2,390.5 520.9,390.9 522.6,391.2 524.3,391.4 526,391.6 527.7,391.7 529.4,391.6 531.1,391.5 532.7,391.3 534.4,391.1 536,390.8 537.6,390.5 539.2,390.1 540.7,389.6 542.2,389.1 543.7,388.5 545,387.8 546.3,387 547.4,386.2 548.5,385.2 549.6,384.2 550.6,383.1 551.5,382 552.4,380.8 553.2,379.5 554,378.2 554.7,376.8 555.4,375.3 556,373.8 556.6,372.1 557.2,370.4 557.7,368.6 558.2,366.8 558.6,364.9 559,363 559.3,361.1 559.5,359.1 559.7,357 559.9,355 559.9,353 560,351 560,349.1 560,347.1 559.9,345.2 559.8,343.4 559.7,341.6 559.5,340 559.3,338.5 559.1,337.1 558.8,335.8 558.6,334.6 558.3,333.5 558,332.5 557.6,331.7 557.1,331.1 556.5,330.5 556.1,330.1 555.9,329.6 556,329 556.6,328.3 557.6,327.6 558.9,326.8 560.1,326.1 561.3,325.4 562,325" fill="none" stroke="#fff" stroke-width="0.9"/>
<ellipse cx="283" cy="260" rx="5.2" ry="3.6" transform="rotate(62 283 260)" fill="#fff" stroke="#000" stroke-width="1.6"/>
<path d="M268.6,261.4 280.6,255.4 285.4,264.6 273.4,270.6Z" fill="#fff" stroke="none" stroke-width="0"/>
<path d="M268.6,261.4 280.6,255.4" stroke="#000" stroke-width="1.6"/>
<path d="M273.4,270.6 285.4,264.6" stroke="#000" stroke-width="1.6"/>
<ellipse cx="271" cy="266" rx="5.2" ry="3.6" transform="rotate(62 271 266)" fill="#fff" stroke="#000" stroke-width="1.6"/>
<ellipse cx="295.6" cy="307.4" rx="32.3" ry="18.9" transform="rotate(62 295.6 307.4)" fill="#fff" stroke="#000" stroke-width="1.8"/>
<path d="M229.2,305.9 280.4,278.8 310.7,335.9 259.5,363Z" fill="#fff" stroke="none" stroke-width="0"/>
<path d="M229.2,305.9 280.4,278.8" stroke="#000" stroke-width="1.8"/>
<path d="M259.5,363 310.7,335.9" stroke="#000" stroke-width="1.8"/>
<ellipse cx="244.4" cy="334.5" rx="32.3" ry="18.9" transform="rotate(62 244.4 334.5)" fill="#fff" stroke="#000" stroke-width="1.8"/>
<path d="M294.1,273.8 299.3,275 299.9,280.1 295.6,279.2Z" fill="#fff" stroke="#000" stroke-width="1.4"/>
<path d="M286.1,278 294.1,273.8 299.3,275 291.3,279.2Z" fill="#fff" stroke="#000" stroke-width="1.6"/>
<path d="M304.9,277.9 310.2,282.3 308.8,286.1 304.5,282.6Z" fill="#fff" stroke="#000" stroke-width="1.4"/>
<path d="M296.9,282.1 304.9,277.9 310.2,282.3 302.2,286.5Z" fill="#fff" stroke="#000" stroke-width="1.6"/>
<path d="M315.2,288.1 319.3,294.6 316.3,296.3 312.9,290.9Z" fill="#fff" stroke="#000" stroke-width="1.4"/>
<path d="M307.2,292.3 315.2,288.1 319.3,294.6 311.3,298.8Z" fill="#fff" stroke="#000" stroke-width="1.6"/>
<path d="M322.5,301.9 324.5,309.1 320.6,308.1 318.9,302.2Z" fill="#fff" stroke="#000" stroke-width="1.4"/>
<path d="M314.6,306.1 322.5,301.9 324.5,309.1 316.5,313.3Z" fill="#fff" stroke="#000" stroke-width="1.6"/>
<path d="M325.2,316.1 324.6,322.2 320.6,318.9 321.1,313.9Z" fill="#fff" stroke="#000" stroke-width="1.4"/>
<path d="M317.3,320.3 325.2,316.1 324.6,322.2 316.6,326.4Z" fill="#fff" stroke="#000" stroke-width="1.6"/>
<path d="M322.6,327.4 319.5,331 316.5,326.1 319,323.1Z" fill="#fff" stroke="#000" stroke-width="1.4"/>
<path d="M314.7,331.6 322.6,327.4 319.5,331 311.6,335.3Z" fill="#fff" stroke="#000" stroke-width="1.6"/>
<path d="M252.1,293.8 253.5,293.2 255,292.7 256.6,292.5 258.2,292.4 259.9,292.6 261.6,292.9 263.4,293.4 265.2,294.2 267,295.1 268.8,296.1 270.7,297.4 272.4,298.8 274.2,300.4 275.9,302.1 277.5,303.9 279.1,305.9 280.6,307.9 282.1,310.1 283.4,312.3 284.6,314.6 285.7,316.9 286.7,319.3 287.6,321.7 288.3,324.1 288.9,326.5 289.4,328.9 289.7,331.2 289.9,333.5 289.9,335.7 289.8,337.8 289.5,339.8 289.1,341.7 288.5,343.5 287.8,345.1 287,346.6 286.1,347.9 285,349.1 283.8,350.1 282.5,350.9" fill="none" stroke="#000" stroke-width="2.1"/>
<path d="M254.8,292.4 256.2,291.8 257.7,291.3 259.2,291.1 260.9,291 262.6,291.2 264.3,291.5 266.1,292 267.9,292.8 269.7,293.7 271.5,294.7 273.3,296 275.1,297.4 276.8,299 278.5,300.7 280.2,302.5 281.8,304.4 283.3,306.5 284.7,308.7 286,310.9 287.3,313.2 288.4,315.5 289.4,317.9 290.2,320.3 291,322.7 291.6,325.1 292,327.5 292.3,329.8 292.5,332.1 292.5,334.3 292.4,336.4 292.1,338.4 291.7,340.3 291.2,342.1 290.5,343.7 289.7,345.2 288.7,346.5 287.6,347.7 286.4,348.7 285.1,349.5" fill="none" stroke="#000" stroke-width="1.5"/>
<path d="M257.4,291 258.8,290.4 260.3,289.9 261.9,289.7 263.5,289.6 265.2,289.8 266.9,290.1 268.7,290.6 270.5,291.4 272.3,292.3 274.1,293.3 276,294.6 277.7,296 279.5,297.6 281.2,299.3 282.8,301.1 284.4,303 285.9,305.1 287.4,307.3 288.7,309.5 289.9,311.8 291,314.1 292,316.5 292.9,318.9 293.6,321.3 294.2,323.7 294.7,326.1 295,328.4 295.2,330.7 295.2,332.9 295.1,335 294.8,337 294.4,338.9 293.8,340.7 293.1,342.3 292.3,343.8 291.4,345.1 290.3,346.3 289.1,347.3 287.8,348.1" fill="none" stroke="#000" stroke-width="1.3"/>
<path d="M256.4,361.2 255.9,361.4 255.5,362 255.4,363.2 255.5,365.5 255.6,367.7 255.2,368.9 254.6,369.3 253.9,369.3 253.1,369.1 252.2,368.4 251.2,367 250.1,364.7 249.1,362.3 248.3,360.8 247.6,360.1 247,359.8 246.4,359.6 245.8,359.7 245.1,360.4 244.4,362 243.6,363.6 242.7,364.1 241.9,364 241.1,363.5 240.3,362.8 239.6,361.8 239,360.1 238.7,357.8 238.6,355.5 238.2,354 237.8,353.1 237.2,352.4 236.6,351.9 235.9,351.5 234.9,351.6 233.5,352.2 232,352.6 230.8,352.4 229.9,351.7 229.2,350.9 228.6,349.9 228.3,348.7 228.3,347.3 228.9,345.5 229.6,343.9 229.8,342.6 229.6,341.7 229.3,340.9 228.8,340.1 228.1,339.4 227,338.7 225.2,338.2 223.4,337.4 222.2,336.5 221.5,335.5 221.1,334.4 220.8,333.3 220.8,332.3 221.4,331.3 222.7,330.6 224.1,329.9 224.8,329.3 225,328.5 225,327.7 224.8,326.9 224.3,326 223.3,324.8 221.6,323.2 219.8,321.4 218.9,320 218.5,318.9 218.4,317.8 218.6,317 219,316.3 220,316 221.8,316.4 223.5,316.9 224.6,317 225.1,316.6 225.3,316 225.4,315.3 225.3,314.4 224.6,312.9 223.3,310.7 222.1,308.3 221.6,306.7 221.6,305.7 222,305 222.4,304.5 223.2,304.3 224.4,304.8 226.2,306.3 227.9,307.8 229.1,308.6 229.7,308.7 230.2,308.4 230.6,308 230.8,307.3 230.7,305.9 230.1,303.5 229.7,301.1 229.7,299.7 230.2,299 230.8,298.8 231.5,298.8 232.4,299.1 233.5,300.3 235,302.5 236.3,304.7 237.3,306 238,306.5 238.6,306.7 239.2,306.7 239.7,306.4 240.1,305.3 240.4,303.3 240.8,301.4 241.4,300.5 242.2,300.4 243,300.6 243.8,301.1 244.6,302 245.4,303.5 246.1,305.9 246.7,308.4 247.3,309.8 247.9,310.7 248.5,311.2 249.1,311.6 249.8,311.7 250.6,311.3 251.7,310.2 252.9,309.2 254,309 254.9,309.4 255.6,310.1 256.3,311 256.9,312.1 257.2,313.7 257,315.8 256.8,317.8 256.8,319.2 257.2,320.2 257.6,321 258.2,321.6 258.9,322.2 260,322.5 261.6,322.5 263.3,322.6 264.5,323.2 265.3,324.1 265.9,325.1 266.4,326.2 266.6,327.3 266.3,328.5 265.3,329.8 264.2,331 263.7,332 263.7,332.8 263.9,333.7 264.3,334.5 264.8,335.4 265.9,336.3 267.8,337.4 269.6,338.7 270.7,339.9 271.2,341 271.5,342.1 271.6,343.1 271.3,344 270.5,344.6 268.9,344.8 267.3,344.9 266.4,345.2 266,345.8 265.9,346.5 266,347.3 266.3,348.2 267.1,349.6 268.7,351.6 270.3,353.7 271,355.2 271.2,356.4 271,357.2 270.7,358 270.1,358.4 269,358.3 267.2,357.3 265.3,356.2 264.2,355.9 263.6,356 263.2,356.4 263,357 262.9,357.8 263.3,359.3 264.3,361.7 265.2,364.1 265.4,365.7 265.2,366.6 264.7,367.1 264,367.3 263.2,367.2 262,366.4 260.4,364.5 258.8,362.5 257.7,361.5 257,361.2Z" fill="#fff" stroke="#000" stroke-width="1.6"/>
<path d="M252.9,363.1 252.4,363.3 252,363.8 251.9,365.1 252,367.3 252,369.6 251.7,370.8 251.1,371.2 250.3,371.2 249.5,370.9 248.7,370.3 247.7,368.9 246.6,366.5 245.6,364.1 244.8,362.7 244.1,362 243.5,361.6 242.9,361.4 242.2,361.6 241.6,362.3 240.9,363.9 240,365.4 239.2,366 238.3,365.8 237.5,365.3 236.8,364.6 236,363.6 235.5,362 235.2,359.7 235,357.4 234.7,355.9 234.2,355 233.7,354.3 233.1,353.7 232.4,353.4 231.3,353.5 229.9,354 228.4,354.5 227.3,354.3 226.4,353.6 225.7,352.7 225.1,351.7 224.7,350.6 224.7,349.1 225.3,347.4 226,345.7 226.2,344.5 226.1,343.6 225.7,342.7 225.3,342 224.6,341.2 223.5,340.6 221.7,340 219.9,339.3 218.7,338.4 218,337.3 217.5,336.3 217.3,335.2 217.3,334.2 217.9,333.2 219.2,332.4 220.6,331.8 221.3,331.1 221.5,330.4 221.4,329.6 221.2,328.8 220.8,327.8 219.8,326.6 218,325 216.3,323.3 215.3,321.9 215,320.7 214.9,319.7 215,318.8 215.5,318.1 216.5,317.9 218.2,318.3 220,318.8 221.1,318.8 221.5,318.5 221.8,317.9 221.9,317.2 221.8,316.3 221.1,314.8 219.8,312.5 218.6,310.2 218.1,308.6 218.1,307.6 218.4,306.9 218.9,306.3 219.6,306.2 220.8,306.7 222.6,308.2 224.4,309.7 225.5,310.4 226.2,310.5 226.7,310.3 227.1,309.9 227.3,309.2 227.2,307.8 226.6,305.4 226.1,303 226.2,301.6 226.6,300.9 227.3,300.6 228,300.6 228.9,301 230,302.2 231.4,304.4 232.8,306.6 233.7,307.9 234.4,308.4 235.1,308.6 235.6,308.6 236.1,308.2 236.5,307.2 236.8,305.2 237.3,303.3 237.9,302.4 238.6,302.3 239.4,302.5 240.2,303 241.1,303.8 241.8,305.4 242.6,307.8 243.2,310.2 243.7,311.7 244.3,312.5 244.9,313.1 245.6,313.5 246.3,313.6 247.1,313.2 248.2,312.1 249.4,311 250.4,310.9 251.3,311.3 252.1,312 252.8,312.9 253.4,314 253.7,315.6 253.5,317.7 253.2,319.7 253.3,321.1 253.6,322 254.1,322.8 254.6,323.5 255.3,324.1 256.4,324.4 258.1,324.4 259.8,324.5 261,325.1 261.8,326 262.4,327 262.8,328 263,329.2 262.7,330.4 261.7,331.7 260.7,332.9 260.2,333.8 260.2,334.7 260.4,335.5 260.7,336.4 261.3,337.2 262.4,338.2 264.2,339.3 266.1,340.6 267.2,341.8 267.7,342.9 268,344 268,345 267.8,345.9 267,346.5 265.4,346.7 263.8,346.7 262.9,347.1 262.5,347.6 262.4,348.3 262.5,349.1 262.8,350.1 263.6,351.5 265.2,353.4 266.7,355.5 267.5,357.1 267.6,358.2 267.5,359.1 267.2,359.8 266.6,360.3 265.5,360.2 263.6,359.2 261.8,358.1 260.7,357.7 260.1,357.9 259.7,358.3 259.5,358.8 259.4,359.7 259.8,361.2 260.8,363.6 261.7,366 261.9,367.6 261.6,368.4 261.1,368.9 260.5,369.2 259.7,369.1 258.5,368.2 256.8,366.3 255.2,364.4 254.2,363.4 253.4,363.1Z" fill="#fff" stroke="#000" stroke-width="1.8"/>
<ellipse cx="241.7" cy="335.9" rx="26.5" ry="15.5" transform="rotate(62 241.7 335.9)" fill="#fff" stroke="#000" stroke-width="1.8"/>
<path d="M219.6,317.6 229.3,312.5 254.1,359.3 244.4,364.4Z" fill="#fff" stroke="none" stroke-width="0"/>
<path d="M219.6,317.6 229.3,312.5" stroke="#000" stroke-width="1.8"/>
<path d="M244.4,364.4 254.1,359.3" stroke="#000" stroke-width="1.8"/>
<ellipse cx="232" cy="341" rx="26.5" ry="15.5" transform="rotate(62 232 341)" fill="#fff" stroke="#000" stroke-width="1.8"/>
<ellipse cx="232" cy="341" rx="23.3" ry="13.6" transform="rotate(62 232 341)" fill="#fff" stroke="#000" stroke-width="1.5"/>
<path d="M197,336.1 198.1,336.3 199.2,336.6 200.4,337 201.5,337.6 202.6,338.2 203.7,338.9 204.8,339.7 205.8,340.6 206.9,341.6 207.8,342.6 208.8,343.8 209.6,345 210.5,346.3 211.2,347.6 211.9,349 212.6,350.4 213.1,351.9 213.6,353.4 214.1,354.9 214.4,356.4 214.7,357.9 214.8,359.5 214.9,361 215,362.5 214.9,363.9 214.8,365.4 214.6,366.8 214.3,368.2 213.9,369.5 213.4,370.7 212.9,371.9 212.3,373 211.6,374 210.9,374.9 210.1,375.8 209.3,376.5 208.4,377.2 207.4,377.7 206.4,378.2 205.4,378.5 204.3,378.8 203.3,378.9 202.1,378.9 201,378.9 199.9,378.7 198.7,378.4 197.6,377.9 196.5,377.4 195.4,376.8 194.3,376.1 193.2,375.3 192.1,374.4 191.1,373.4 190.1,372.3 189.2,371.2 188.3,370 187.5,368.7 186.8,367.4 186.1,366 185.4,364.6 184.9,363.1 184.4,361.6 183.9,360.1 183.6,358.6 183.3,357 183.2,355.5 183,354 183,352.5 183.1,351 183.2,349.6 183.4,348.2 183.8,346.8 184.1,345.5 184.6,344.3 185.1,343.1 185.7,342 186.4,341 187.1,340.1 187.9,339.2 189.3,341.5 188.6,342.2 188,343.1 187.4,344 186.9,345 186.5,346.1 186.2,347.2 185.9,348.3 185.7,349.5 185.6,350.8 185.5,352 185.5,353.3 185.6,354.6 185.8,355.8 186,357.1 186.3,358.4 186.6,359.6 187,360.9 187.5,362.1 188,363.2 188.6,364.3 189.2,365.4 189.9,366.4 190.6,367.4 191.3,368.3 192.1,369.1 192.9,369.9 193.7,370.6 194.5,371.2 195.4,371.8 196.2,372.3 197.1,372.7 197.9,373 198.8,373.3 199.7,373.5 200.5,373.6 201.4,373.6 202.2,373.6 203,373.5 203.8,373.3 204.6,373 205.3,372.7 206,372.3 206.7,371.8 207.4,371.3 208,370.7 208.6,370 209.1,369.2 209.6,368.4 210,367.6 210.4,366.7 210.8,365.7 211,364.7 211.3,363.6 211.4,362.5 211.6,361.4 211.6,360.2 211.6,359.1 211.5,357.8 211.4,356.6 211.2,355.4 210.9,354.1 210.6,352.9 210.2,351.7 209.7,350.5 209.2,349.3 208.6,348.1 207.9,347 207.2,345.9 206.5,344.9 205.7,343.9 204.9,343 204,342.2 203.1,341.4 202.1,340.8 201.2,340.2 200.2,339.7 199.2,339.3 198.2,339 197.2,338.8Z" fill="#fff" stroke="#000" stroke-width="1.7"/>
<ellipse cx="197.1" cy="337.1" rx="4.2" ry="3.3" transform="rotate(30 197.1 337.1)" fill="#fff" stroke="#000" stroke-width="1.6"/>
<ellipse cx="197.1" cy="337.1" rx="1.6" ry="1.2" transform="rotate(30 197.1 337.1)" fill="#fff" stroke="#000" stroke-width="1.1"/>
<ellipse cx="188.4" cy="340.1" rx="4.2" ry="3.3" transform="rotate(30 188.4 340.1)" fill="#fff" stroke="#000" stroke-width="1.6"/>
<ellipse cx="188.4" cy="340.1" rx="1.6" ry="1.2" transform="rotate(30 188.4 340.1)" fill="#fff" stroke="#000" stroke-width="1.1"/>
<ellipse cx="167.7" cy="376.5" rx="23" ry="17.5" transform="rotate(72 167.7 376.5)" fill="#fff" stroke="#000" stroke-width="1.8"/>
<path d="M148.6,362.7 156.6,356.7 178.8,396.3 170.8,402.3Z" fill="#fff" stroke="none" stroke-width="0"/>
<path d="M148.6,362.7 156.6,356.7" stroke="#000" stroke-width="1.8"/>
<path d="M170.8,402.3 178.8,396.3" stroke="#000" stroke-width="1.8"/>
<ellipse cx="159.7" cy="382.5" rx="23" ry="17.5" transform="rotate(72 159.7 382.5)" fill="#fff" stroke="#000" stroke-width="1.8"/>
<ellipse cx="159.7" cy="382.5" rx="20.2" ry="15.4" transform="rotate(72 159.7 382.5)" fill="none" stroke="#000" stroke-width="1.3"/>
<ellipse cx="159.7" cy="382.5" rx="14.3" ry="10.8" transform="rotate(72 159.7 382.5)" fill="#fff" stroke="#000" stroke-width="1.5"/>
<ellipse cx="159.7" cy="382.5" rx="11.5" ry="8.8" transform="rotate(72 159.7 382.5)" fill="#fff" stroke="#000" stroke-width="1.5"/>
<ellipse cx="165" cy="398.9" rx="2.1" ry="2" transform="rotate(72 165 398.9)" fill="#fff" stroke="#000" stroke-width="1.1"/>
<ellipse cx="159.1" cy="399" rx="2.1" ry="2" transform="rotate(72 159.1 399)" fill="#fff" stroke="#000" stroke-width="1.1"/>
<ellipse cx="153.3" cy="395.9" rx="2.1" ry="2" transform="rotate(72 153.3 395.9)" fill="#fff" stroke="#000" stroke-width="1.1"/>
<ellipse cx="148.7" cy="390.1" rx="2.1" ry="2" transform="rotate(72 148.7 390.1)" fill="#fff" stroke="#000" stroke-width="1.1"/>
<ellipse cx="146.3" cy="382.8" rx="2.1" ry="2" transform="rotate(72 146.3 382.8)" fill="#fff" stroke="#000" stroke-width="1.1"/>
<ellipse cx="146.6" cy="375.4" rx="2.1" ry="2" transform="rotate(72 146.6 375.4)" fill="#fff" stroke="#000" stroke-width="1.1"/>
<ellipse cx="149.5" cy="369.5" rx="2.1" ry="2" transform="rotate(72 149.5 369.5)" fill="#fff" stroke="#000" stroke-width="1.1"/>
<ellipse cx="154.4" cy="366.1" rx="2.1" ry="2" transform="rotate(72 154.4 366.1)" fill="#fff" stroke="#000" stroke-width="1.1"/>
<ellipse cx="160.3" cy="366" rx="2.1" ry="2" transform="rotate(72 160.3 366)" fill="#fff" stroke="#000" stroke-width="1.1"/>
<ellipse cx="166.1" cy="369.1" rx="2.1" ry="2" transform="rotate(72 166.1 369.1)" fill="#fff" stroke="#000" stroke-width="1.1"/>
<ellipse cx="170.7" cy="374.9" rx="2.1" ry="2" transform="rotate(72 170.7 374.9)" fill="#fff" stroke="#000" stroke-width="1.1"/>
<ellipse cx="173.1" cy="382.2" rx="2.1" ry="2" transform="rotate(72 173.1 382.2)" fill="#fff" stroke="#000" stroke-width="1.1"/>
<ellipse cx="172.8" cy="389.6" rx="2.1" ry="2" transform="rotate(72 172.8 389.6)" fill="#fff" stroke="#000" stroke-width="1.1"/>
<ellipse cx="169.9" cy="395.5" rx="2.1" ry="2" transform="rotate(72 169.9 395.5)" fill="#fff" stroke="#000" stroke-width="1.1"/>
<path d="M167.4,388.3 166.7,388.2 166.1,388 165.4,387.8 164.8,387.5 164.2,387.2 163.6,386.8 163,386.4 162.4,385.9 161.9,385.4 161.4,384.8 160.9,384.2 160.4,383.6 160,382.9 159.6,382.2 159.2,381.5 158.9,380.8 158.6,380 158.4,379.2 158.2,378.4 158,377.6 157.9,376.8 157.9,376.1 157.9,375.3 157.9,374.5 157.9,373.7 158.1,373 158.2,372.2 158.4,371.5" fill="none" stroke="#000" stroke-width="1.1"/>
<path d="M410.7,354.4 409.4,353.3 408.4,352 407.8,350.4 407.5,348.7 407.7,347 408.2,345.5 409.1,344 410.3,342.9 411.8,342 413.4,341.6 415.1,341.5 416.8,341.9 418.3,342.6 424.4,348.5 432.3,351.6 433.6,352.7 434.6,354 435.2,355.6 435.5,357.3 435.3,359 434.8,360.5 433.9,362 432.7,363.1 431.2,364 429.6,364.4 427.9,364.5 426.2,364.1 424.7,363.4 418.6,357.5Z" fill="#fff" stroke="#000" stroke-width="2.5"/>
<path d="M423.9,362.8 422.8,361.6 422,360.1 421.6,358.5 421.5,356.8 421.9,355.1 422.7,353.6 423.8,352.3 425.1,351.4 426.7,350.7 428.4,350.5 430.1,350.7 431.7,351.2 433.1,352.2 439,359.4 447.1,364.2 448.2,365.4 449,366.9 449.4,368.5 449.5,370.2 449.1,371.9 448.3,373.4 447.2,374.7 445.9,375.6 444.3,376.3 442.6,376.5 440.9,376.3 439.3,375.8 437.9,374.8 432,367.6Z" fill="#fff" stroke="#000" stroke-width="2.5"/>
<path d="M437.8,374.6 436.7,373.4 435.9,371.8 435.5,370.2 435.6,368.5 436,366.9 436.8,365.4 438,364.2 439.4,363.2 441,362.7 442.6,362.5 444.3,362.7 445.9,363.4 447.2,364.4 452.7,371.5 460.2,376.4 461.3,377.6 462.1,379.2 462.5,380.8 462.4,382.5 462,384.1 461.2,385.6 460,386.8 458.6,387.8 457,388.3 455.4,388.5 453.7,388.3 452.1,387.6 450.8,386.6 445.3,379.5Z" fill="#fff" stroke="#000" stroke-width="2.5"/>
<path d="M449.4,385 448.8,383.5 448.5,381.8 448.6,380.1 449.2,378.5 450.1,377.1 451.3,375.9 452.7,375.1 454.4,374.6 456.1,374.5 457.7,374.9 459.2,375.6 460.5,376.6 461.6,378 465.7,388.3 472.6,397 473.2,398.5 473.5,400.2 473.4,401.9 472.8,403.5 471.9,404.9 470.7,406.1 469.3,406.9 467.6,407.4 465.9,407.5 464.3,407.1 462.8,406.4 461.5,405.4 460.4,404 456.3,393.7Z" fill="#fff" stroke="#000" stroke-width="2.5"/>
<path d="M460.1,403.3 459.6,401.7 459.5,400 459.8,398.3 460.5,396.8 461.6,395.5 462.9,394.5 464.5,393.8 466.2,393.5 467.8,393.6 469.4,394.1 470.9,395 472.1,396.2 472.9,397.7 474.9,406.3 479.9,413.7 480.4,415.3 480.5,417 480.2,418.7 479.5,420.2 478.4,421.5 477.1,422.5 475.5,423.2 473.8,423.5 472.2,423.4 470.6,422.9 469.1,422 467.9,420.8 467.1,419.3 465.1,410.7Z" fill="#fff" stroke="#000" stroke-width="2.5"/>
<path d="M467,419.2 466.6,417.6 466.5,415.9 466.9,414.3 467.6,412.7 468.7,411.4 470,410.4 471.6,409.8 473.2,409.5 474.9,409.6 476.5,410.2 478,411.1 479.1,412.3 480,413.8 482.5,423.9 488,432.8 488.4,434.4 488.5,436.1 488.1,437.7 487.4,439.3 486.3,440.6 485,441.6 483.4,442.2 481.8,442.5 480.1,442.4 478.5,441.8 477,440.9 475.9,439.7 475,438.2 472.5,428.1Z" fill="#fff" stroke="#000" stroke-width="2.5"/>
<path d="M475.3,438.8 474.7,437.2 474.5,435.5 474.7,433.8 475.3,432.3 476.2,430.9 477.5,429.8 479,429 480.6,428.6 482.3,428.5 484,428.9 485.5,429.7 486.7,430.8 487.7,432.2 490.8,441.5 496.7,449.2 497.3,450.8 497.5,452.5 497.3,454.2 496.7,455.7 495.8,457.1 494.5,458.2 493,459 491.4,459.4 489.7,459.5 488,459.1 486.5,458.3 485.3,457.2 484.3,455.8 481.2,446.5Z" fill="#fff" stroke="#000" stroke-width="2.5"/>
<path d="M484.6,456.2 483.8,454.7 483.5,453 483.6,451.3 484.1,449.7 484.9,448.3 486.1,447.1 487.5,446.2 489.1,445.6 490.8,445.5 492.5,445.8 494,446.5 495.4,447.5 496.4,448.8 500.1,457.6 506.4,464.8 507.2,466.3 507.5,468 507.4,469.7 506.9,471.3 506.1,472.7 504.9,473.9 503.5,474.8 501.9,475.4 500.2,475.5 498.5,475.2 497,474.5 495.6,473.5 494.6,472.2 490.9,463.4Z" fill="#fff" stroke="#000" stroke-width="2.5"/>
<path d="M420.8,363.7 419.8,362.5 419.1,361.2 418.7,359.7 418.6,358.1 419,356.6 419.7,355.3 420.7,354.1 421.9,353.2 423.4,352.6 424.9,352.4 426.4,352.6 427.9,353.1 429.2,353.9 435.3,361 443.2,365.9 444.2,367.1 444.9,368.4 445.3,369.9 445.4,371.5 445,373 444.3,374.3 443.3,375.5 442.1,376.4 440.6,377 439.1,377.2 437.6,377 436.1,376.5 434.8,375.7 428.7,368.6Z" fill="#fff" stroke="#000" stroke-width="2"/>
<path d="M446.5,386 445.9,384.6 445.6,383.1 445.7,381.5 446.2,380.1 447,378.8 448.1,377.7 449.5,376.9 451,376.5 452.5,376.4 454,376.7 455.4,377.4 456.6,378.4 457.5,379.6 461.8,389.8 468.5,398.6 469.1,400 469.4,401.5 469.3,403.1 468.8,404.5 468,405.8 466.9,406.9 465.5,407.7 464,408.1 462.5,408.2 461,407.9 459.6,407.2 458.4,406.2 457.5,405 453.2,394.8Z" fill="#fff" stroke="#000" stroke-width="2"/>
<path d="M464.1,420.3 463.7,418.8 463.6,417.3 463.9,415.7 464.6,414.4 465.6,413.2 466.8,412.2 468.2,411.6 469.8,411.4 471.3,411.5 472.8,412 474.1,412.9 475.1,414 475.9,415.3 478.6,425.4 483.9,434.3 484.3,435.8 484.4,437.3 484.1,438.9 483.4,440.2 482.4,441.4 481.2,442.4 479.8,443 478.2,443.2 476.7,443.1 475.2,442.6 473.9,441.7 472.9,440.6 472.1,439.3 469.4,429.2Z" fill="#fff" stroke="#000" stroke-width="2"/>
<path d="M481.6,457.2 480.9,455.8 480.6,454.3 480.7,452.7 481.1,451.3 481.9,449.9 483,448.8 484.3,448 485.8,447.5 487.3,447.4 488.8,447.7 490.2,448.3 491.5,449.2 492.4,450.4 496.2,459.2 502.4,466.4 503.1,467.8 503.4,469.3 503.3,470.9 502.9,472.3 502.1,473.7 501,474.8 499.7,475.6 498.2,476.1 496.7,476.2 495.2,475.9 493.8,475.3 492.5,474.4 491.6,473.2 487.8,464.4Z" fill="#fff" stroke="#000" stroke-width="2"/>
<path d="M403.1,357.1 401.8,355.9 400.7,354.6 400.1,353 399.8,351.2 400,349.5 400.5,347.9 401.5,346.4 402.7,345.2 404.2,344.4 405.9,343.9 407.6,343.8 409.3,344.2 410.9,344.9 417,350.8 424.9,353.9 426.2,355.1 427.3,356.4 427.9,358 428.2,359.8 428,361.5 427.5,363.1 426.5,364.6 425.3,365.8 423.8,366.6 422.1,367.1 420.4,367.2 418.7,366.8 417.1,366.1 411,360.2Z" fill="#fff" stroke="#000" stroke-width="2.3"/>
<ellipse cx="407" cy="351" rx="2.8" ry="2.1" transform="rotate(32.7 407 351)" fill="#fff" stroke="#000" stroke-width="1.7"/>
<ellipse cx="421" cy="360" rx="2.8" ry="2.1" transform="rotate(32.7 421 360)" fill="#fff" stroke="#000" stroke-width="1.7"/>
<path d="M430.1,377.3 429,376 428.2,374.4 427.8,372.7 427.9,371 428.3,369.3 429.2,367.8 430.3,366.5 431.8,365.6 433.4,365 435.1,364.8 436.9,365 438.5,365.7 439.9,366.7 445.3,373.9 452.9,378.7 454,380 454.8,381.6 455.2,383.3 455.1,385 454.7,386.7 453.8,388.2 452.7,389.5 451.2,390.4 449.6,391 447.9,391.2 446.1,391 444.5,390.3 443.1,389.3 437.7,382.1Z" fill="#fff" stroke="#000" stroke-width="2.3"/>
<ellipse cx="435" cy="372" rx="2.8" ry="2.1" transform="rotate(42.7 435 372)" fill="#fff" stroke="#000" stroke-width="1.7"/>
<ellipse cx="448" cy="384" rx="2.8" ry="2.1" transform="rotate(42.7 448 384)" fill="#fff" stroke="#000" stroke-width="1.7"/>
<path d="M452.4,405.9 451.9,404.2 451.8,402.5 452.1,400.8 452.9,399.2 454,397.9 455.3,396.8 456.9,396.1 458.6,395.8 460.4,395.9 462,396.5 463.5,397.4 464.7,398.6 465.6,400.1 467.6,408.8 472.6,416.1 473.1,417.8 473.2,419.5 472.9,421.2 472.1,422.8 471,424.1 469.7,425.2 468.1,425.9 466.4,426.2 464.6,426.1 463,425.5 461.5,424.6 460.3,423.4 459.4,421.9 457.4,413.2Z" fill="#fff" stroke="#000" stroke-width="2.3"/>
<ellipse cx="459" cy="403" rx="2.8" ry="2.1" transform="rotate(66.4 459 403)" fill="#fff" stroke="#000" stroke-width="1.7"/>
<ellipse cx="466" cy="419" rx="2.8" ry="2.1" transform="rotate(66.4 466 419)" fill="#fff" stroke="#000" stroke-width="1.7"/>
<path d="M467.6,441.4 467,439.7 466.8,438 467,436.3 467.6,434.7 468.6,433.2 469.9,432.1 471.4,431.3 473.1,430.9 474.8,430.8 476.5,431.3 478.1,432.1 479.4,433.2 480.4,434.6 483.4,443.9 489.4,451.6 490,453.3 490.2,455 490,456.7 489.4,458.3 488.4,459.8 487.1,460.9 485.6,461.7 483.9,462.1 482.2,462.2 480.5,461.7 478.9,460.9 477.6,459.8 476.6,458.4 473.6,449.1Z" fill="#fff" stroke="#000" stroke-width="2.3"/>
<ellipse cx="474" cy="438" rx="2.8" ry="2.1" transform="rotate(62.1 474 438)" fill="#fff" stroke="#000" stroke-width="1.7"/>
<ellipse cx="483" cy="455" rx="2.8" ry="2.1" transform="rotate(62.1 483 455)" fill="#fff" stroke="#000" stroke-width="1.7"/>
<path d="M397.6,466.3 397,466.7 396.5,467.5 396.4,468.8 396.8,471.2 397.1,473.6 396.9,475 396.3,475.6 395.6,476 394.7,476.2 393.8,476 392.5,475.2 390.9,473.3 389.3,471.3 388.1,470.4 387.2,470.2 386.5,470.2 385.8,470.4 385.2,470.9 384.8,472.1 384.7,474.3 384.5,476.5 384,477.6 383.3,478 382.5,478.1 381.6,478 380.7,477.6 379.6,476.5 378.4,474.3 377.2,472 376.3,470.9 375.5,470.4 374.7,470.2 374,470.2 373.3,470.4 372.7,471.4 372.2,473.3 371.6,475.3 370.9,476.2 370.1,476.3 369.3,476.2 368.5,475.9 367.7,475.3 366.9,473.9 366.1,471.6 365.4,469.3 364.7,468 364,467.4 363.4,467 362.7,466.8 362,466.9 361.2,467.6 360.3,469.3 359.4,470.9 358.6,471.5 357.8,471.5 357,471.2 356.3,470.7 355.6,470 355.1,468.6 354.8,466.3 354.5,464 354.1,462.7 353.5,461.9 352.9,461.5 352.3,461.1 351.6,461 350.7,461.5 349.5,462.9 348.3,464.1 347.4,464.5 346.6,464.4 345.9,463.9 345.3,463.3 344.7,462.5 344.5,461.1 344.6,459 344.7,456.9 344.5,455.5 344.1,454.8 343.6,454.2 343,453.8 342.3,453.5 341.4,453.8 339.9,454.8 338.5,455.7 337.4,455.8 336.7,455.5 336.1,455 335.5,454.3 335.2,453.4 335.1,452.1 335.6,450.2 336.1,448.3 336.2,447.1 335.9,446.2 335.5,445.6 335,445.1 334.3,444.7 333.2,444.8 331.6,445.3 330,445.9 328.9,445.8 328.1,445.3 327.6,444.7 327.2,444 326.9,443.1 327.1,441.9 328,440.2 328.8,438.6 329.1,437.5 328.9,436.7 328.6,436 328.2,435.4 327.5,435 326.4,434.7 324.6,434.9 322.8,435 321.7,434.7 321,434.1 320.6,433.4 320.3,432.6 320.1,431.8 320.5,430.7 321.7,429.4 322.8,428.1 323.3,427.1 323.3,426.3 323,425.6 322.7,424.9 322.1,424.4 321,423.9 319.1,423.6 317.2,423.3 316.1,422.7 315.5,422 315.1,421.3 314.9,420.5 314.9,419.6 315.5,418.7 316.9,417.7 318.3,416.8 318.9,416 319,415.3 318.9,414.5 318.6,413.8 318.1,413.1 317,412.4 315.1,411.7 313.2,411 312.1,410.1 311.6,409.3 311.3,408.5 311.2,407.7 311.4,406.9 312.1,406.2 313.7,405.6 315.4,405 316.2,404.4 316.4,403.7 316.4,403 316.2,402.3 315.8,401.5 314.7,400.5 312.9,399.4 311,398.2 310,397.1 309.6,396.2 309.5,395.3 309.5,394.5 309.8,393.8 310.7,393.3 312.5,393.1 314.3,392.9 315.3,392.5 315.6,391.9 315.7,391.2 315.7,390.4 315.4,389.6 314.5,388.4 312.7,386.8 311,385.2 310.2,383.9 309.9,382.9 309.9,382.1 310.1,381.3 310.6,380.6 311.7,380.3 313.6,380.6 315.5,380.9 316.6,380.7 317.1,380.2 317.3,379.5 317.4,378.8 317.3,377.8 316.6,376.5 315.1,374.5 313.7,372.5 313,371 313,370 313.2,369.2 313.6,368.5 314.2,368 315.4,368 317.4,368.7 319.4,369.4 320.6,369.5 321.2,369.1 321.7,368.6 322,367.9 322.1,366.9 321.7,365.5 320.6,363.2 319.5,360.9 319.2,359.4 319.4,358.4 319.9,357.7 320.5,357.1 321.3,356.8 322.6,357.1 324.5,358.3 326.5,359.6 327.7,360 328.5,359.9 329.1,359.5 329.6,358.9 330,358.1 329.9,356.6 329.3,354.3 328.7,351.9 328.8,350.4 329.2,349.6 329.9,349.1 330.7,348.8 331.6,348.7 332.9,349.4 334.7,351.1 336.5,352.9 337.7,353.6 338.6,353.7 339.3,353.6 340,353.3 340.5,352.6 340.7,351.3 340.6,349 340.6,346.7 340.9,345.5 341.6,344.9 342.4,344.7 343.3,344.7 344.2,344.9 345.4,346 346.8,348 348.2,350.1 349.3,351.2 350.1,351.6 350.9,351.7 351.6,351.6 352.3,351.2 352.8,350.2 353.1,348.1 353.5,346 354.1,345 354.9,344.7 355.7,344.7 356.5,344.9 357.4,345.5 358.3,346.7 359.3,349 360.3,351.3 361.1,352.5 361.8,353.1 362.6,353.4 363.3,353.5 364,353.3 364.7,352.5 365.4,350.7 366.1,348.9 366.9,348.1 367.7,348.1 368.5,348.3 369.2,348.7 370,349.4 370.6,350.8 371.2,353.1 371.7,355.4 372.2,356.7 372.9,357.4 373.5,357.8 374.2,358.1 374.9,358.1 375.7,357.5 376.7,356 377.8,354.6 378.7,354 379.5,354.1 380.2,354.5 380.9,355 381.5,355.8 381.9,357.2 382,359.5 382,361.7 382.3,363 382.8,363.8 383.4,364.3 384,364.7 384.7,364.8 385.6,364.5 386.9,363.3 388.3,362.2 389.3,361.9 390,362.2 390.7,362.7 391.3,363.3 391.7,364.2 391.9,365.5 391.6,367.6 391.2,369.6 391.3,370.9 391.6,371.7 392.1,372.3 392.7,372.7 393.3,373 394.4,372.9 395.9,372.1 397.4,371.4 398.5,371.4 399.3,371.8 399.8,372.3 400.3,373 400.6,373.9 400.5,375.2 399.9,377 399.2,378.7 399,379.9 399.2,380.7 399.6,381.4 400.1,381.9 400.8,382.4 401.8,382.4 403.5,382.1 405.3,381.8 406.4,382 407.1,382.5 407.6,383.2 408,383.9 408.1,384.8 407.8,385.9 406.9,387.4 405.8,388.9 405.5,389.9 405.6,390.7 405.9,391.4 406.3,392 406.9,392.6 408,392.9 409.8,393 411.7,393.1 412.8,393.5 413.5,394.2 413.9,394.9 414.1,395.7 414.2,396.5 413.7,397.5 412.4,398.7 411.1,399.8 410.6,400.7 410.5,401.5 410.7,402.2 411.1,402.9 411.6,403.5 412.7,404.1 414.6,404.6 416.5,405.1 417.7,405.8 418.2,406.6 418.5,407.4 418.7,408.2 418.6,409 417.9,409.8 416.4,410.6 414.9,411.4 414.2,412.1 414,412.8 414.1,413.5 414.3,414.2 414.8,415 415.9,415.8 417.8,416.7 419.7,417.7 420.7,418.6 421.2,419.5 421.4,420.4 421.4,421.2 421.2,421.9 420.3,422.5 418.6,423 416.9,423.3 416,423.8 415.8,424.5 415.7,425.2 415.8,426 416.2,426.8 417.2,427.9 419,429.2 420.8,430.7 421.7,431.8 422.1,432.8 422.1,433.6 422,434.4 421.6,435.1 420.6,435.5 418.8,435.5 416.9,435.4 415.9,435.7 415.5,436.3 415.3,437 415.3,437.8 415.5,438.7 416.3,439.9 417.9,441.7 419.5,443.6 420.3,444.9 420.4,445.9 420.3,446.8 420,447.5 419.5,448.1 418.3,448.3 416.4,447.8 414.4,447.3 413.3,447.3 412.7,447.8 412.4,448.4 412.2,449.2 412.2,450.1 412.7,451.5 414.1,453.7 415.4,455.8 415.8,457.3 415.7,458.3 415.4,459.1 414.9,459.8 414.2,460.2 412.9,460.1 410.9,459.1 409,458.1 407.8,457.8 407,458.1 406.5,458.6 406.1,459.3 405.9,460.2 406.1,461.6 407,464 407.8,466.3 407.9,467.9 407.6,468.8 407,469.4 406.3,469.8 405.4,470 404.1,469.5 402.2,468.1 400.4,466.6 399.1,466 398.3,466Z" fill="#fff" stroke="#000" stroke-width="1.5"/>
<path d="M395.8,467.1 395.2,467.6 394.8,468.3 394.7,469.7 395,472 395.4,474.4 395.1,475.8 394.5,476.5 393.8,476.9 393,477 392,476.9 390.8,476 389.1,474.1 387.5,472.2 386.4,471.2 385.5,471 384.7,471 384,471.2 383.4,471.7 383,472.9 382.9,475.1 382.8,477.3 382.2,478.5 381.5,478.9 380.7,479 379.9,478.9 378.9,478.5 377.9,477.3 376.6,475.1 375.5,472.9 374.5,471.7 373.7,471.2 373,471 372.2,471 371.6,471.3 371,472.2 370.4,474.2 369.9,476.1 369.2,477 368.4,477.2 367.6,477.1 366.8,476.7 366,476.1 365.2,474.8 364.4,472.5 363.7,470.2 363,468.8 362.3,468.2 361.6,467.8 360.9,467.6 360.2,467.7 359.4,468.4 358.6,470.1 357.7,471.7 356.8,472.4 356,472.3 355.3,472 354.6,471.6 353.9,470.8 353.4,469.4 353,467.1 352.8,464.9 352.3,463.5 351.8,462.8 351.2,462.3 350.5,462 349.8,461.9 348.9,462.4 347.8,463.7 346.6,465 345.6,465.4 344.8,465.2 344.1,464.8 343.5,464.2 343,463.4 342.7,462 342.8,459.8 343,457.7 342.8,456.4 342.4,455.6 341.9,455 341.3,454.6 340.6,454.4 339.6,454.6 338.2,455.6 336.7,456.5 335.7,456.7 334.9,456.3 334.3,455.8 333.8,455.1 333.4,454.3 333.4,453 333.9,451 334.4,449.1 334.4,447.9 334.2,447.1 333.7,446.5 333.2,445.9 332.5,445.6 331.5,445.6 329.9,446.2 328.2,446.7 327.1,446.6 326.4,446.2 325.9,445.5 325.4,444.8 325.2,443.9 325.4,442.7 326.2,441.1 327.1,439.4 327.3,438.3 327.2,437.5 326.9,436.9 326.4,436.3 325.8,435.8 324.7,435.6 322.9,435.7 321.1,435.8 320,435.5 319.3,434.9 318.8,434.2 318.5,433.5 318.4,432.6 318.8,431.5 319.9,430.2 321.1,428.9 321.6,427.9 321.5,427.1 321.3,426.4 320.9,425.8 320.3,425.2 319.2,424.7 317.3,424.5 315.4,424.1 314.3,423.6 313.7,422.9 313.3,422.1 313.1,421.3 313.1,420.5 313.7,419.6 315.1,418.6 316.6,417.6 317.2,416.8 317.3,416.1 317.1,415.4 316.9,414.7 316.3,414 315.3,413.3 313.3,412.6 311.4,411.8 310.3,411 309.8,410.2 309.6,409.4 309.5,408.6 309.6,407.8 310.4,407 312,406.4 313.6,405.9 314.4,405.2 314.6,404.6 314.6,403.8 314.4,403.1 314,402.3 313,401.4 311.1,400.2 309.2,399 308.2,398 307.8,397 307.7,396.2 307.8,395.4 308.1,394.7 309,394.1 310.8,393.9 312.6,393.8 313.5,393.4 313.9,392.8 314,392 313.9,391.3 313.6,390.4 312.7,389.2 311,387.7 309.2,386 308.4,384.8 308.2,383.8 308.2,382.9 308.4,382.1 308.8,381.5 309.9,381.2 311.8,381.4 313.7,381.7 314.8,381.5 315.3,381 315.6,380.4 315.7,379.6 315.6,378.7 314.9,377.3 313.4,375.3 311.9,373.3 311.3,371.9 311.3,370.9 311.5,370 311.9,369.3 312.5,368.8 313.7,368.8 315.7,369.5 317.7,370.3 318.8,370.4 319.5,370 319.9,369.4 320.2,368.7 320.3,367.8 319.9,366.3 318.8,364.1 317.7,361.8 317.4,360.2 317.7,359.3 318.1,358.5 318.7,358 319.5,357.7 320.8,358 322.8,359.2 324.7,360.4 326,360.9 326.7,360.7 327.4,360.3 327.9,359.7 328.2,358.9 328.1,357.5 327.5,355.1 326.9,352.7 327,351.2 327.5,350.4 328.2,349.9 328.9,349.6 329.9,349.6 331.2,350.3 333,352 334.7,353.7 335.9,354.5 336.8,354.6 337.5,354.4 338.2,354.1 338.7,353.5 339,352.2 338.9,349.9 338.8,347.6 339.2,346.3 339.9,345.8 340.6,345.5 341.5,345.5 342.5,345.8 343.6,346.8 345.1,348.9 346.5,351 347.5,352.1 348.4,352.4 349.2,352.5 349.9,352.4 350.5,352.1 351,351 351.4,348.9 351.7,346.8 352.3,345.8 353.1,345.5 353.9,345.5 354.7,345.8 355.6,346.3 356.6,347.5 357.6,349.8 358.5,352.1 359.3,353.4 360.1,353.9 360.8,354.2 361.5,354.3 362.2,354.2 362.9,353.3 363.6,351.5 364.4,349.7 365.1,349 365.9,348.9 366.7,349.1 367.5,349.5 368.2,350.2 368.9,351.6 369.4,353.9 369.9,356.2 370.5,357.6 371.1,358.3 371.7,358.7 372.4,359 373.1,359 373.9,358.4 375,356.9 376,355.4 376.9,354.9 377.7,355 378.4,355.3 379.1,355.9 379.7,356.7 380.1,358.1 380.2,360.3 380.3,362.5 380.6,363.9 381.1,364.6 381.6,365.1 382.2,365.5 382.9,365.7 383.9,365.3 385.2,364.2 386.5,363.1 387.5,362.8 388.3,363 388.9,363.5 389.5,364.2 390,365 390.1,366.4 389.8,368.4 389.5,370.4 389.5,371.7 389.9,372.5 390.4,373.1 390.9,373.6 391.6,373.9 392.6,373.7 394.1,373 395.7,372.3 396.8,372.2 397.5,372.6 398.1,373.2 398.6,373.9 398.9,374.8 398.8,376 398.1,377.8 397.4,379.6 397.3,380.8 397.5,381.6 397.9,382.2 398.3,382.8 399,383.2 400.1,383.3 401.8,382.9 403.5,382.6 404.6,382.8 405.3,383.3 405.8,384 406.2,384.7 406.4,385.6 406.1,386.8 405.1,388.3 404.1,389.7 403.7,390.8 403.8,391.6 404.1,392.3 404.5,392.9 405.1,393.4 406.2,393.7 408.1,393.8 409.9,393.9 411.1,394.4 411.7,395 412.1,395.7 412.4,396.5 412.4,397.4 411.9,398.4 410.7,399.5 409.4,400.7 408.8,401.6 408.8,402.3 409,403 409.3,403.7 409.9,404.3 411,404.9 412.9,405.4 414.8,406 415.9,406.6 416.5,407.4 416.8,408.2 416.9,409 416.8,409.8 416.2,410.6 414.7,411.4 413.1,412.2 412.4,412.9 412.3,413.6 412.3,414.3 412.6,415.1 413,415.8 414.1,416.6 416,417.6 417.9,418.6 419,419.5 419.4,420.4 419.6,421.2 419.7,422 419.4,422.8 418.6,423.4 416.9,423.8 415.2,424.1 414.3,424.7 414,425.3 414,426 414.1,426.8 414.5,427.6 415.4,428.7 417.2,430.1 419.1,431.5 420,432.7 420.3,433.6 420.4,434.5 420.3,435.3 419.9,436 418.9,436.4 417,436.3 415.1,436.3 414.1,436.6 413.7,437.1 413.6,437.8 413.5,438.6 413.7,439.5 414.5,440.8 416.2,442.6 417.8,444.4 418.5,445.8 418.7,446.8 418.6,447.6 418.3,448.4 417.7,449 416.6,449.1 414.6,448.7 412.7,448.1 411.5,448.2 411,448.6 410.6,449.3 410.4,450 410.4,451 411,452.4 412.3,454.5 413.6,456.7 414.1,458.2 414,459.2 413.6,460 413.2,460.6 412.4,461 411.2,460.9 409.2,459.9 407.2,458.9 406,458.7 405.3,459 404.7,459.5 404.3,460.1 404.1,461 404.4,462.5 405.2,464.8 406.1,467.2 406.2,468.7 405.8,469.6 405.3,470.2 404.6,470.7 403.7,470.9 402.4,470.4 400.5,468.9 398.6,467.4 397.4,466.8 396.5,466.8Z" fill="#fff" stroke="#000" stroke-width="2.2"/>
<path d="M342.5,361 366,368 390,384 400,400 407.5,420 409,435 407.5,447.5" fill="none" stroke="#000" stroke-width="1.4"/>
<ellipse cx="340.6" cy="376" rx="11.5" ry="8.2" transform="rotate(30 340.6 376)" fill="#fff" stroke="#000" stroke-width="1.8"/>
<ellipse cx="341.5" cy="375.2" rx="10.1" ry="7" transform="rotate(30 341.5 375.2)" fill="none" stroke="#000" stroke-width="1.1"/>
<ellipse cx="361" cy="374.4" rx="10" ry="8" transform="rotate(62 361 374.4)" fill="#fff" stroke="#000" stroke-width="1.8"/>
<ellipse cx="361.9" cy="373.6" rx="8.8" ry="6.8" transform="rotate(62 361.9 373.6)" fill="none" stroke="#000" stroke-width="1.1"/>
<ellipse cx="332.4" cy="397.8" rx="12" ry="9.5" transform="rotate(20 332.4 397.8)" fill="#fff" stroke="#000" stroke-width="1.8"/>
<ellipse cx="333.3" cy="397" rx="10.6" ry="8.1" transform="rotate(20 333.3 397)" fill="none" stroke="#000" stroke-width="1.1"/>
<ellipse cx="390" cy="395" rx="10.5" ry="6.5" transform="rotate(68 390 395)" fill="#fff" stroke="#000" stroke-width="1.8"/>
<ellipse cx="390.9" cy="394.2" rx="9.2" ry="5.5" transform="rotate(68 390.9 394.2)" fill="none" stroke="#000" stroke-width="1.1"/>
<ellipse cx="344.7" cy="427.5" rx="11.5" ry="10" transform="rotate(55 344.7 427.5)" fill="#fff" stroke="#000" stroke-width="1.8"/>
<ellipse cx="345.6" cy="426.7" rx="10.1" ry="8.5" transform="rotate(55 345.6 426.7)" fill="none" stroke="#000" stroke-width="1.1"/>
<ellipse cx="400" cy="424" rx="10.5" ry="6" transform="rotate(78 400 424)" fill="#fff" stroke="#000" stroke-width="1.8"/>
<ellipse cx="400.9" cy="423.2" rx="9.2" ry="5.1" transform="rotate(78 400.9 423.2)" fill="none" stroke="#000" stroke-width="1.1"/>
<ellipse cx="370" cy="448.6" rx="10.5" ry="8.8" transform="rotate(72 370 448.6)" fill="#fff" stroke="#000" stroke-width="1.8"/>
<ellipse cx="370.9" cy="447.8" rx="9.2" ry="7.5" transform="rotate(72 370.9 447.8)" fill="none" stroke="#000" stroke-width="1.1"/>
<ellipse cx="392.5" cy="442" rx="10.5" ry="7.2" transform="rotate(70 392.5 442)" fill="#fff" stroke="#000" stroke-width="1.8"/>
<ellipse cx="393.4" cy="441.2" rx="9.2" ry="6.1" transform="rotate(70 393.4 441.2)" fill="none" stroke="#000" stroke-width="1.1"/>
<path d="M376.3,428.9 377,431.8 375.5,432.3 373.9,429.8 372.6,430 372.7,432.8 371.1,432.8 370,430 368.6,429.9 368.1,432.4 366.4,432 365.9,429.2 364.4,428.6 363.4,430.8 361.8,429.9 361.8,427.2 360.4,426.2 358.9,427.9 357.4,426.7 358,424.2 356.8,422.9 354.9,424 353.7,422.5 354.8,420.4 353.8,418.9 351.6,419.3 350.6,417.5 352.3,416 351.6,414.3 349.2,414.1 348.6,412.2 350.6,411.2 350.2,409.5 347.8,408.6 347.6,406.7 349.9,406.4 349.9,404.7 347.6,403.2 347.7,401.4 350.2,401.7 350.5,400.2 348.4,398.2 349,396.6 351.4,397.6 352.1,396.3 350.4,393.8 351.3,392.5 353.6,394.2 354.5,393.2 353.3,390.5 354.5,389.5 356.5,391.7 357.7,391.1 357,388.2 358.5,387.7 360.1,390.2 361.4,390 361.3,387.2 362.9,387.2 364,390 365.4,390.1 365.9,387.6 367.6,388 368.1,390.8 369.6,391.4 370.6,389.2 372.2,390.1 372.2,392.8 373.6,393.8 375.1,392.1 376.6,393.3 376,395.8 377.2,397.1 379.1,396 380.3,397.5 379.2,399.6 380.2,401.1 382.4,400.7 383.4,402.5 381.7,404 382.4,405.7 384.8,405.9 385.4,407.8 383.4,408.8 383.8,410.5 386.2,411.4 386.4,413.3 384.1,413.6 384.1,415.3 386.4,416.8 386.3,418.6 383.8,418.3 383.5,419.8 385.6,421.8 385,423.4 382.6,422.4 381.9,423.7 383.6,426.2 382.7,427.5 380.4,425.8 379.5,426.8 380.7,429.5 379.5,430.5 377.5,428.3Z" fill="#fff" stroke="#000" stroke-width="1.7"/>
<ellipse cx="367" cy="410" rx="20.2" ry="15.1" transform="rotate(62 367 410)" fill="#fff" stroke="#000" stroke-width="1.5"/>
<ellipse cx="370" cy="410" rx="15.5" ry="12" transform="rotate(62 370 410)" fill="#fff" stroke="#000" stroke-width="2"/>
<ellipse cx="371.5" cy="409" rx="13" ry="9.8" transform="rotate(62 371.5 409)" fill="none" stroke="#000" stroke-width="1.3"/>
<path d="M304.1,531.4 303.5,531.9 303,532.7 303,534.1 303.4,536.5 303.8,539 303.6,540.4 303,541.1 302.3,541.6 301.4,541.8 300.4,541.7 299.1,540.9 297.3,539 295.6,537.1 294.3,536.2 293.4,536 292.6,536.1 291.9,536.3 291.3,536.9 290.9,538.1 290.9,540.4 290.8,542.7 290.3,544 289.6,544.4 288.8,544.6 287.9,544.6 286.9,544.2 285.7,543.1 284.3,540.9 282.9,538.7 281.9,537.5 281,537.1 280.2,536.9 279.4,537 278.7,537.3 278.2,538.3 277.7,540.4 277.2,542.5 276.6,543.4 275.8,543.7 274.9,543.6 274.1,543.4 273.2,542.8 272.2,541.5 271.3,539.1 270.3,536.8 269.5,535.5 268.7,534.9 268,534.5 267.2,534.4 266.5,534.5 265.8,535.3 265,537.1 264.1,538.9 263.3,539.7 262.5,539.7 261.7,539.5 260.9,539 260.1,538.3 259.4,536.9 258.9,534.5 258.4,532.2 257.8,530.8 257.2,530.1 256.5,529.6 255.8,529.4 255.1,529.3 254.2,529.9 253.1,531.4 252,532.9 251,533.4 250.2,533.3 249.4,532.9 248.7,532.3 248.1,531.5 247.7,530.1 247.6,527.8 247.5,525.6 247.2,524.2 246.7,523.4 246.1,522.9 245.4,522.5 244.7,522.3 243.7,522.7 242.3,523.8 240.9,524.9 239.9,525.2 239.1,524.9 238.4,524.4 237.8,523.8 237.3,522.9 237.1,521.5 237.4,519.4 237.7,517.4 237.6,516 237.2,515.2 236.7,514.6 236.1,514.1 235.4,513.8 234.3,514 232.7,514.7 231.1,515.5 230,515.6 229.2,515.1 228.6,514.6 228.1,513.8 227.7,512.9 227.8,511.6 228.4,509.8 229.1,507.9 229.2,506.7 229,505.8 228.5,505.2 228,504.6 227.3,504.2 226.2,504.1 224.4,504.5 222.6,504.9 221.5,504.7 220.7,504.2 220.2,503.5 219.8,502.7 219.5,501.8 219.8,500.6 220.8,499 221.7,497.5 222.1,496.3 221.9,495.5 221.6,494.8 221.2,494.2 220.5,493.6 219.3,493.3 217.4,493.3 215.5,493.3 214.3,492.9 213.6,492.2 213.2,491.5 212.9,490.7 212.8,489.8 213.2,488.7 214.5,487.4 215.7,486.2 216.3,485.2 216.3,484.4 216,483.7 215.6,483 215,482.3 213.9,481.8 211.9,481.4 209.9,480.9 208.7,480.3 208.1,479.5 207.7,478.7 207.5,477.8 207.6,477 208.2,476.1 209.7,475.1 211.2,474.2 211.9,473.4 212,472.7 211.9,471.9 211.6,471.1 211.1,470.4 209.9,469.6 207.9,468.8 205.9,467.9 204.8,467 204.3,466.1 204,465.3 203.9,464.4 204.1,463.6 204.9,462.9 206.6,462.3 208.4,461.8 209.2,461.2 209.4,460.4 209.4,459.7 209.3,458.9 208.8,458 207.8,457 205.8,455.8 203.9,454.4 202.8,453.3 202.4,452.4 202.3,451.5 202.4,450.6 202.7,449.9 203.7,449.4 205.6,449.2 207.4,449 208.4,448.6 208.8,448 208.9,447.2 208.9,446.4 208.6,445.5 207.7,444.3 205.9,442.6 204.1,440.9 203.2,439.5 203,438.5 203,437.6 203.2,436.8 203.7,436.1 204.8,435.8 206.8,436.1 208.9,436.4 210,436.2 210.5,435.6 210.8,434.9 210.9,434.1 210.8,433.1 210.1,431.7 208.5,429.7 207,427.6 206.4,426.1 206.3,425 206.6,424.2 207,423.4 207.7,422.9 208.9,422.9 211,423.6 213.1,424.3 214.3,424.4 215,424 215.4,423.4 215.8,422.6 215.9,421.7 215.4,420.2 214.3,417.8 213.1,415.5 212.8,413.9 213,412.9 213.5,412.2 214.1,411.6 215,411.2 216.3,411.5 218.4,412.7 220.4,413.9 221.7,414.3 222.6,414.1 223.2,413.7 223.7,413.1 224.1,412.2 224,410.7 223.3,408.3 222.6,405.8 222.7,404.3 223.1,403.5 223.8,402.9 224.6,402.6 225.6,402.5 227,403.1 228.9,404.8 230.8,406.5 232.1,407.2 233,407.3 233.7,407.1 234.4,406.7 235,406 235.2,404.7 235,402.3 234.8,399.9 235.2,398.6 235.8,398 236.7,397.7 237.5,397.6 238.5,397.9 239.8,398.8 241.4,400.9 243,402.9 244.1,404 245.1,404.3 245.9,404.4 246.6,404.2 247.3,403.8 247.8,402.6 248,400.4 248.3,398.3 248.9,397.2 249.6,396.8 250.5,396.7 251.4,396.9 252.3,397.4 253.4,398.6 254.6,400.9 255.7,403.2 256.7,404.4 257.5,405 258.3,405.2 259,405.3 259.8,405.1 260.4,404.1 261,402.2 261.7,400.3 262.5,399.4 263.3,399.3 264.1,399.4 264.9,399.8 265.8,400.4 266.6,401.8 267.3,404.2 268,406.5 268.7,407.9 269.5,408.6 270.2,409 270.9,409.2 271.6,409.1 272.5,408.4 273.4,406.8 274.4,405.2 275.3,404.5 276.1,404.6 276.9,404.9 277.6,405.4 278.3,406.2 278.9,407.6 279.2,409.9 279.5,412.2 279.9,413.6 280.5,414.4 281.1,414.9 281.8,415.2 282.6,415.3 283.5,414.8 284.7,413.5 286,412.2 287,411.8 287.8,412 288.5,412.5 289.2,413.1 289.8,413.9 290.1,415.3 290,417.5 289.8,419.7 290.1,421 290.5,421.8 291.1,422.4 291.7,422.9 292.4,423.1 293.4,422.9 294.9,421.9 296.4,420.9 297.5,420.8 298.3,421.1 299,421.7 299.5,422.3 300,423.2 300,424.6 299.6,426.6 299.1,428.5 299,429.8 299.4,430.7 299.8,431.3 300.4,431.8 301.1,432.2 302.2,432.2 303.9,431.6 305.6,431 306.7,431.1 307.5,431.5 308.1,432.2 308.6,432.9 308.8,433.8 308.7,435.1 307.9,436.8 307,438.5 306.8,439.7 307,440.5 307.4,441.2 307.9,441.8 308.6,442.3 309.7,442.5 311.5,442.3 313.4,442.1 314.6,442.4 315.3,443 315.8,443.7 316.2,444.5 316.3,445.4 316,446.5 314.9,448 313.7,449.4 313.3,450.5 313.4,451.3 313.7,452 314.1,452.7 314.7,453.3 315.9,453.7 317.8,453.9 319.8,454.1 321,454.7 321.6,455.4 322.1,456.2 322.3,457 322.3,457.8 321.8,458.8 320.4,460 319,461 318.4,461.9 318.4,462.7 318.5,463.5 318.9,464.2 319.5,464.9 320.6,465.6 322.6,466.2 324.6,466.9 325.8,467.6 326.3,468.4 326.7,469.3 326.8,470.1 326.7,471 326,471.8 324.4,472.5 322.7,473.3 322,474 321.8,474.7 321.9,475.5 322.1,476.3 322.6,477.1 323.7,478 325.7,479 327.7,480.1 328.7,481.1 329.2,482 329.4,482.9 329.4,483.8 329.2,484.5 328.3,485.2 326.5,485.6 324.7,485.9 323.7,486.4 323.4,487.1 323.4,487.9 323.5,488.7 323.9,489.6 324.9,490.7 326.7,492.2 328.6,493.7 329.6,494.9 329.9,495.9 330,496.8 329.8,497.6 329.4,498.3 328.4,498.8 326.4,498.7 324.5,498.7 323.4,499 323,499.6 322.8,500.3 322.7,501.1 322.9,502.1 323.8,503.4 325.5,505.3 327.1,507.2 327.9,508.6 328,509.6 327.9,510.5 327.6,511.3 327,511.9 325.8,512.1 323.8,511.6 321.7,511.1 320.5,511.2 319.9,511.7 319.6,512.3 319.3,513.1 319.4,514.1 319.9,515.6 321.3,517.8 322.7,520 323.1,521.5 323,522.6 322.7,523.4 322.2,524.1 321.4,524.5 320.1,524.4 318,523.5 316,522.5 314.7,522.3 313.9,522.6 313.4,523.1 312.9,523.8 312.7,524.7 313,526.2 313.9,528.6 314.8,531.1 315,532.6 314.6,533.5 314,534.2 313.3,534.7 312.4,534.9 311,534.5 309,533 307,531.6 305.7,531 304.8,531.1Z" fill="#fff" stroke="#000" stroke-width="1.5"/>
<path d="M302.4,532.2 301.7,532.7 301.3,533.5 301.2,534.9 301.7,537.4 302.1,539.8 301.9,541.2 301.3,542 300.5,542.4 299.7,542.6 298.7,542.5 297.3,541.7 295.6,539.8 293.8,537.9 292.6,537 291.7,536.8 290.9,536.9 290.1,537.2 289.5,537.7 289.1,539 289.1,541.3 289.1,543.6 288.6,544.8 287.9,545.3 287,545.4 286.1,545.4 285.1,545 284,543.9 282.6,541.7 281.2,539.5 280.1,538.4 279.2,537.9 278.4,537.8 277.7,537.8 277,538.1 276.4,539.2 276,541.3 275.5,543.3 274.8,544.3 274,544.5 273.2,544.5 272.3,544.2 271.4,543.6 270.5,542.3 269.5,540 268.6,537.6 267.7,536.3 267,535.7 266.2,535.4 265.5,535.2 264.7,535.4 264,536.2 263.2,538 262.4,539.8 261.5,540.5 260.7,540.6 259.9,540.3 259.1,539.9 258.4,539.1 257.7,537.7 257.2,535.4 256.7,533 256.1,531.7 255.4,530.9 254.8,530.5 254.1,530.2 253.3,530.2 252.4,530.8 251.3,532.3 250.2,533.7 249.3,534.2 248.4,534.1 247.7,533.7 247,533.2 246.4,532.3 245.9,530.9 245.8,528.7 245.7,526.4 245.4,525 244.9,524.2 244.3,523.7 243.7,523.3 242.9,523.1 241.9,523.5 240.6,524.6 239.2,525.8 238.1,526.1 237.3,525.8 236.6,525.3 236,524.6 235.5,523.8 235.4,522.4 235.6,520.3 235.9,518.2 235.9,516.9 235.5,516.1 235,515.4 234.4,514.9 233.6,514.6 232.6,514.8 231,515.6 229.4,516.3 228.3,516.4 227.5,516 226.9,515.4 226.3,514.7 226,513.8 226,512.5 226.7,510.6 227.3,508.8 227.5,507.5 227.2,506.7 226.8,506 226.3,505.4 225.6,505 224.4,504.9 222.7,505.4 220.9,505.7 219.7,505.5 219,505 218.4,504.3 218,503.6 217.8,502.7 218,501.5 219,499.9 220,498.3 220.3,497.2 220.2,496.4 219.9,495.7 219.4,495 218.7,494.5 217.6,494.2 215.7,494.2 213.8,494.1 212.6,493.7 211.9,493.1 211.4,492.3 211.1,491.5 211,490.6 211.5,489.6 212.7,488.3 214,487 214.5,486 214.5,485.2 214.3,484.5 213.9,483.8 213.3,483.2 212.1,482.6 210.1,482.2 208.1,481.7 207,481.1 206.3,480.3 206,479.5 205.8,478.7 205.8,477.8 206.4,476.9 207.9,476 209.5,475.1 210.2,474.3 210.3,473.5 210.1,472.7 209.9,472 209.3,471.2 208.2,470.5 206.2,469.6 204.2,468.7 203,467.8 202.5,467 202.3,466.1 202.2,465.3 202.4,464.5 203.2,463.7 204.9,463.1 206.6,462.6 207.5,462 207.7,461.3 207.7,460.5 207.5,459.7 207.1,458.9 206,457.9 204.1,456.6 202.1,455.3 201.1,454.2 200.7,453.2 200.6,452.3 200.6,451.5 201,450.7 201.9,450.2 203.8,450 205.7,449.9 206.7,449.5 207.1,448.8 207.2,448.1 207.1,447.2 206.8,446.3 205.9,445.1 204.1,443.4 202.3,441.7 201.5,440.4 201.2,439.3 201.3,438.4 201.5,437.6 202,437 203.1,436.7 205.1,436.9 207.1,437.2 208.2,437 208.8,436.4 209,435.7 209.2,434.9 209,434 208.3,432.6 206.8,430.5 205.3,428.4 204.6,426.9 204.6,425.9 204.8,425 205.2,424.3 205.9,423.7 207.2,423.7 209.2,424.4 211.3,425.2 212.6,425.2 213.2,424.8 213.7,424.2 214,423.5 214.1,422.5 213.7,421 212.5,418.7 211.4,416.3 211.1,414.8 211.3,413.8 211.8,413 212.4,412.4 213.2,412.1 214.6,412.3 216.6,413.5 218.7,414.8 220,415.1 220.8,415 221.5,414.5 222,413.9 222.3,413.1 222.2,411.6 221.5,409.1 220.9,406.7 220.9,405.2 221.4,404.3 222.1,403.8 222.9,403.4 223.8,403.3 225.2,404 227.1,405.6 229,407.3 230.3,408.1 231.2,408.1 232,407.9 232.7,407.5 233.2,406.9 233.4,405.5 233.2,403.2 233.1,400.8 233.4,399.4 234.1,398.8 234.9,398.5 235.8,398.5 236.8,398.7 238.1,399.7 239.7,401.7 241.2,403.8 242.4,404.8 243.3,405.2 244.1,405.2 244.9,405.1 245.5,404.6 246,403.5 246.2,401.3 246.5,399.1 247.1,398 247.9,397.6 248.7,397.6 249.6,397.8 250.6,398.2 251.6,399.5 252.8,401.7 254,404 254.9,405.3 255.8,405.8 256.5,406.1 257.3,406.1 258,405.9 258.7,405 259.3,403 260,401.1 260.7,400.2 261.5,400.1 262.4,400.3 263.2,400.6 264,401.3 264.8,402.6 265.6,405 266.3,407.4 267,408.7 267.7,409.4 268.4,409.8 269.1,410 269.9,410 270.7,409.3 271.6,407.6 272.6,406 273.5,405.4 274.4,405.4 275.1,405.7 275.9,406.2 276.6,407 277.1,408.4 277.5,410.7 277.7,413.1 278.2,414.4 278.8,415.2 279.4,415.7 280.1,416.1 280.8,416.2 281.8,415.7 283,414.3 284.3,413.1 285.3,412.7 286.1,412.8 286.8,413.3 287.5,413.9 288,414.8 288.3,416.2 288.2,418.4 288.1,420.5 288.3,421.9 288.8,422.7 289.3,423.3 289.9,423.7 290.7,424 291.7,423.7 293.2,422.7 294.7,421.8 295.8,421.6 296.6,421.9 297.2,422.5 297.8,423.2 298.2,424.1 298.3,425.4 297.8,427.4 297.3,429.4 297.3,430.7 297.6,431.5 298.1,432.1 298.6,432.7 299.3,433 300.4,433 302.1,432.4 303.8,431.8 305,431.9 305.8,432.4 306.3,433 306.8,433.7 307.1,434.6 306.9,435.9 306.1,437.6 305.3,439.4 305.1,440.5 305.3,441.4 305.6,442.1 306.1,442.7 306.8,443.1 308,443.3 309.8,443.1 311.7,443 312.8,443.3 313.6,443.9 314.1,444.6 314.4,445.4 314.6,446.2 314.2,447.4 313.1,448.8 312,450.2 311.6,451.3 311.6,452.1 311.9,452.8 312.3,453.5 313,454.1 314.1,454.5 316.1,454.7 318,455 319.2,455.5 319.9,456.2 320.3,457 320.6,457.8 320.6,458.7 320,459.7 318.7,460.8 317.3,461.9 316.7,462.8 316.6,463.6 316.8,464.3 317.1,465 317.7,465.7 318.9,466.4 320.9,467 322.9,467.7 324,468.5 324.6,469.3 324.9,470.1 325.1,471 324.9,471.8 324.2,472.6 322.6,473.4 321,474.1 320.2,474.8 320,475.6 320.1,476.3 320.3,477.1 320.8,477.9 321.9,478.8 323.9,479.9 325.9,481 327,482 327.5,482.9 327.7,483.7 327.7,484.6 327.4,485.4 326.5,486 324.7,486.4 322.9,486.7 322,487.3 321.7,487.9 321.6,488.7 321.7,489.5 322.1,490.4 323.1,491.5 325,493 326.9,494.5 327.8,495.7 328.2,496.7 328.2,497.6 328.1,498.5 327.7,499.2 326.6,499.6 324.7,499.6 322.7,499.5 321.7,499.8 321.2,500.4 321,501.1 321,502 321.2,502.9 322,504.2 323.7,506.1 325.4,508 326.1,509.4 326.3,510.5 326.1,511.4 325.8,512.2 325.3,512.8 324.1,512.9 322,512.5 320,512 318.8,512 318.2,512.5 317.8,513.2 317.6,514 317.6,514.9 318.2,516.4 319.6,518.6 320.9,520.8 321.4,522.4 321.3,523.4 320.9,524.2 320.4,524.9 319.7,525.4 318.4,525.3 316.3,524.3 314.2,523.3 312.9,523.1 312.2,523.4 311.6,524 311.2,524.6 311,525.6 311.2,527.1 312.2,529.5 313.1,531.9 313.2,533.4 312.9,534.4 312.3,535.1 311.6,535.5 310.6,535.8 309.3,535.3 307.3,533.9 305.3,532.4 304,531.8 303.1,531.9Z" fill="#fff" stroke="#000" stroke-width="2.2"/>
<path d="M247.8,418.7 260.1,421.1 263,421.8 265.7,422.7 266.5,423.2 268.2,425.4 268.4,426.2 268,428.2 267.1,430.2 263.3,438.6 262.3,440.6 261.1,442.1 260.4,442.3 258,441.8 257.1,441.3 255.1,439.1 253,436.6 244.6,425.7 242.7,423.2 241.2,420.7 241.1,419.9 241.8,418.3 242.4,418 245,418.2Z" fill="#fff" stroke="#000" stroke-width="2"/>
<path d="M250.9,419.6 261,421.7 263.3,422.2 265.6,422.9 266.2,423.4 267.6,425.1 267.8,425.8 267.4,427.5 266.7,429.1 263.6,436 262.8,437.6 261.8,438.9 261.2,439 259.3,438.6 258.5,438.2 256.8,436.4 255.1,434.3 248.3,425.4 246.7,423.3 245.5,421.3 245.3,420.7 246,419.3 246.5,419.1 248.6,419.2Z" fill="none" stroke="#000" stroke-width="1.1"/>
<path d="M224.2,435 220.4,447.9 219.5,451 219,454.1 219.1,455.1 220.2,457.6 220.8,458.2 222.8,458.7 225.1,458.8 234.5,458.8 236.7,458.7 238.7,458.2 239.2,457.6 240,455.1 240,454.1 239,451 237.7,447.9 232.1,435 230.8,432 229.3,429.5 228.7,429 226.8,429 226.3,429.5 225.2,432Z" fill="#fff" stroke="#000" stroke-width="2"/>
<path d="M226.7,436.4 223.5,447 222.8,449.6 222.4,452 222.5,452.9 223.4,455 223.9,455.5 225.5,455.9 227.4,455.9 235.1,455.9 236.9,455.9 238.6,455.5 239,455 239.6,452.9 239.6,452 238.8,449.6 237.8,447 233.2,436.4 232.1,433.9 230.9,431.9 230.3,431.5 228.8,431.5 228.4,431.9 227.5,433.9Z" fill="none" stroke="#000" stroke-width="1.1"/>
<path d="M291.1,447.5 300.6,461.1 302.8,464.4 304.6,467.5 304.9,468.6 304.8,471.1 304.3,471.7 302.3,472 300,472 289.8,471.3 287.4,471 285.1,470.4 284.3,469.7 282.4,467.1 282,466 281.8,462.9 281.9,459.8 282.6,446.9 282.8,443.9 283.4,441.4 283.8,440.9 285.8,441.1 286.6,441.6 288.9,444.3Z" fill="#fff" stroke="#000" stroke-width="2"/>
<path d="M292.7,448.9 300.4,460.1 302.2,462.7 303.7,465.3 304,466.2 303.9,468.3 303.5,468.7 301.9,469 300,469 291.6,468.4 289.7,468.2 287.7,467.7 287.1,467.1 285.6,464.9 285.2,464 285.1,461.6 285.1,459 285.7,448.4 285.9,445.9 286.3,443.9 286.7,443.5 288.3,443.6 289,444.1 290.8,446.3Z" fill="none" stroke="#000" stroke-width="1.1"/>
<path d="M228.9,477.9 239.7,482.1 242.3,483.2 244.7,484.5 245.5,485.3 247.2,487.8 247.6,488.8 247.5,491.1 247,493.3 245,502.4 244.4,504.4 243.6,506.1 243,506.2 240.9,505.4 240.1,504.7 238,502 235.8,498.8 227.1,485.5 225.1,482.4 223.5,479.5 223.2,478.5 223.6,476.8 224.1,476.5 226.3,477Z" fill="#fff" stroke="#000" stroke-width="2"/>
<path d="M232,479.3 240.9,482.7 243,483.6 245,484.7 245.6,485.3 247,487.4 247.3,488.2 247.2,490.1 246.9,491.9 245.2,499.3 244.7,501 244,502.4 243.6,502.5 241.8,501.8 241.2,501.3 239.4,499 237.7,496.4 230.5,485.5 228.9,483 227.5,480.6 227.3,479.8 227.7,478.4 228.1,478.1 229.9,478.5Z" fill="none" stroke="#000" stroke-width="1.1"/>
<path d="M293.6,488.5 303.1,490.6 305.3,491.2 307.4,492.1 308,492.8 309.2,495.4 309.4,496.4 309,499.1 308.4,501.8 305.2,513 304.4,515.6 303.4,517.7 302.9,518 301.1,517.6 300.4,517 298.8,514.3 297.3,511.2 291,497.9 289.5,494.7 288.4,491.7 288.3,490.7 288.9,488.5 289.4,488.1 291.4,488.1Z" fill="#fff" stroke="#000" stroke-width="2"/>
<path d="M296.3,489.9 304.1,491.6 305.9,492.1 307.6,492.8 308.1,493.4 309.1,495.5 309.3,496.3 309,498.5 308.4,500.7 305.8,509.9 305.2,512 304.4,513.8 303.9,514 302.4,513.7 301.9,513.2 300.6,511 299.3,508.5 294.2,497.6 293,495 292.1,492.5 292,491.7 292.5,489.9 292.9,489.6 294.5,489.5Z" fill="none" stroke="#000" stroke-width="1.1"/>
<path d="M263.1,504.1 258.5,512.2 257.5,514.1 256.9,516.1 257.1,516.9 258.7,519 259.5,519.6 262.3,520.6 265.3,521.3 277.9,524.1 280.8,524.7 283.4,524.9 284.1,524.7 285,523.1 284.9,522.3 283.5,519.9 281.7,517.3 273.6,506.5 271.7,503.9 269.6,501.7 268.8,501.2 266.3,500.6 265.6,500.8 264.2,502.3Z" fill="#fff" stroke="#000" stroke-width="2"/>
<path d="M265.9,505.2 262.2,511.8 261.4,513.4 260.9,515 261,515.6 262.3,517.4 263,517.8 265.3,518.6 267.7,519.2 278,521.5 280.5,522 282.6,522.2 283.2,522 283.9,520.7 283.8,520.1 282.7,518.1 281.2,516 274.6,507.1 273,505 271.3,503.2 270.6,502.7 268.6,502.3 268,502.4 266.8,503.6Z" fill="none" stroke="#000" stroke-width="1.1"/>
<path d="M269.1,486.7 269.7,491.4 268,491.7 266,487.3 264.1,487.2 263.1,491.4 261.2,490.9 260.8,486.2 259,485.2 256.4,488.3 254.8,487 256.1,482.9 254.6,481.1 251,482.5 249.9,480.6 252.6,477.8 251.8,475.7 247.8,475.1 247.3,473 251,471.9 251,469.7 247.2,467.3 247.5,465.3 251.6,466.2 252.3,464.4 249.4,460.5 250.5,459 254.2,461.7 255.6,460.5 254.1,455.9 255.7,455.1 258.4,459.1 260.2,458.8 260.3,454.2 262.2,454.3 263.4,458.9 265.3,459.5 267.1,455.8 268.9,456.7 268.5,461.2 270.1,462.6 273.3,460.3 274.7,462 272.6,465.5 273.8,467.5 277.7,467.1 278.5,469.1 275.2,471.1 275.7,473.3 279.7,474.8 279.7,476.9 275.8,477 275.4,479.1 278.8,482.3 278.1,484.1 274.2,482.3 273.1,483.8 275.3,488.1 274,489.3 270.7,485.9Z" fill="#fff" stroke="#000" stroke-width="2"/>
<path d="M257.7,485 258.9,481.3 257.5,479.7 254.2,481 253.2,479.2 255.7,476.6 254.9,474.7 251.2,474.1 250.8,472.2 254.2,471.2 254.2,469.2 250.7,467 251,465.2 254.7,466 255.4,464.2 252.7,460.7 253.7,459.3 257.1,461.8 258.4,460.7 257,456.5 258.5,455.7 261,459.4 262.6,459.1 262.8,454.9 264.5,455 265.6,459.3 267.4,459.8 269,456.3 270.7,457.2 270.3,461.4" fill="none" stroke="#000" stroke-width="1.3"/>
<ellipse cx="290" cy="479" rx="2.8" ry="2.5" transform="rotate(0 290 479)" fill="#fff" stroke="#000" stroke-width="1.6"/>
<ellipse cx="189" cy="522" rx="31" ry="26" transform="rotate(66 189 522)" fill="#fff" stroke="#000" stroke-width="1.8"/>
<path d="M172.5,495.6 175.5,494.1 202.5,549.9 199.5,551.4Z" fill="#fff" stroke="none" stroke-width="0"/>
<path d="M172.5,495.6 175.5,494.1" stroke="#000" stroke-width="1.8"/>
<path d="M199.5,551.4 202.5,549.9" stroke="#000" stroke-width="1.8"/>
<ellipse cx="186" cy="523.5" rx="31" ry="26" transform="rotate(66 186 523.5)" fill="#fff" stroke="#000" stroke-width="1.8"/>
<ellipse cx="186" cy="523.5" rx="14.6" ry="12.2" transform="rotate(66 186 523.5)" fill="#fff" stroke="#000" stroke-width="1.7"/>
<path d="M193.9,535.3 193.1,535.4 192.2,535.5 191.3,535.4 190.4,535.3 189.5,535.2 188.6,534.9 187.8,534.6 186.9,534.2 186.1,533.8 185.2,533.3 184.4,532.7 183.7,532.1 182.9,531.4 182.2,530.7 181.6,529.9 181,529.1 180.4,528.3 179.9,527.4 179.4,526.5 179,525.5 178.7,524.5 178.4,523.6 178.2,522.6 178,521.6 177.9,520.6 177.9,519.6 177.9,518.6 178,517.6 178.1,516.6 178.3,515.7 178.6,514.8 178.9,513.9 179.3,513.1 179.7,512.3 180.2,511.5 180.8,510.8 181.4,510.2" fill="none" stroke="#000" stroke-width="1.1"/>
<path d="M209.9,515.5 204.9,519.5 204.9,523.5 212.9,521.5Z" fill="#000" stroke="#000" stroke-width="1.1"/>
<path d="M155.2,568 135.5,566.5 124.2,546.4 132.8,528 152.5,529.5 163.8,549.6Z" fill="#fff" stroke="#000" stroke-width="1.8"/>
<path d="M124.8,531 144.5,532.5 152.5,529.5 132.8,528Z" fill="#fff" stroke="#000" stroke-width="1.8"/>
<path d="M155.8,552.6 147.2,571 155.2,568 163.8,549.6Z" fill="#fff" stroke="#000" stroke-width="1.8"/>
<path d="M144.5,532.5 155.8,552.6 163.8,549.6 152.5,529.5Z" fill="#fff" stroke="#000" stroke-width="1.8"/>
<path d="M147.2,571 127.5,569.5 116.2,549.4 124.8,531 144.5,532.5 155.8,552.6Z" fill="#fff" stroke="#000" stroke-width="1.8"/>
<path d="M155.8,552.6 147.2,571 155.2,568 163.8,549.6Z" fill="#111" stroke="#000" stroke-width="1.4"/>
<path d="M147.2,571 127.5,569.5 116.2,549.4 124.8,531 144.5,532.5 155.8,552.6Z" fill="#fff" stroke="#000" stroke-width="1.8"/>
<ellipse cx="136" cy="551" rx="21.2" ry="17.5" transform="rotate(64 136 551)" fill="none" stroke="#000" stroke-width="0.9"/>
<ellipse cx="136" cy="551" rx="13.3" ry="11" transform="rotate(64 136 551)" fill="#fff" stroke="#000" stroke-width="1.8"/>
<path d="M129,554.7 128.3,553 127.8,551.2 127.5,549.4 127.5,547.6 127.7,545.9 128.1,544.2 128.8,542.7 129.7,541.4 130.7,540.2 131.9,539.3 133.3,538.5 134.8,538.1 136.3,537.9 137.9,537.9 139.5,538.2 141.1,538.8 142.6,539.6 144,540.7 145.3,541.9" fill="none" stroke="#000" stroke-width="1"/>
<path d="M131.5,553.7 130.8,552.1 130.4,550.4 130.1,548.7 130.1,547 130.3,545.4 130.7,543.8 131.3,542.4 132.1,541.1 133.1,540 134.3,539.1 135.6,538.4 137,538 138.4,537.8 139.9,537.8 141.4,538.1 142.9,538.7 144.4,539.4 145.7,540.4 147,541.6" fill="none" stroke="#000" stroke-width="1"/>
<path d="M134,552.7 133.4,551.2 133,549.6 132.7,548 132.7,546.4 132.9,544.8 133.3,543.4 133.9,542 134.6,540.8 135.6,539.8 136.6,538.9 137.8,538.3 139.2,537.9 140.5,537.7 141.9,537.7 143.4,538 144.8,538.5 146.1,539.3 147.4,540.2 148.6,541.3" fill="none" stroke="#000" stroke-width="1"/>
<path d="M136.5,551.7 136,550.2 135.5,548.8 135.3,547.3 135.3,545.8 135.5,544.3 135.8,542.9 136.4,541.7 137.1,540.5 138,539.6 139,538.8 140.1,538.2 141.4,537.8 142.6,537.6 144,537.7 145.3,537.9 146.6,538.4 147.9,539.1 149.1,540 150.2,541" fill="none" stroke="#000" stroke-width="1"/>
<path d="M139.1,550.7 138.5,549.3 138.1,548 137.9,546.5 137.9,545.2 138,543.8 138.4,542.5 138.9,541.3 139.6,540.3 140.4,539.4 141.3,538.6 142.4,538.1 143.6,537.7 144.8,537.5 146,537.6 147.3,537.8 148.5,538.3 149.7,538.9 150.8,539.7 151.8,540.7" fill="none" stroke="#000" stroke-width="1"/>
<path d="M141.6,549.7 141.1,548.4 140.7,547.1 140.5,545.8 140.5,544.5 140.6,543.3 140.9,542.1 141.4,541 142,540 142.8,539.2 143.7,538.5 144.7,537.9 145.8,537.6 146.9,537.4 148,537.5 149.2,537.7 150.3,538.1 151.4,538.7 152.5,539.5 153.4,540.4" fill="none" stroke="#000" stroke-width="1"/>
<ellipse cx="576.5" cy="493.5" rx="19.5" ry="14" transform="rotate(70 576.5 493.5)" fill="#fff" stroke="#000" stroke-width="2"/>
<path d="M546.1,483.1 570.1,475.1 582.9,511.9 558.9,519.9Z" fill="#fff" stroke="none" stroke-width="0"/>
<path d="M546.1,483.1 570.1,475.1" stroke="#000" stroke-width="2"/>
<path d="M558.9,519.9 582.9,511.9" stroke="#000" stroke-width="2"/>
<ellipse cx="552.5" cy="501.5" rx="19.5" ry="14" transform="rotate(70 552.5 501.5)" fill="#fff" stroke="#000" stroke-width="2"/>
<ellipse cx="552.5" cy="501.5" rx="16.8" ry="12" transform="rotate(70 552.5 501.5)" fill="#fff" stroke="#000" stroke-width="2.1"/>
<ellipse cx="552.5" cy="501.5" rx="14.8" ry="10.6" transform="rotate(70 552.5 501.5)" fill="#fff" stroke="#000" stroke-width="1.3"/>
<path d="M544.7,491.3 557.1,491.3" stroke="#000" stroke-width="1.4"/>
<path d="M543.3,495.4 559.8,495.4" stroke="#000" stroke-width="1.4"/>
<path d="M543.1,499.5 561.4,499.5" stroke="#000" stroke-width="1.4"/>
<path d="M543.7,503.5 561.9,503.5" stroke="#000" stroke-width="1.4"/>
<path d="M545.1,507.6 561.7,507.6" stroke="#000" stroke-width="1.4"/>
<path d="M548.1,511.7 560.2,511.7" stroke="#000" stroke-width="1.4"/>
<ellipse cx="518" cy="522.5" rx="19" ry="14" transform="rotate(70 518 522.5)" fill="#fff" stroke="#000" stroke-width="2"/>
<path d="M488.6,512.6 511.6,504.6 524.4,540.4 501.4,548.4Z" fill="#fff" stroke="none" stroke-width="0"/>
<path d="M488.6,512.6 511.6,504.6" stroke="#000" stroke-width="2"/>
<path d="M501.4,548.4 524.4,540.4" stroke="#000" stroke-width="2"/>
<ellipse cx="495" cy="530.5" rx="19" ry="14" transform="rotate(70 495 530.5)" fill="#fff" stroke="#000" stroke-width="2"/>
<ellipse cx="495" cy="530.5" rx="16.3" ry="12" transform="rotate(70 495 530.5)" fill="#fff" stroke="#000" stroke-width="2.1"/>
<ellipse cx="495" cy="530.5" rx="14.4" ry="10.6" transform="rotate(70 495 530.5)" fill="#fff" stroke="#000" stroke-width="1.3"/>
<path d="M487.3,520.6 499.6,520.6" stroke="#000" stroke-width="1.4"/>
<path d="M485.9,524.5 502.3,524.5" stroke="#000" stroke-width="1.4"/>
<path d="M485.6,528.5 503.8,528.5" stroke="#000" stroke-width="1.4"/>
<path d="M486.2,532.5 504.4,532.5" stroke="#000" stroke-width="1.4"/>
<path d="M487.6,536.5 504.1,536.5" stroke="#000" stroke-width="1.4"/>
<path d="M490.2,540.4 502.6,540.4" stroke="#000" stroke-width="1.4"/>
<ellipse cx="535" cy="585" rx="21.5" ry="16.5" transform="rotate(74 535 585)" fill="#fff" stroke="#000" stroke-width="1.5"/>
<path d="M454.3,640.5 456.6,646.7 453,648.5 448.8,643.2 445.3,644.4 446.7,650.6 442.8,651.4 439.3,645.6 435.6,645.9 436.1,651.9 432.1,651.8 429.5,645.7 425.8,645.2 425.5,651 421.6,650.1 419.8,643.9 416.3,642.8 415.2,648.1 411.4,646.6 410.6,640.6 407.3,639 405.4,643.8 401.9,641.8 401.9,636 398.8,634 396.3,638.2 393,635.8 393.9,630.4 391,628.1 387.9,631.6 384.9,628.9 386.5,623.9 383.9,621.3 380.2,624.2 377.5,621.2 379.8,616.8 377.4,614 373.2,616 370.8,612.8 373.8,609 371.7,606 367.1,607.3 365,603.9 368.5,600.7 366.8,597.5 361.8,598 360.1,594.4 364.1,592 362.6,588.6 357.4,588.2 356.1,584.5 360.5,582.8 359.4,579.3 354.1,578.1 353.1,574.2 358,573.4 357.3,569.8 351.9,567.6 351.4,563.6 356.5,563.7 356.3,560 351,557 351,552.9 356.3,553.9 356.6,550.2 351.5,546.3 352.2,542.3 357.7,544.2 358.6,540.6 353.9,535.9 355.3,532.1 360.7,534.8 362.4,531.6 358.3,526.1 360.5,522.8 365.7,526.4 368.1,523.6 364.8,517.7 367.8,515 372.7,519.5 375.7,517.5 373.4,511.3 377,509.5 381.2,514.8 384.7,513.6 383.3,507.4 387.2,506.6 390.7,512.4 394.4,512.1 393.9,506.1 397.9,506.2 400.5,512.3 404.2,512.8 404.5,507 408.4,507.9 410.2,514.1 413.7,515.2 414.8,509.9 418.6,511.4 419.4,517.4 422.7,519 424.6,514.2 428.1,516.2 428.1,522 431.2,524 433.7,519.8 437,522.2 436.1,527.6 439,529.9 442.1,526.4 445.1,529.1 443.5,534.1 446.1,536.7 449.8,533.8 452.5,536.8 450.2,541.2 452.6,544 456.8,542 459.2,545.2 456.2,549 458.3,552 462.9,550.7 465,554.1 461.5,557.3 463.2,560.5 468.2,560 469.9,563.6 465.9,566 467.4,569.4 472.6,569.8 473.9,573.5 469.5,575.2 470.6,578.7 475.9,579.9 476.9,583.8 472,584.6 472.7,588.2 478.1,590.4 478.6,594.4 473.5,594.3 473.7,598 479,601 479,605.1 473.7,604.1 473.4,607.8 478.5,611.7 477.8,615.7 472.3,613.8 471.4,617.4 476.1,622.1 474.7,625.9 469.3,623.2 467.6,626.4 471.7,631.9 469.5,635.2 464.3,631.6 461.9,634.4 465.2,640.3 462.2,643 457.3,638.5Z" fill="#fff" stroke="#000" stroke-width="1.7"/>
<path d="M340.1,578.2 345,577.4 358,573.4 353.1,574.2Z" fill="#fff" stroke="#000" stroke-width="1.5"/>
<path d="M338.4,567.6 343.5,567.7 356.5,563.7 351.4,563.6Z" fill="#fff" stroke="#000" stroke-width="1.5"/>
<path d="M338,556.9 343.3,557.9 356.3,553.9 351,552.9Z" fill="#fff" stroke="#000" stroke-width="1.5"/>
<path d="M364.4,618 360.2,620 373.2,616 377.4,614Z" fill="#fff" stroke="#000" stroke-width="1.5"/>
<path d="M339.2,546.3 344.7,548.2 357.7,544.2 352.2,542.3Z" fill="#fff" stroke="#000" stroke-width="1.5"/>
<path d="M370.9,625.3 367.2,628.2 380.2,624.2 383.9,621.3Z" fill="#fff" stroke="#000" stroke-width="1.5"/>
<path d="M342.3,536.1 347.7,538.8 360.7,534.8 355.3,532.1Z" fill="#fff" stroke="#000" stroke-width="1.5"/>
<path d="M378,632.1 374.9,635.6 387.9,631.6 391,628.1Z" fill="#fff" stroke="#000" stroke-width="1.5"/>
<path d="M347.5,526.8 352.7,530.4 365.7,526.4 360.5,522.8Z" fill="#fff" stroke="#000" stroke-width="1.5"/>
<path d="M385.8,638 383.3,642.2 396.3,638.2 398.8,634Z" fill="#fff" stroke="#000" stroke-width="1.5"/>
<path d="M394.3,643 392.4,647.8 405.4,643.8 407.3,639Z" fill="#fff" stroke="#000" stroke-width="1.5"/>
<path d="M354.8,519 359.7,523.5 372.7,519.5 367.8,515Z" fill="#fff" stroke="#000" stroke-width="1.5"/>
<path d="M403.3,646.8 402.2,652.1 415.2,648.1 416.3,642.8Z" fill="#fff" stroke="#000" stroke-width="1.5"/>
<path d="M364,513.5 368.2,518.8 381.2,514.8 377,509.5Z" fill="#fff" stroke="#000" stroke-width="1.5"/>
<path d="M412.8,649.2 412.5,655 425.5,651 425.8,645.2Z" fill="#fff" stroke="#000" stroke-width="1.5"/>
<path d="M370.3,511.4 374.2,510.6 387.2,506.6 383.3,507.4Z" fill="#fff" stroke="#000" stroke-width="1.5"/>
<path d="M374.2,510.6 377.7,516.4 390.7,512.4 387.2,506.6Z" fill="#fff" stroke="#000" stroke-width="1.5"/>
<path d="M377.7,516.4 381.4,516.1 394.4,512.1 390.7,512.4Z" fill="#fff" stroke="#000" stroke-width="1.5"/>
<path d="M422.6,649.9 423.1,655.9 436.1,651.9 435.6,645.9Z" fill="#fff" stroke="#000" stroke-width="1.5"/>
<path d="M380.9,510.1 384.9,510.2 397.9,506.2 393.9,506.1Z" fill="#fff" stroke="#000" stroke-width="1.5"/>
<path d="M384.9,510.2 387.5,516.3 400.5,512.3 397.9,506.2Z" fill="#fff" stroke="#000" stroke-width="1.5"/>
<path d="M387.5,516.3 391.2,516.8 404.2,512.8 400.5,512.3Z" fill="#fff" stroke="#000" stroke-width="1.5"/>
<path d="M432.3,648.4 433.7,654.6 446.7,650.6 445.3,644.4Z" fill="#fff" stroke="#000" stroke-width="1.5"/>
<path d="M435.8,647.2 432.3,648.4 445.3,644.4 448.8,643.2Z" fill="#fff" stroke="#000" stroke-width="1.5"/>
<path d="M391.5,511 395.4,511.9 408.4,507.9 404.5,507Z" fill="#fff" stroke="#000" stroke-width="1.5"/>
<path d="M395.4,511.9 397.2,518.1 410.2,514.1 408.4,507.9Z" fill="#fff" stroke="#000" stroke-width="1.5"/>
<path d="M397.2,518.1 400.7,519.2 413.7,515.2 410.2,514.1Z" fill="#fff" stroke="#000" stroke-width="1.5"/>
<path d="M443.6,650.7 440,652.5 453,648.5 456.6,646.7Z" fill="#fff" stroke="#000" stroke-width="1.5"/>
<path d="M441.3,644.5 443.6,650.7 456.6,646.7 454.3,640.5Z" fill="#fff" stroke="#000" stroke-width="1.5"/>
<path d="M444.3,642.5 441.3,644.5 454.3,640.5 457.3,638.5Z" fill="#fff" stroke="#000" stroke-width="1.5"/>
<path d="M401.8,513.9 405.6,515.4 418.6,511.4 414.8,509.9Z" fill="#fff" stroke="#000" stroke-width="1.5"/>
<path d="M405.6,515.4 406.4,521.4 419.4,517.4 418.6,511.4Z" fill="#fff" stroke="#000" stroke-width="1.5"/>
<path d="M406.4,521.4 409.7,523 422.7,519 419.4,517.4Z" fill="#fff" stroke="#000" stroke-width="1.5"/>
<path d="M452.2,644.3 449.2,647 462.2,643 465.2,640.3Z" fill="#fff" stroke="#000" stroke-width="1.5"/>
<path d="M448.9,638.4 452.2,644.3 465.2,640.3 461.9,634.4Z" fill="#fff" stroke="#000" stroke-width="1.5"/>
<path d="M411.6,518.2 415.1,520.2 428.1,516.2 424.6,514.2Z" fill="#fff" stroke="#000" stroke-width="1.5"/>
<path d="M451.3,635.6 448.9,638.4 461.9,634.4 464.3,631.6Z" fill="#fff" stroke="#000" stroke-width="1.5"/>
<path d="M415.1,520.2 415.1,526 428.1,522 428.1,516.2Z" fill="#fff" stroke="#000" stroke-width="1.5"/>
<path d="M415.1,526 418.2,528 431.2,524 428.1,522Z" fill="#fff" stroke="#000" stroke-width="1.5"/>
<path d="M423.1,531.6 426,533.9 439,529.9 436.1,527.6Z" fill="#fff" stroke="#000" stroke-width="1.5"/>
<path d="M420.7,523.8 424,526.2 437,522.2 433.7,519.8Z" fill="#fff" stroke="#000" stroke-width="1.5"/>
<path d="M424,526.2 423.1,531.6 436.1,527.6 437,522.2Z" fill="#fff" stroke="#000" stroke-width="1.5"/>
<path d="M458.7,635.9 456.5,639.2 469.5,635.2 471.7,631.9Z" fill="#fff" stroke="#000" stroke-width="1.5"/>
<path d="M454.6,630.4 458.7,635.9 471.7,631.9 467.6,626.4Z" fill="#fff" stroke="#000" stroke-width="1.5"/>
<path d="M456.3,627.2 454.6,630.4 467.6,626.4 469.3,623.2Z" fill="#fff" stroke="#000" stroke-width="1.5"/>
<path d="M430.5,538.1 433.1,540.7 446.1,536.7 443.5,534.1Z" fill="#fff" stroke="#000" stroke-width="1.5"/>
<path d="M432.1,533.1 430.5,538.1 443.5,534.1 445.1,529.1Z" fill="#fff" stroke="#000" stroke-width="1.5"/>
<path d="M429.1,530.4 432.1,533.1 445.1,529.1 442.1,526.4Z" fill="#fff" stroke="#000" stroke-width="1.5"/>
<path d="M459.3,617.8 458.4,621.4 471.4,617.4 472.3,613.8Z" fill="#fff" stroke="#000" stroke-width="1.5"/>
<path d="M458.4,621.4 463.1,626.1 476.1,622.1 471.4,617.4Z" fill="#fff" stroke="#000" stroke-width="1.5"/>
<path d="M463.1,626.1 461.7,629.9 474.7,625.9 476.1,622.1Z" fill="#fff" stroke="#000" stroke-width="1.5"/>
<path d="M437.2,545.2 439.6,548 452.6,544 450.2,541.2Z" fill="#fff" stroke="#000" stroke-width="1.5"/>
<path d="M439.5,540.8 437.2,545.2 450.2,541.2 452.5,536.8Z" fill="#fff" stroke="#000" stroke-width="1.5"/>
<path d="M436.8,537.8 439.5,540.8 452.5,536.8 449.8,533.8Z" fill="#fff" stroke="#000" stroke-width="1.5"/>
<path d="M460.7,608.1 460.4,611.8 473.4,607.8 473.7,604.1Z" fill="#fff" stroke="#000" stroke-width="1.5"/>
<path d="M443.2,553 445.3,556 458.3,552 456.2,549Z" fill="#fff" stroke="#000" stroke-width="1.5"/>
<path d="M460.4,611.8 465.5,615.7 478.5,611.7 473.4,607.8Z" fill="#fff" stroke="#000" stroke-width="1.5"/>
<path d="M465.5,615.7 464.8,619.7 477.8,615.7 478.5,611.7Z" fill="#fff" stroke="#000" stroke-width="1.5"/>
<path d="M446.2,549.2 443.2,553 456.2,549 459.2,545.2Z" fill="#fff" stroke="#000" stroke-width="1.5"/>
<path d="M460.5,598.3 460.7,602 473.7,598 473.5,594.3Z" fill="#fff" stroke="#000" stroke-width="1.5"/>
<path d="M448.5,561.3 450.2,564.5 463.2,560.5 461.5,557.3Z" fill="#fff" stroke="#000" stroke-width="1.5"/>
<path d="M443.8,546 446.2,549.2 459.2,545.2 456.8,542Z" fill="#fff" stroke="#000" stroke-width="1.5"/>
<path d="M445.3,556 449.9,554.7 462.9,550.7 458.3,552Z" fill="#fff" stroke="#000" stroke-width="1.5"/>
<path d="M460.7,602 466,605 479,601 473.7,598Z" fill="#fff" stroke="#000" stroke-width="1.5"/>
<path d="M459,588.6 459.7,592.2 472.7,588.2 472,584.6Z" fill="#fff" stroke="#000" stroke-width="1.5"/>
<path d="M452.9,570 454.4,573.4 467.4,569.4 465.9,566Z" fill="#fff" stroke="#000" stroke-width="1.5"/>
<path d="M452,558.1 448.5,561.3 461.5,557.3 465,554.1Z" fill="#fff" stroke="#000" stroke-width="1.5"/>
<path d="M456.5,579.2 457.6,582.7 470.6,578.7 469.5,575.2Z" fill="#fff" stroke="#000" stroke-width="1.5"/>
<path d="M450.2,564.5 455.2,564 468.2,560 463.2,560.5Z" fill="#fff" stroke="#000" stroke-width="1.5"/>
<path d="M466,605 466,609.1 479,605.1 479,601Z" fill="#fff" stroke="#000" stroke-width="1.5"/>
<path d="M449.9,554.7 452,558.1 465,554.1 462.9,550.7Z" fill="#fff" stroke="#000" stroke-width="1.5"/>
<path d="M459.7,592.2 465.1,594.4 478.1,590.4 472.7,588.2Z" fill="#fff" stroke="#000" stroke-width="1.5"/>
<path d="M456.9,567.6 452.9,570 465.9,566 469.9,563.6Z" fill="#fff" stroke="#000" stroke-width="1.5"/>
<path d="M454.4,573.4 459.6,573.8 472.6,569.8 467.4,569.4Z" fill="#fff" stroke="#000" stroke-width="1.5"/>
<path d="M460.9,577.5 456.5,579.2 469.5,575.2 473.9,573.5Z" fill="#fff" stroke="#000" stroke-width="1.5"/>
<path d="M457.6,582.7 462.9,583.9 475.9,579.9 470.6,578.7Z" fill="#fff" stroke="#000" stroke-width="1.5"/>
<path d="M465.1,594.4 465.6,598.4 478.6,594.4 478.1,590.4Z" fill="#fff" stroke="#000" stroke-width="1.5"/>
<path d="M455.2,564 456.9,567.6 469.9,563.6 468.2,560Z" fill="#fff" stroke="#000" stroke-width="1.5"/>
<path d="M459.6,573.8 460.9,577.5 473.9,573.5 472.6,569.8Z" fill="#fff" stroke="#000" stroke-width="1.5"/>
<path d="M462.9,583.9 463.9,587.8 476.9,583.8 475.9,579.9Z" fill="#fff" stroke="#000" stroke-width="1.5"/>
<path d="M441.3,644.5 443.6,650.7 440,652.5 435.8,647.2 432.3,648.4 433.7,654.6 429.8,655.4 426.3,649.6 422.6,649.9 423.1,655.9 419.1,655.8 416.5,649.7 412.8,649.2 412.5,655 408.6,654.1 406.8,647.9 403.3,646.8 402.2,652.1 398.4,650.6 397.6,644.6 394.3,643 392.4,647.8 388.9,645.8 388.9,640 385.8,638 383.3,642.2 380,639.8 380.9,634.4 378,632.1 374.9,635.6 371.9,632.9 373.5,627.9 370.9,625.3 367.2,628.2 364.5,625.2 366.8,620.8 364.4,618 360.2,620 357.8,616.8 360.8,613 358.7,610 354.1,611.3 352,607.9 355.5,604.7 353.8,601.5 348.8,602 347.1,598.4 351.1,596 349.6,592.6 344.4,592.2 343.1,588.5 347.5,586.8 346.4,583.3 341.1,582.1 340.1,578.2 345,577.4 344.3,573.8 338.9,571.6 338.4,567.6 343.5,567.7 343.3,564 338,561 338,556.9 343.3,557.9 343.6,554.2 338.5,550.3 339.2,546.3 344.7,548.2 345.6,544.6 340.9,539.9 342.3,536.1 347.7,538.8 349.4,535.6 345.3,530.1 347.5,526.8 352.7,530.4 355.1,527.6 351.8,521.7 354.8,519 359.7,523.5 362.7,521.5 360.4,515.3 364,513.5 368.2,518.8 371.7,517.6 370.3,511.4 374.2,510.6 377.7,516.4 381.4,516.1 380.9,510.1 384.9,510.2 387.5,516.3 391.2,516.8 391.5,511 395.4,511.9 397.2,518.1 400.7,519.2 401.8,513.9 405.6,515.4 406.4,521.4 409.7,523 411.6,518.2 415.1,520.2 415.1,526 418.2,528 420.7,523.8 424,526.2 423.1,531.6 426,533.9 429.1,530.4 432.1,533.1 430.5,538.1 433.1,540.7 436.8,537.8 439.5,540.8 437.2,545.2 439.6,548 443.8,546 446.2,549.2 443.2,553 445.3,556 449.9,554.7 452,558.1 448.5,561.3 450.2,564.5 455.2,564 456.9,567.6 452.9,570 454.4,573.4 459.6,573.8 460.9,577.5 456.5,579.2 457.6,582.7 462.9,583.9 463.9,587.8 459,588.6 459.7,592.2 465.1,594.4 465.6,598.4 460.5,598.3 460.7,602 466,605 466,609.1 460.7,608.1 460.4,611.8 465.5,615.7 464.8,619.7 459.3,617.8 458.4,621.4 463.1,626.1 461.7,629.9 456.3,627.2 454.6,630.4 458.7,635.9 456.5,639.2 451.3,635.6 448.9,638.4 452.2,644.3 449.2,647 444.3,642.5Z" fill="#fff" stroke="#000" stroke-width="1.7"/>
<ellipse cx="402" cy="583" rx="69.3" ry="48.4" transform="rotate(56 402 583)" fill="none" stroke="#000" stroke-width="1.4"/>
<ellipse cx="402" cy="583" rx="65.7" ry="45.9" transform="rotate(56 402 583)" fill="none" stroke="#000" stroke-width="1.1"/>
<ellipse cx="401.4" cy="589.3" rx="22.8" ry="15.8" transform="rotate(62 401.4 589.3)" fill="#fff" stroke="#000" stroke-width="1.6"/>
<path d="M351.5,588.2 391.1,569 411.7,609.6 372.1,628.7Z" fill="#fff" stroke="none" stroke-width="0"/>
<path d="M351.5,588.2 391.1,569" stroke="#000" stroke-width="1.6"/>
<path d="M372.1,628.7 411.7,609.6" stroke="#000" stroke-width="1.6"/>
<ellipse cx="361.8" cy="608.4" rx="22.8" ry="15.8" transform="rotate(62 361.8 608.4)" fill="#fff" stroke="#000" stroke-width="1.6"/>
<path d="M389.8,567.5 391.1,566.9 392.4,566.5 393.8,566.2 395.2,566.1 396.7,566.1 398.1,566.2 399.7,566.6 401.2,567 402.7,567.6 404.3,568.4 405.8,569.3 407.2,570.3 408.7,571.4 410.1,572.7 411.4,574.1 412.7,575.5 413.9,577.1 415,578.7 416,580.4 417,582.1 417.8,583.9 418.5,585.8 419.1,587.6 419.6,589.5 420,591.4 420.3,593.2 420.4,595.1 420.4,596.9 420.3,598.6 420.1,600.3 419.7,601.9 419.3,603.4 418.7,604.9 418,606.2 417.2,607.4 416.3,608.5 415.3,609.5 414.2,610.4 413,611.1" fill="none" stroke="#000" stroke-width="1.5"/>
<path d="M372.8,622.2 373.6,625.4 371.8,625.9 370.2,622.8 368.5,622.8 368.5,625.9 366.4,625.5 365.7,622.2 364,621.5 363,624.1 361,622.8 361.2,619.7 359.6,618.4 357.8,620.1 356,618.2 357.1,615.7 355.8,613.9 353.5,614.5 352.2,612.2 354.1,610.6 353.3,608.5 350.6,608 350,605.5 352.4,605 352.2,602.9 349.6,601.3 349.7,599 352.3,599.6 352.7,597.8 350.4,595.3 351.2,593.4 353.8,595.1 354.7,593.7 353,590.7 354.4,589.4 356.7,591.9 358,591.2 357.2,587.9 359,587.5 360.6,590.6 362.3,590.6 362.3,587.5 364.4,587.9 365.1,591.2 366.8,591.9 367.8,589.3 369.8,590.6 369.6,593.6 371.2,595 373,593.3 374.8,595.2 373.7,597.7 375,599.5 377.3,598.8 378.6,601.2 376.7,602.8 377.5,604.9 380.2,605.4 380.8,607.9 378.4,608.4 378.6,610.5 381.2,612 381.1,614.4 378.5,613.8 378.1,615.6 380.4,618.1 379.6,620 377,618.3 376.1,619.7 377.8,622.7 376.4,624 374.1,621.4Z" fill="#fff" stroke="#000" stroke-width="1.5"/>
<path d="M333.8,613.3 336.2,612.8 352.4,605 350,605.5Z" fill="#fff" stroke="#000" stroke-width="1.1"/>
<path d="M343.4,626.2 341.6,627.9 357.8,620.1 359.6,618.4Z" fill="#fff" stroke="#000" stroke-width="1.1"/>
<path d="M333.5,606.8 336.1,607.4 352.3,599.6 349.7,599Z" fill="#fff" stroke="#000" stroke-width="1.1"/>
<path d="M347.8,629.3 346.8,631.9 363,624.1 364,621.5Z" fill="#fff" stroke="#000" stroke-width="1.1"/>
<path d="M335,601.2 337.6,602.9 353.8,595.1 351.2,593.4Z" fill="#fff" stroke="#000" stroke-width="1.1"/>
<path d="M352.3,630.6 352.3,633.7 368.5,625.9 368.5,622.8Z" fill="#fff" stroke="#000" stroke-width="1.1"/>
<path d="M338.2,597.2 340.5,599.8 356.7,591.9 354.4,589.4Z" fill="#fff" stroke="#000" stroke-width="1.1"/>
<path d="M356.6,630 357.4,633.3 373.6,625.4 372.8,622.2Z" fill="#fff" stroke="#000" stroke-width="1.1"/>
<path d="M357.9,629.3 356.6,630 372.8,622.2 374.1,621.4Z" fill="#fff" stroke="#000" stroke-width="1.1"/>
<path d="M341,595.8 342.8,595.3 359,587.5 357.2,587.9Z" fill="#fff" stroke="#000" stroke-width="1.1"/>
<path d="M342.8,595.3 344.4,598.4 360.6,590.6 359,587.5Z" fill="#fff" stroke="#000" stroke-width="1.1"/>
<path d="M361.6,630.5 360.2,631.8 376.4,624 377.8,622.7Z" fill="#fff" stroke="#000" stroke-width="1.1"/>
<path d="M344.4,598.4 346.1,598.4 362.3,590.6 360.6,590.6Z" fill="#fff" stroke="#000" stroke-width="1.1"/>
<path d="M359.9,627.5 361.6,630.5 377.8,622.7 376.1,619.7Z" fill="#fff" stroke="#000" stroke-width="1.1"/>
<path d="M360.8,626.1 359.9,627.5 376.1,619.7 377,618.3Z" fill="#fff" stroke="#000" stroke-width="1.1"/>
<path d="M346.1,595.3 348.2,595.7 364.4,587.9 362.3,587.5Z" fill="#fff" stroke="#000" stroke-width="1.1"/>
<path d="M348.2,595.7 348.9,599 365.1,591.2 364.4,587.9Z" fill="#fff" stroke="#000" stroke-width="1.1"/>
<path d="M348.9,599 350.6,599.7 366.8,591.9 365.1,591.2Z" fill="#fff" stroke="#000" stroke-width="1.1"/>
<path d="M364.2,625.9 363.4,627.8 379.6,620 380.4,618.1Z" fill="#fff" stroke="#000" stroke-width="1.1"/>
<path d="M361.9,623.4 364.2,625.9 380.4,618.1 378.1,615.6Z" fill="#fff" stroke="#000" stroke-width="1.1"/>
<path d="M362.3,621.6 361.9,623.4 378.1,615.6 378.5,613.8Z" fill="#fff" stroke="#000" stroke-width="1.1"/>
<path d="M353.4,601.5 355,602.8 371.2,595 369.6,593.6Z" fill="#fff" stroke="#000" stroke-width="1.1"/>
<path d="M353.6,598.4 353.4,601.5 369.6,593.6 369.8,590.6Z" fill="#fff" stroke="#000" stroke-width="1.1"/>
<path d="M351.6,597.2 353.6,598.4 369.8,590.6 367.8,589.3Z" fill="#fff" stroke="#000" stroke-width="1.1"/>
<path d="M362.2,616.2 362.4,618.3 378.6,610.5 378.4,608.4Z" fill="#fff" stroke="#000" stroke-width="1.1"/>
<path d="M362.4,618.3 365,619.9 381.2,612 378.6,610.5Z" fill="#fff" stroke="#000" stroke-width="1.1"/>
<path d="M365,619.9 364.9,622.2 381.1,614.4 381.2,612Z" fill="#fff" stroke="#000" stroke-width="1.1"/>
<path d="M357.5,605.5 358.8,607.3 375,599.5 373.7,597.7Z" fill="#fff" stroke="#000" stroke-width="1.1"/>
<path d="M360.5,610.6 361.3,612.7 377.5,604.9 376.7,602.8Z" fill="#fff" stroke="#000" stroke-width="1.1"/>
<path d="M358.6,603 357.5,605.5 373.7,597.7 374.8,595.2Z" fill="#fff" stroke="#000" stroke-width="1.1"/>
<path d="M361.3,612.7 364,613.2 380.2,605.4 377.5,604.9Z" fill="#fff" stroke="#000" stroke-width="1.1"/>
<path d="M358.8,607.3 361.1,606.7 377.3,598.8 375,599.5Z" fill="#fff" stroke="#000" stroke-width="1.1"/>
<path d="M362.4,609 360.5,610.6 376.7,602.8 378.6,601.2Z" fill="#fff" stroke="#000" stroke-width="1.1"/>
<path d="M356.8,601.1 358.6,603 374.8,595.2 373,593.3Z" fill="#fff" stroke="#000" stroke-width="1.1"/>
<path d="M364,613.2 364.6,615.7 380.8,607.9 380.2,605.4Z" fill="#fff" stroke="#000" stroke-width="1.1"/>
<path d="M361.1,606.7 362.4,609 378.6,601.2 377.3,598.8Z" fill="#fff" stroke="#000" stroke-width="1.1"/>
<path d="M356.6,630 357.4,633.3 355.6,633.7 354,630.6 352.3,630.6 352.3,633.7 350.2,633.3 349.5,630 347.8,629.3 346.8,631.9 344.8,630.6 345,627.6 343.4,626.2 341.6,627.9 339.8,626 340.9,623.5 339.6,621.7 337.3,622.4 336,620 337.9,618.4 337.1,616.3 334.4,615.9 333.8,613.3 336.2,612.8 336,610.7 333.4,609.2 333.5,606.8 336.1,607.4 336.5,605.6 334.2,603.1 335,601.2 337.6,602.9 338.5,601.5 336.8,598.5 338.2,597.2 340.5,599.8 341.8,599 341,595.8 342.8,595.3 344.4,598.4 346.1,598.4 346.1,595.3 348.2,595.7 348.9,599 350.6,599.7 351.6,597.2 353.6,598.4 353.4,601.5 355,602.8 356.8,601.1 358.6,603 357.5,605.5 358.8,607.3 361.1,606.7 362.4,609 360.5,610.6 361.3,612.7 364,613.2 364.6,615.7 362.2,616.2 362.4,618.3 365,619.9 364.9,622.2 362.3,621.6 361.9,623.4 364.2,625.9 363.4,627.8 360.8,626.1 359.9,627.5 361.6,630.5 360.2,631.8 357.9,629.3Z" fill="#fff" stroke="#000" stroke-width="1.5"/>
<ellipse cx="351" cy="613.6" rx="13" ry="9" transform="rotate(62 351 613.6)" fill="#fff" stroke="#000" stroke-width="1.7"/>
<path d="M336.1,606.4 345.1,602.1 356.9,625.2 347.9,629.6Z" fill="#fff" stroke="none" stroke-width="0"/>
<path d="M336.1,606.4 345.1,602.1" stroke="#000" stroke-width="1.7"/>
<path d="M347.9,629.6 356.9,625.2" stroke="#000" stroke-width="1.7"/>
<ellipse cx="342" cy="618" rx="13" ry="9" transform="rotate(62 342 618)" fill="#fff" stroke="#000" stroke-width="1.7"/>
<path d="M337.7,605.7 339.1,605.1 340.6,604.9 342.2,605 343.9,605.5 345.5,606.2 347.1,607.3 348.6,608.6 350,610.2 351.2,612 352.2,613.9 353,615.9 353.5,617.9 353.8,619.9 353.8,621.8 353.5,623.6 352.9,625.2 352.2,626.6 351.1,627.8 349.9,628.6" fill="none" stroke="#000" stroke-width="0.9"/>
<path d="M339.3,604.9 340.7,604.3 342.2,604.1 343.8,604.2 345.5,604.7 347.1,605.5 348.7,606.5 350.2,607.9 351.6,609.4 352.8,611.2 353.8,613.1 354.6,615.1 355.1,617.1 355.4,619.1 355.4,621 355.1,622.8 354.6,624.4 353.8,625.8 352.7,627 351.5,627.8" fill="none" stroke="#000" stroke-width="0.9"/>
<path d="M340.9,604.1 342.3,603.5 343.8,603.3 345.5,603.5 347.1,603.9 348.8,604.7 350.4,605.7 351.9,607.1 353.2,608.7 354.5,610.4 355.5,612.3 356.2,614.3 356.8,616.3 357,618.3 357,620.2 356.7,622 356.2,623.6 355.4,625 354.4,626.2 353.1,627" fill="none" stroke="#000" stroke-width="0.9"/>
<path d="M342.6,603.3 343.9,602.8 345.5,602.6 347.1,602.7 348.7,603.1 350.4,603.9 352,605 353.5,606.3 354.9,607.9 356.1,609.6 357.1,611.5 357.9,613.5 358.4,615.5 358.7,617.5 358.6,619.4 358.4,621.2 357.8,622.9 357,624.3 356,625.4 354.8,626.3" fill="none" stroke="#000" stroke-width="0.9"/>
<path d="M344.2,602.5 345.6,602 347.1,601.8 348.7,601.9 350.3,602.3 352,603.1 353.6,604.2 355.1,605.5 356.5,607.1 357.7,608.8 358.7,610.7 359.5,612.7 360,614.7 360.3,616.7 360.3,618.7 360,620.5 359.4,622.1 358.6,623.5 357.6,624.6 356.4,625.5" fill="none" stroke="#000" stroke-width="0.9"/>
<ellipse cx="342" cy="618" rx="9.8" ry="6.8" transform="rotate(62 342 618)" fill="#fff" stroke="#000" stroke-width="1.6"/>
<path d="M348.1,624.4 347.5,624.2 347,624 346.5,623.8 346,623.5 345.4,623.1 344.9,622.8 344.4,622.4 344,621.9 343.5,621.5 343.1,621 342.6,620.4 342.2,619.9 341.9,619.3 341.5,618.7 341.2,618.1 340.9,617.5 340.7,616.8 340.5,616.2 340.3,615.5 340.1,614.9 340,614.3 339.9,613.6 339.9,613 339.9,612.4 339.9,611.8 340,611.2 340.1,610.6 340.3,610.1 340.4,609.6 340.7,609.1" fill="none" stroke="#000" stroke-width="1"/>
<ellipse cx="303.5" cy="643" rx="39" ry="27" transform="rotate(68 303.5 643)" fill="#fff" stroke="#000" stroke-width="1.8"/>
<path d="M271.3,617.2 286.3,608.2 320.7,677.8 305.7,686.8Z" fill="#fff" stroke="none" stroke-width="0"/>
<path d="M271.3,617.2 286.3,608.2" stroke="#000" stroke-width="1.8"/>
<path d="M305.7,686.8 320.7,677.8" stroke="#000" stroke-width="1.8"/>
<ellipse cx="288.5" cy="652" rx="39" ry="27" transform="rotate(68 288.5 652)" fill="#fff" stroke="#000" stroke-width="1.8"/>
<ellipse cx="288.5" cy="652" rx="35.1" ry="24.3" transform="rotate(68 288.5 652)" fill="none" stroke="#000" stroke-width="1.3"/>
<ellipse cx="288.5" cy="652" rx="25.7" ry="17.8" transform="rotate(68 288.5 652)" fill="#fff" stroke="#000" stroke-width="1.5"/>
<ellipse cx="288.5" cy="652" rx="21.5" ry="14.9" transform="rotate(68 288.5 652)" fill="#fff" stroke="#000" stroke-width="1.6"/>
<ellipse cx="299.9" cy="680.2" rx="3.9" ry="2.5" transform="rotate(68 299.9 680.2)" fill="#fff" stroke="#000" stroke-width="1.1"/>
<ellipse cx="293.3" cy="681.3" rx="3.9" ry="2.5" transform="rotate(68 293.3 681.3)" fill="#fff" stroke="#000" stroke-width="1.1"/>
<ellipse cx="286.2" cy="679.5" rx="3.9" ry="2.5" transform="rotate(68 286.2 679.5)" fill="#fff" stroke="#000" stroke-width="1.1"/>
<ellipse cx="279.4" cy="675" rx="3.9" ry="2.5" transform="rotate(68 279.4 675)" fill="#fff" stroke="#000" stroke-width="1.1"/>
<ellipse cx="273.5" cy="668.2" rx="3.9" ry="2.5" transform="rotate(68 273.5 668.2)" fill="#fff" stroke="#000" stroke-width="1.1"/>
<ellipse cx="269" cy="659.9" rx="3.9" ry="2.5" transform="rotate(68 269 659.9)" fill="#fff" stroke="#000" stroke-width="1.1"/>
<ellipse cx="266.4" cy="650.8" rx="3.9" ry="2.5" transform="rotate(68 266.4 650.8)" fill="#fff" stroke="#000" stroke-width="1.1"/>
<ellipse cx="266" cy="641.8" rx="3.9" ry="2.5" transform="rotate(68 266 641.8)" fill="#fff" stroke="#000" stroke-width="1.1"/>
<ellipse cx="267.8" cy="633.8" rx="3.9" ry="2.5" transform="rotate(68 267.8 633.8)" fill="#fff" stroke="#000" stroke-width="1.1"/>
<ellipse cx="271.6" cy="627.6" rx="3.9" ry="2.5" transform="rotate(68 271.6 627.6)" fill="#fff" stroke="#000" stroke-width="1.1"/>
<ellipse cx="277.1" cy="623.8" rx="3.9" ry="2.5" transform="rotate(68 277.1 623.8)" fill="#fff" stroke="#000" stroke-width="1.1"/>
<ellipse cx="283.7" cy="622.7" rx="3.9" ry="2.5" transform="rotate(68 283.7 622.7)" fill="#fff" stroke="#000" stroke-width="1.1"/>
<ellipse cx="290.8" cy="624.5" rx="3.9" ry="2.5" transform="rotate(68 290.8 624.5)" fill="#fff" stroke="#000" stroke-width="1.1"/>
<ellipse cx="297.6" cy="629" rx="3.9" ry="2.5" transform="rotate(68 297.6 629)" fill="#fff" stroke="#000" stroke-width="1.1"/>
<ellipse cx="303.5" cy="635.8" rx="3.9" ry="2.5" transform="rotate(68 303.5 635.8)" fill="#fff" stroke="#000" stroke-width="1.1"/>
<ellipse cx="308" cy="644.1" rx="3.9" ry="2.5" transform="rotate(68 308 644.1)" fill="#fff" stroke="#000" stroke-width="1.1"/>
<ellipse cx="310.6" cy="653.2" rx="3.9" ry="2.5" transform="rotate(68 310.6 653.2)" fill="#fff" stroke="#000" stroke-width="1.1"/>
<ellipse cx="311" cy="662.2" rx="3.9" ry="2.5" transform="rotate(68 311 662.2)" fill="#fff" stroke="#000" stroke-width="1.1"/>
<ellipse cx="309.2" cy="670.2" rx="3.9" ry="2.5" transform="rotate(68 309.2 670.2)" fill="#fff" stroke="#000" stroke-width="1.1"/>
<ellipse cx="305.4" cy="676.4" rx="3.9" ry="2.5" transform="rotate(68 305.4 676.4)" fill="#fff" stroke="#000" stroke-width="1.1"/>
<path d="M303.5,651.1 302.6,650 301.7,648.8 300.9,647.5 300.2,646.2 299.5,644.9 298.9,643.5 298.3,642.1 297.8,640.7 297.4,639.2" fill="none" stroke="#000" stroke-width="1.4"/>
<ellipse cx="243" cy="677" rx="31" ry="22" transform="rotate(66 243 677)" fill="#fff" stroke="#000" stroke-width="1.8"/>
<path d="M215.8,656 229.8,649 256.2,705 242.2,712Z" fill="#fff" stroke="none" stroke-width="0"/>
<path d="M215.8,656 229.8,649" stroke="#000" stroke-width="1.8"/>
<path d="M242.2,712 256.2,705" stroke="#000" stroke-width="1.8"/>
<ellipse cx="229" cy="684" rx="31" ry="22" transform="rotate(66 229 684)" fill="#fff" stroke="#000" stroke-width="1.8"/>
<ellipse cx="229" cy="684" rx="24.8" ry="17.6" transform="rotate(66 229 684)" fill="#fff" stroke="#000" stroke-width="1.6"/>
<path d="M244.3,700.3 242.9,700 241.6,699.5 240.2,698.9 238.9,698.2 237.6,697.4 236.4,696.5 235.1,695.4 233.9,694.3 232.8,693.1 231.7,691.9 230.6,690.5 229.6,689.1 228.7,687.7 227.9,686.1 227.1,684.6 226.4,682.9 225.8,681.3 225.3,679.7 224.8,678 224.5,676.3 224.2,674.6 224.1,673 224,671.3 224.1,669.7 224.2,668.1 224.4,666.6 224.7,665.1 225.1,663.7 225.6,662.3 226.2,661.1" fill="none" stroke="#000" stroke-width="1.5"/>
<ellipse cx="215" cy="697" rx="27" ry="21" transform="rotate(68 215 697)" fill="#fff" stroke="#000" stroke-width="1.8"/>
<path d="M191.7,678.5 203.7,672.5 226.3,721.5 214.3,727.5Z" fill="#fff" stroke="none" stroke-width="0"/>
<path d="M191.7,678.5 203.7,672.5" stroke="#000" stroke-width="1.8"/>
<path d="M214.3,727.5 226.3,721.5" stroke="#000" stroke-width="1.8"/>
<ellipse cx="203" cy="703" rx="27" ry="21" transform="rotate(68 203 703)" fill="#fff" stroke="#000" stroke-width="1.8"/>
<ellipse cx="203" cy="703" rx="23.2" ry="18.1" transform="rotate(68 203 703)" fill="#fff" stroke="#000" stroke-width="1.6"/>
<path d="M217.4,719.5 216,719.4 214.7,719.2 213.4,718.8 212.1,718.3 210.8,717.8 209.5,717.1 208.2,716.3 207,715.5 205.8,714.5 204.7,713.4 203.6,712.3 202.5,711.1 201.6,709.8 200.7,708.5 199.8,707.1 199.1,705.6 198.4,704.1 197.8,702.6 197.3,701.1 196.9,699.5 196.6,697.9 196.3,696.3 196.2,694.7 196.1,693.1 196.2,691.6 196.3,690 196.5,688.5 196.9,687.1 197.3,685.7 197.8,684.3 198.4,683.1 199,681.8" fill="none" stroke="#000" stroke-width="1.5"/>
<ellipse cx="299.5" cy="738.5" rx="30" ry="21.5" transform="rotate(84 299.5 738.5)" fill="#fff" stroke="#000" stroke-width="1.6"/>
<text transform="translate(383.4 37.1) scale(0.87 1)" font-size="16.3" font-weight="bold" letter-spacing="1.2" stroke="#000" stroke-width="0.55">28‘261</text>
<text transform="translate(270.9 108.3) scale(0.87 1)" font-size="16.3" font-weight="bold" letter-spacing="1.2" stroke="#000" stroke-width="0.55">28‘260</text>
<text transform="translate(469.7 88.6) scale(0.87 1)" font-size="16.3" font-weight="bold" letter-spacing="1.2" stroke="#000" stroke-width="0.55">28‘263</text>
<text transform="translate(585.7 44.6) scale(0.87 1)" font-size="16.3" font-weight="bold" letter-spacing="1.2" stroke="#000" stroke-width="0.55">28‘267</text>
<text transform="translate(658.7 141.1) scale(0.87 1)" font-size="16.3" font-weight="bold" letter-spacing="1.2" stroke="#000" stroke-width="0.55">91‘361</text>
<text transform="translate(627.7 157.6) scale(0.87 1)" font-size="16.3" font-weight="bold" letter-spacing="1.2" stroke="#000" stroke-width="0.55">28‘266</text>
<text transform="translate(595.7 174.6) scale(0.87 1)" font-size="16.3" font-weight="bold" letter-spacing="1.2" stroke="#000" stroke-width="0.55">28‘265</text>
<text transform="translate(568.7 192.6) scale(0.87 1)" font-size="16.3" font-weight="bold" letter-spacing="1.2" stroke="#000" stroke-width="0.55">28‘264</text>
<text transform="translate(288.7 196.6) scale(0.87 1)" font-size="16.3" font-weight="bold" letter-spacing="1.2" stroke="#000" stroke-width="0.55">28‘262</text>
<text transform="translate(249.7 230.2) scale(0.87 1)" font-size="16.3" font-weight="bold" letter-spacing="1.2" stroke="#000" stroke-width="0.55">28‘259</text>
<text transform="translate(600.7 285.6) scale(0.87 1)" font-size="16.3" font-weight="bold" letter-spacing="1.2" stroke="#000" stroke-width="0.55">28‘268</text>
<text transform="translate(202.2 263.6) scale(0.87 1)" font-size="16.3" font-weight="bold" letter-spacing="1.2" stroke="#000" stroke-width="0.55">28‘258</text>
<text transform="translate(157.2 318.6) scale(0.87 1)" font-size="16.3" font-weight="bold" letter-spacing="1.2" stroke="#000" stroke-width="0.55">28‘256</text>
<text transform="translate(118.5 338.4) scale(0.87 1)" font-size="16.3" font-weight="bold" letter-spacing="1.2" stroke="#000" stroke-width="0.55">91‘376</text>
<text transform="translate(330.7 337.6) scale(0.87 1)" font-size="16.3" font-weight="bold" letter-spacing="1.2" stroke="#000" stroke-width="0.55">28‘257</text>
<text transform="translate(583.7 367.6) scale(0.87 1)" font-size="16.3" font-weight="bold" letter-spacing="1.2" stroke="#000" stroke-width="0.55">28‘254</text>
<text transform="translate(142.2 467.6) scale(0.87 1)" font-size="16.3" font-weight="bold" letter-spacing="1.2" stroke="#000" stroke-width="0.55">28‘285</text>
<text transform="translate(104.3 502.6) scale(0.87 1)" font-size="16.3" font-weight="bold" letter-spacing="1.2" stroke="#000" stroke-width="0.55">28‘286</text>
<text transform="translate(608.7 499.6) scale(0.87 1)" font-size="16.3" font-weight="bold" letter-spacing="1.2" stroke="#000" stroke-width="0.55">28‘277</text>
<text transform="translate(552.7 545.2) scale(0.87 1)" font-size="16.3" font-weight="bold" letter-spacing="1.2" stroke="#000" stroke-width="0.55">28‘278</text>
<text transform="translate(571.7 593.6) scale(0.87 1)" font-size="16.3" font-weight="bold" letter-spacing="1.2" stroke="#000" stroke-width="0.55">28‘279</text>
<text transform="translate(500.7 633.6) scale(0.87 1)" font-size="16.3" font-weight="bold" letter-spacing="1.2" stroke="#000" stroke-width="0.55">28‘280</text>
<text transform="translate(196.7 619.6) scale(0.87 1)" font-size="16.3" font-weight="bold" letter-spacing="1.2" stroke="#000" stroke-width="0.55">28‘282</text>
<text transform="translate(347.7 689.6) scale(0.87 1)" font-size="16.3" font-weight="bold" letter-spacing="1.2" stroke="#000" stroke-width="0.55">91‘371</text>
<text transform="translate(344.7 747.2) scale(0.87 1)" font-size="16.3" font-weight="bold" letter-spacing="1.2" stroke="#000" stroke-width="0.55">28‘283</text>
<text transform="translate(171.7 754.6) scale(0.87 1)" font-size="16.3" font-weight="bold" letter-spacing="1.2" stroke="#000" stroke-width="0.55">28‘284</text>
<text transform="translate(614.7 742.6) scale(0.87 1)" font-size="16.3" font-weight="bold" letter-spacing="1.2" stroke="#000" stroke-width="0.1">28‘230</text>
<path d="M405,42 397,53" stroke="#000" stroke-width="1.1"/>
<path d="M322.5,103 342.5,106" stroke="#000" stroke-width="1.1"/>
<path d="M489,93 487,113" stroke="#000" stroke-width="1.1"/>
<path d="M605,49 604,62" stroke="#000" stroke-width="1.1"/>
<path d="M669,112 675,126" stroke="#000" stroke-width="1.1"/>
<path d="M637,126 645,143" stroke="#000" stroke-width="1.1"/>
<path d="M607.5,146 613,157" stroke="#000" stroke-width="1.1"/>
<path d="M580,164 585,175" stroke="#000" stroke-width="1.1"/>
<path d="M340,190.5 362.5,187.5" stroke="#000" stroke-width="1.1"/>
<path d="M300.6,224 325,223" stroke="#000" stroke-width="1.1"/>
<path d="M580.6,279 599,279" stroke="#000" stroke-width="1.1"/>
<path d="M254,258 266,260.5" stroke="#000" stroke-width="1.1"/>
<path d="M181,324.5 186,334" stroke="#000" stroke-width="1.1"/>
<path d="M143,342.5 149,354" stroke="#000" stroke-width="1.1"/>
<path d="M326,334.4 300,337.6" stroke="#000" stroke-width="1.1"/>
<path d="M380,333.6 402,342.4" stroke="#000" stroke-width="1.1"/>
<path d="M373,342 376,353" stroke="#000" stroke-width="1.1"/>
<path d="M564,351 582.5,360.6" stroke="#000" stroke-width="1.1"/>
<path d="M168,474 170,489" stroke="#000" stroke-width="1.1"/>
<path d="M130,506.5 131,522.5" stroke="#000" stroke-width="1.1"/>
<path d="M594,489 608,494" stroke="#000" stroke-width="1.1"/>
<path d="M534,534 551,539" stroke="#000" stroke-width="1.1"/>
<path d="M555.5,589 570,589" stroke="#000" stroke-width="1.1"/>
<path d="M477.5,620 499,626" stroke="#000" stroke-width="1.1"/>
<path d="M216,624 225,645" stroke="#000" stroke-width="1.1"/>
<path d="M329,674 346,683" stroke="#000" stroke-width="1.1"/>
<path d="M327,742 342.5,742" stroke="#000" stroke-width="1.1"/>
<path d="M192.5,723 192.5,739.6" stroke="#000" stroke-width="1.1"/>
<path d="M617,708 631,724" stroke="#000" stroke-width="1.1"/>
</svg></body></html>
